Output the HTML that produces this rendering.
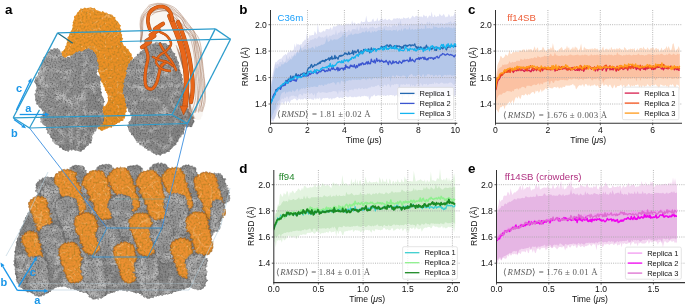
<!DOCTYPE html>
<html><head><meta charset="utf-8"><title>RMSD figure</title>
<style>
html,body{margin:0;padding:0;background:#fff;width:685px;height:304px;overflow:hidden}
svg{display:block;will-change:transform}
text{font-family:"Liberation Sans",sans-serif}
.g{stroke:#a4a4a4;stroke-width:0.8;stroke-dasharray:1 1.2}
.sp{stroke:#333;stroke-width:1.05}
.tk{stroke:#333;stroke-width:0.8}
.tl{font-size:8.6px;fill:#111}
.al{font-size:8.6px;fill:#111}
.pl{font-size:13.4px;font-weight:bold;fill:#000}
.tt{font-size:9.6px}
.rm{font-family:"Liberation Serif",serif;font-size:8.8px;fill:#5a5a5a}
.lg{font-size:7.5px;fill:#111}
.ab{font-size:11px;font-weight:bold;fill:#1a96e8}
</style></head><body>
<svg xmlns="http://www.w3.org/2000/svg" width="685" height="304" viewBox="0 0 685 304">
<rect width="685" height="304" fill="#fff"/>
<g id="panel-a">
<defs>
<filter id="texG" filterUnits="userSpaceOnUse" x="0" y="0" width="685" height="304">
  <feTurbulence type="fractalNoise" baseFrequency="0.6" numOctaves="2" seed="3" result="n"/>
  <feColorMatrix in="n" type="matrix" values="0 0 0 0 0.12  0 0 0 0 0.12  0 0 0 0 0.12  2.4 0 0 0 -1.0" result="a"/>
  <feTurbulence type="turbulence" baseFrequency="0.07" numOctaves="2" seed="5" result="n2"/>
  <feColorMatrix in="n2" type="matrix" values="0 0 0 0 0.8  0 0 0 0 0.8  0 0 0 0 0.8  -3.2 0 0 0 0.6" result="b0"/>
  <feGaussianBlur in="b0" stdDeviation="0.8" result="b"/>
  <feTurbulence type="fractalNoise" baseFrequency="0.09" numOctaves="1" seed="12" result="n3"/>
  <feColorMatrix in="n3" type="matrix" values="0 0 0 0 0.25  0 0 0 0 0.25  0 0 0 0 0.25  2.2 0 0 0 -0.95" result="c"/>
  <feMerge result="tx"><feMergeNode in="c"/><feMergeNode in="b"/><feMergeNode in="a"/></feMerge>
  <feComposite in="tx" in2="SourceGraphic" operator="in" result="m"/>
  <feMerge><feMergeNode in="SourceGraphic"/><feMergeNode in="m"/></feMerge>
</filter>
<filter id="texO" filterUnits="userSpaceOnUse" x="0" y="0" width="685" height="304">
  <feTurbulence type="fractalNoise" baseFrequency="0.5" numOctaves="2" seed="9" result="n"/>
  <feColorMatrix in="n" type="matrix" values="0 0 0 0 0.45  0 0 0 0 0.22  0 0 0 0 0.02  2.4 0 0 0 -1.0" result="a"/>
  <feTurbulence type="turbulence" baseFrequency="0.085" numOctaves="2" seed="6" result="n2"/>
  <feColorMatrix in="n2" type="matrix" values="0 0 0 0 1  0 0 0 0 0.68  0 0 0 0 0.25  -3.5 0 0 0 0.4" result="b0"/>
  <feGaussianBlur in="b0" stdDeviation="0.45" result="b"/>
  <feMerge result="tx"><feMergeNode in="b"/><feMergeNode in="a"/></feMerge>
  <feComposite in="tx" in2="SourceGraphic" operator="in" result="m"/>
  <feMerge><feMergeNode in="SourceGraphic"/><feMergeNode in="m"/></feMerge>
</filter>
<linearGradient id="gG1" x1="0" y1="0" x2="1" y2="1">
  <stop offset="0" stop-color="#a0a0a0"/><stop offset="0.55" stop-color="#8e8e8e"/><stop offset="1" stop-color="#7a7a7a"/>
</linearGradient>
<linearGradient id="gG2" x1="0" y1="0" x2="1" y2="1">
  <stop offset="0" stop-color="#9a9a9a"/><stop offset="0.6" stop-color="#8c8c8c"/><stop offset="1" stop-color="#7a7a7a"/>
</linearGradient>
<linearGradient id="gO" x1="0" y1="0" x2="1" y2="1">
  <stop offset="0" stop-color="#f4982c"/><stop offset="1" stop-color="#e68a22"/>
</linearGradient>
</defs>
<path d="M74.4,18.3 L73.9,17.0 L74.2,16.0 L75.7,15.6 L76.3,14.7 L76.8,13.8 L77.1,12.8 L78.0,12.2 L78.6,11.4 L79.2,10.5 L80.0,9.9 L80.5,8.6 L81.9,8.7 L83.1,9.0 L83.9,8.0 L84.8,7.5 L86.0,8.2 L87.0,8.2 L88.0,7.8 L89.0,8.0 L90.1,7.2 L91.2,7.5 L92.1,8.1 L93.1,8.4 L94.4,7.7 L95.1,8.7 L95.9,9.7 L96.7,10.2 L97.7,10.5 L98.7,10.7 L99.5,11.3 L100.5,11.4 L101.2,12.3 L102.4,11.2 L103.4,11.5 L104.2,12.6 L105.2,12.8 L106.4,12.4 L107.3,12.9 L108.1,13.9 L109.1,13.9 L110.0,14.4 L111.2,14.4 L112.2,14.8 L112.9,15.7 L113.3,16.8 L114.7,16.9 L115.5,17.6 L115.2,19.1 L115.9,19.9 L116.5,20.7 L117.5,21.3 L118.0,22.1 L118.7,22.9 L119.2,23.8 L119.8,24.7 L120.9,25.4 L120.4,26.7 L120.0,27.9 L120.8,28.8 L121.3,29.7 L120.7,30.8 L120.7,31.8 L121.3,32.7 L121.1,33.8 L122.1,34.6 L122.1,35.6 L122.0,36.7 L122.1,37.7 L123.2,38.5 L122.5,39.7 L122.1,40.7 L122.1,41.7 L122.6,42.7 L122.9,43.6 L123.1,44.5 L123.8,45.2 L123.7,46.3 L125.3,46.0 L125.9,46.7 L126.2,48.0 L127.0,48.7 L128.2,49.0 L128.7,49.9 L128.8,51.1 L129.7,51.7 L130.1,52.7 L131.0,53.3 L131.7,54.2 L131.8,55.3 L131.5,56.5 L132.8,57.2 L133.0,58.2 L132.0,59.4 L132.1,60.4 L132.1,61.5 L132.4,62.5 L132.3,63.6 L132.0,64.6 L131.6,65.6 L131.3,66.5 L131.6,67.7 L130.3,68.3 L129.5,69.0 L129.5,70.1 L129.5,71.1 L128.6,71.9 L128.1,72.8 L128.2,73.9 L127.6,74.7 L128.2,75.9 L127.6,76.7 L126.9,77.6 L127.1,78.6 L127.8,79.6 L126.8,80.5 L126.5,81.5 L126.5,82.5 L126.6,83.5 L127.1,84.5 L127.1,85.5 L127.2,86.5 L126.6,87.5 L128.0,88.5 L127.5,89.5 L126.5,90.5 L126.7,91.5 L127.1,92.5 L127.1,93.5 L126.8,94.5 L127.2,95.5 L126.9,96.5 L127.6,97.6 L127.8,98.6 L127.2,99.6 L126.6,100.6 L127.5,101.6 L127.4,102.6 L126.4,103.6 L126.4,104.6 L126.4,105.6 L126.6,106.6 L126.8,107.7 L126.6,108.7 L126.1,109.6 L126.5,110.7 L126.8,111.7 L125.5,112.5 L125.2,113.5 L125.3,114.5 L125.5,115.6 L125.1,116.6 L124.9,117.7 L124.5,118.8 L123.4,119.3 L123.2,120.7 L122.1,121.0 L120.9,121.1 L120.1,121.7 L119.6,122.8 L118.4,122.7 L117.4,123.0 L116.8,123.9 L115.7,124.1 L115.2,125.2 L114.3,125.7 L113.4,126.2 L112.2,126.1 L111.9,127.7 L110.7,127.6 L109.4,127.2 L108.5,127.7 L107.7,128.5 L106.8,128.8 L105.7,128.9 L104.9,129.7 L103.8,129.5 L103.0,130.5 L101.8,130.8 L100.6,130.2 L99.8,129.3 L98.3,129.3 L97.8,128.1 L98.1,126.8 L97.7,125.8 L98.0,124.8 L98.0,123.6 L98.3,122.6 L98.6,121.7 L99.5,121.0 L99.3,119.8 L99.6,118.8 L100.9,118.3 L101.6,117.6 L101.8,116.5 L101.9,115.5 L102.6,114.7 L102.4,113.7 L102.3,112.8 L102.5,111.9 L101.7,111.0 L102.1,109.9 L102.6,108.8 L102.1,107.8 L102.0,106.6 L103.2,105.8 L103.7,104.9 L103.9,103.9 L104.5,103.1 L104.6,102.0 L104.9,101.1 L105.4,100.2 L106.2,99.5 L105.8,98.2 L107.0,97.7 L107.8,97.0 L108.0,96.0 L107.4,95.1 L107.3,94.1 L106.9,93.3 L106.0,92.6 L106.4,91.3 L105.0,90.8 L104.8,89.8 L104.8,88.7 L104.8,87.6 L103.6,87.1 L103.6,86.0 L103.6,84.9 L102.7,84.2 L102.6,83.1 L101.8,82.4 L101.2,81.5 L100.6,80.7 L100.9,79.5 L99.9,78.8 L99.5,77.8 L99.9,76.6 L99.7,75.6 L99.5,74.6 L99.0,73.7 L98.9,72.7 L98.1,71.8 L98.0,70.8 L98.1,69.8 L97.4,68.8 L97.6,67.8 L97.8,66.8 L97.6,65.8 L97.0,64.9 L97.5,63.8 L97.0,62.9 L96.3,62.2 L96.4,61.1 L95.4,60.6 L94.5,60.1 L93.8,59.5 L93.6,58.3 L92.2,58.6 L91.7,57.6 L91.1,56.8 L90.2,56.3 L89.2,56.1 L88.3,55.7 L87.3,55.8 L86.3,56.5 L85.4,55.5 L84.4,56.1 L83.4,56.1 L82.4,55.9 L81.4,55.2 L80.3,55.8 L79.3,55.5 L78.4,55.0 L77.3,55.6 L76.4,55.3 L75.4,55.2 L74.4,55.6 L73.4,56.0 L72.4,55.4 L71.4,55.8 L70.5,55.9 L69.5,55.5 L68.6,55.8 L67.6,56.0 L67.0,56.8 L66.1,57.4 L65.6,58.7 L64.7,59.1 L63.5,59.0 L62.9,60.1 L61.9,60.3 L60.7,60.4 L59.5,60.4 L58.3,59.9 L58.3,58.5 L57.7,57.5 L57.6,56.3 L58.8,55.6 L59.2,54.5 L59.7,53.5 L60.4,52.9 L61.6,52.8 L61.6,51.5 L62.8,51.2 L63.5,50.5 L64.2,49.7 L64.7,48.9 L65.3,48.1 L65.4,47.0 L65.4,45.9 L66.8,45.5 L66.4,44.3 L66.6,43.5 L66.8,42.7 L67.5,41.7 L66.6,40.8 L67.1,39.7 L67.6,38.7 L67.4,37.5 L68.3,36.8 L68.9,36.0 L69.1,34.9 L69.1,33.8 L70.1,33.2 L70.3,32.3 L70.6,31.4 L71.4,30.6 L71.8,29.7 L72.3,28.8 L72.5,27.8 L72.8,26.9 L72.3,25.7 L72.4,24.8 L73.3,23.9 L72.7,22.9 L72.9,21.9 L73.4,20.9 L73.7,19.9 Z" fill="url(#gO)" filter="url(#texO)"/>
<path d="M101.5,97.0 L101.8,96.3 L102.3,95.8 L103.0,95.5 L103.7,95.4 L104.4,95.4 L105.0,95.5 L105.6,95.8 L106.2,96.2 L106.8,96.8 L107.4,97.5 L107.8,98.3 L108.0,99.0 L108.0,99.8 L107.9,100.7 L107.7,101.6 L107.3,102.5 L106.9,103.3 L106.5,104.0 L106.0,104.6 L105.4,105.3 L104.8,105.9 L104.1,106.3 L103.5,106.3 L103.0,106.0 L102.6,105.0 L102.2,103.5 L101.8,101.7 L101.6,99.9 L101.4,98.2 Z" fill="#fff"/>
<path d="M148.3,5.3 L149.5,5.3 L150.4,4.8 L151.2,4.1 L152.1,3.7 L153.2,3.7 L154.1,3.2 L155.1,3.0 L156.1,2.7 L157.1,2.3 L158.1,2.6 L159.1,2.9 L160.2,2.5 L161.2,2.5 L162.1,3.2 L163.1,3.4 L164.1,3.5 L165.1,3.7 L166.1,3.8 L167.1,4.1 L168.0,4.6 L169.0,4.9 L170.1,4.9 L170.8,5.8 L171.6,6.5 L172.5,6.8 L173.5,7.2 L174.3,7.9 L175.1,8.4 L176.0,8.8 L176.6,9.8 L177.8,9.9 L178.5,10.7 L178.9,11.7 L179.7,12.4 L180.7,12.8 L181.1,13.8 L181.6,14.7 L182.3,15.4 L182.8,16.3 L183.7,16.9 L184.3,17.7 L184.8,18.6 L184.9,19.7 L186.1,20.2 L186.4,21.2 L186.3,22.3 L186.9,23.1 L187.7,23.8 L188.4,24.5 L188.9,25.4 L189.8,25.9 L190.5,26.6 L191.4,27.0 L192.3,27.6 L192.7,28.7 L193.1,29.6 L194.1,30.2 L194.7,31.1 L194.6,32.2 L195.1,33.1 L195.7,34.0 L196.3,34.8 L196.9,35.6 L197.2,36.6 L197.5,37.5 L198.1,38.4 L198.8,39.2 L198.6,40.3 L198.8,41.3 L199.3,42.2 L199.8,43.1 L199.9,44.1 L200.1,45.1 L200.6,46.0 L200.6,47.1 L201.4,48.0 L201.3,49.0 L201.1,50.0 L201.4,51.0 L202.0,52.0 L201.6,53.0 L201.5,54.0 L201.7,55.0 L201.7,56.0 L202.2,57.0 L202.3,58.0 L202.4,59.0 L202.2,60.0 L203.1,60.9 L203.0,61.9 L202.5,63.0 L202.8,64.0 L203.1,64.9 L203.2,65.9 L203.1,67.0 L203.5,67.9 L203.5,68.9 L204.0,69.9 L204.2,70.9 L204.0,71.9 L203.7,72.9 L204.4,73.9 L204.5,74.9 L204.1,75.9 L204.2,76.9 L204.4,77.9 L204.7,78.9 L204.9,79.9 L205.0,80.9 L204.9,81.9 L205.3,82.8 L205.7,83.8 L205.2,84.9 L205.1,85.9 L205.3,86.9 L205.6,87.8 L205.4,88.9 L205.5,89.9 L205.8,90.8 L205.6,91.9 L206.2,92.8 L206.0,93.9 L205.7,94.9 L206.0,95.9 L206.4,96.9 L205.8,97.9 L205.6,98.9 L205.7,99.9 L205.5,100.9 L205.7,101.9 L205.6,102.9 L205.5,103.9 L204.9,104.8 L205.5,106.0 L205.0,106.9 L204.2,107.8 L204.1,108.8 L204.1,109.8 L203.7,110.8 L203.2,111.6 L203.2,112.7 L202.7,113.6 L202.7,114.7 L202.5,115.7 L201.8,116.5 L201.2,117.3 L201.2,118.5 L200.6,119.4 L199.4,119.8 L198.5,120.1 L197.5,120.0 L196.5,119.8 L195.6,119.3 L194.7,118.6 L194.1,117.8 L193.3,117.2 L192.4,116.6 L192.3,115.4 L192.0,114.4 L191.4,113.6 L190.8,112.7 L190.7,111.7 L190.3,110.7 L189.7,109.9 L189.6,108.9 L188.7,108.1 L188.5,107.2 L188.3,106.2 L187.8,105.3 L186.9,104.6 L186.9,103.5 L186.7,102.5 L186.3,101.6 L185.8,100.7 L185.2,99.9 L184.7,99.0 L184.1,98.2 L184.1,97.1 L182.9,96.7 L182.5,95.7 L182.4,94.7 L181.7,93.9 L180.8,93.4 L180.2,92.6 L179.6,91.8 L178.6,91.4 L178.0,90.6 L176.9,90.4 L176.1,89.9 L175.4,89.1 L174.7,88.3 L173.5,88.3 L172.7,87.8 L172.1,86.8 L171.3,86.3 L170.4,85.8 L169.4,85.6 L168.5,85.2 L167.5,84.8 L166.7,84.2 L165.7,83.9 L164.7,83.7 L164.1,82.7 L163.3,82.0 L162.3,81.7 L161.4,81.4 L160.7,80.6 L159.8,80.1 L158.8,79.8 L158.1,79.0 L157.0,79.0 L156.2,78.4 L155.4,77.7 L154.5,77.2 L153.4,77.1 L152.8,76.2 L152.0,75.6 L151.2,75.0 L150.3,74.6 L149.3,74.2 L148.5,73.6 L147.6,73.1 L147.1,72.2 L145.8,72.1 L145.2,71.2 L144.9,70.1 L144.3,69.3 L143.5,68.6 L143.1,67.6 L142.9,66.6 L142.3,65.8 L142.1,64.8 L141.3,63.9 L141.0,63.0 L140.9,61.9 L141.0,60.9 L140.2,60.0 L140.0,59.0 L140.5,57.9 L140.3,57.0 L140.1,56.0 L139.7,55.0 L139.6,54.0 L139.4,53.0 L139.4,52.0 L139.3,51.0 L139.0,49.9 L139.6,49.0 L139.9,48.0 L139.7,47.0 L139.7,45.9 L140.1,45.0 L140.1,44.0 L140.0,43.0 L140.3,42.0 L139.8,41.0 L140.0,40.0 L140.1,39.0 L140.1,38.0 L139.6,37.0 L140.1,36.0 L140.3,35.0 L140.1,34.0 L140.1,33.0 L139.8,32.0 L139.7,31.0 L139.4,30.0 L139.8,29.0 L139.2,28.0 L139.2,27.0 L139.5,26.0 L139.8,25.0 L139.4,24.0 L139.5,23.0 L139.8,22.0 L139.4,21.0 L139.7,20.0 L139.6,18.9 L139.6,17.9 L139.9,16.9 L140.6,16.0 L140.6,14.9 L141.1,14.0 L142.0,13.4 L142.5,12.5 L143.0,11.6 L143.6,10.8 L144.2,10.0 L144.6,9.0 L145.3,8.3 L146.1,7.6 L146.6,6.7 Z" fill="#efe4dc" fill-opacity="0.35"/>
<path d="M148.6,5.3 L149.6,5.1 L151.0,4.7 L152.6,4.3 L154.4,3.9 L156.2,3.6 L157.9,3.4 L159.5,3.4 L161.1,3.5 L162.8,3.7 L164.4,3.9 L166.0,4.3 L167.6,4.7 L169.0,5.1 L170.4,5.6 L171.8,6.2 L173.1,6.8 L174.4,7.6 L175.7,8.6 L177.1,9.8 L178.4,11.3 L179.8,12.8 L181.1,14.4 L182.3,16.0 L183.4,17.3 L184.3,18.5 L185.2,19.5 L185.9,20.4 L186.6,21.4 L187.3,22.3 L188.1,23.4 L189.0,24.5 L189.9,25.8 L190.8,27.0 L191.7,28.3 L192.6,29.6 L193.5,30.8 L194.4,32.0 L195.3,33.2 L196.3,34.4 L197.1,35.5 L197.9,36.8 L198.6,38.1 L199.2,39.5 L199.6,41.0 L200.0,42.5 L200.4,44.0 L200.7,45.7 L201.0,47.4 L201.2,49.3 L201.4,51.3 L201.6,53.4 L201.8,55.5 L202.0,57.7 L202.2,59.8 L202.4,61.8 L202.7,63.9 L202.9,65.9 L203.2,68.0 L203.4,70.1 L203.6,72.3 L203.9,74.4 L204.1,76.6 L204.4,78.9 L204.6,81.1 L204.8,83.4 L205.0,85.7 L205.1,88.1 L205.2,90.6 L205.4,93.2 L205.4,95.7 L205.4,98.1 L205.2,100.4 L204.9,102.6 L204.3,104.9 L203.7,107.1 L203.1,109.0 L202.5,110.7 L202.2,111.9" fill="none" stroke="#8a5030" stroke-width="0.5" stroke-opacity="0.7"/>
<path d="M148.8,7.0 L149.8,6.7 L151.0,6.2 L152.5,5.6 L154.1,5.0 L155.8,4.6 L157.4,4.3 L158.9,4.2 L160.5,4.3 L162.2,4.4 L163.8,4.7 L165.5,5.0 L167.0,5.4 L168.4,6.0 L169.8,6.6 L171.2,7.3 L172.5,8.1 L173.8,9.0 L175.0,9.9 L176.3,10.9 L177.5,12.0 L178.6,13.1 L179.8,14.3 L180.8,15.5 L181.9,16.7 L182.9,17.9 L183.8,19.2 L184.7,20.4 L185.6,21.7 L186.5,22.9 L187.5,24.1 L188.5,25.2 L189.6,26.3 L190.8,27.3 L191.9,28.4 L192.9,29.5 L193.7,30.7 L194.4,32.0 L194.9,33.4 L195.3,34.8 L195.7,36.2 L196.1,37.7 L196.5,39.1 L197.0,40.6 L197.5,42.0 L198.0,43.4 L198.5,44.9 L199.0,46.4 L199.5,48.0 L199.9,49.7 L200.2,51.5 L200.6,53.3 L200.9,55.1 L201.2,57.0 L201.5,59.0 L201.8,61.0 L202.0,63.1 L202.2,65.3 L202.4,67.5 L202.6,69.7 L202.8,71.9 L203.1,74.1 L203.4,76.3 L203.7,78.6 L204.0,80.8 L204.2,83.1 L204.4,85.4 L204.5,87.7 L204.5,90.1 L204.5,92.5 L204.5,94.9 L204.4,97.2 L204.2,99.5 L203.8,101.7 L203.4,104.1 L202.8,106.4 L202.3,108.5 L201.8,110.3 L201.5,111.6" fill="none" stroke="#8a5030" stroke-width="0.5" stroke-opacity="0.7"/>
<path d="M150.4,8.5 L151.4,8.1 L152.7,7.6 L154.3,7.0 L156.0,6.4 L157.7,6.0 L159.2,5.7 L160.6,5.7 L162.0,5.7 L163.4,5.9 L164.8,6.2 L166.1,6.6 L167.4,7.0 L168.7,7.5 L169.9,8.1 L171.1,8.7 L172.4,9.5 L173.6,10.3 L174.8,11.2 L176.1,12.2 L177.5,13.2 L178.9,14.4 L180.2,15.6 L181.5,16.9 L182.6,18.1 L183.5,19.3 L184.2,20.5 L184.8,21.8 L185.4,23.0 L186.0,24.2 L186.8,25.3 L187.7,26.3 L188.7,27.1 L189.7,27.8 L190.7,28.6 L191.7,29.4 L192.5,30.5 L193.3,31.7 L194.0,33.1 L194.7,34.6 L195.3,36.1 L195.9,37.7 L196.4,39.1 L197.0,40.5 L197.4,41.8 L197.9,43.1 L198.3,44.5 L198.7,46.0 L199.1,47.6 L199.4,49.3 L199.8,51.2 L200.2,53.2 L200.5,55.3 L200.8,57.3 L201.0,59.4 L201.1,61.3 L201.1,63.2 L201.1,65.2 L201.0,67.2 L201.1,69.2 L201.2,71.4 L201.5,73.6 L201.9,76.0 L202.3,78.5 L202.8,81.0 L203.1,83.4 L203.3,85.8 L203.3,88.2 L203.1,90.5 L202.9,92.8 L202.6,95.0 L202.3,97.3 L202.1,99.4 L201.8,101.7 L201.6,104.0 L201.3,106.3 L201.0,108.4 L200.7,110.2 L200.6,111.5" fill="none" stroke="#8a5030" stroke-width="0.5" stroke-opacity="0.7"/>
<path d="M149.4,9.6 L150.2,9.2 L151.4,8.6 L152.8,7.9 L154.3,7.2 L155.9,6.7 L157.4,6.3 L158.9,6.2 L160.6,6.2 L162.2,6.3 L163.9,6.5 L165.5,6.9 L167.0,7.3 L168.4,8.0 L169.7,8.9 L171.0,9.9 L172.3,10.9 L173.5,12.0 L174.7,13.0 L175.8,13.9 L177.0,14.8 L178.1,15.6 L179.2,16.5 L180.2,17.5 L181.1,18.5 L181.9,19.7 L182.5,20.9 L183.1,22.2 L183.7,23.5 L184.3,24.8 L185.1,25.9 L186.0,26.8 L187.0,27.7 L188.1,28.5 L189.2,29.3 L190.3,30.1 L191.2,31.1 L192.0,32.2 L192.8,33.4 L193.5,34.7 L194.1,36.0 L194.7,37.4 L195.3,38.8 L195.8,40.1 L196.2,41.5 L196.6,43.0 L197.0,44.5 L197.3,46.0 L197.7,47.7 L198.0,49.6 L198.4,51.5 L198.7,53.5 L199.0,55.6 L199.3,57.7 L199.6,59.8 L199.8,61.9 L200.0,64.1 L200.2,66.4 L200.4,68.6 L200.6,70.8 L200.8,73.0 L201.0,75.0 L201.2,77.0 L201.4,79.0 L201.6,81.0 L201.8,83.0 L201.9,85.2 L202.1,87.6 L202.3,90.1 L202.4,92.7 L202.5,95.3 L202.4,97.8 L202.2,100.2 L201.8,102.5 L201.2,104.9 L200.4,107.2 L199.7,109.4 L199.0,111.1 L198.6,112.5" fill="none" stroke="#8a5030" stroke-width="0.5" stroke-opacity="0.7"/>
<path d="M150.3,10.1 L151.1,9.7 L152.2,9.1 L153.4,8.5 L154.8,7.8 L156.3,7.3 L157.7,7.1 L159.2,7.1 L160.7,7.3 L162.4,7.6 L164.0,8.1 L165.6,8.6 L167.0,9.1 L168.3,9.7 L169.5,10.4 L170.7,11.1 L171.8,11.9 L172.9,12.8 L174.1,13.6 L175.4,14.5 L176.7,15.4 L178.1,16.4 L179.5,17.3 L180.7,18.4 L181.7,19.4 L182.6,20.5 L183.3,21.8 L183.8,23.0 L184.3,24.3 L184.9,25.5 L185.5,26.5 L186.2,27.3 L186.9,28.0 L187.7,28.6 L188.4,29.2 L189.2,29.9 L190.0,30.8 L190.7,32.0 L191.6,33.3 L192.4,34.7 L193.2,36.2 L193.9,37.7 L194.5,39.2 L195.0,40.6 L195.5,42.0 L195.8,43.4 L196.1,44.8 L196.4,46.4 L196.8,48.0 L197.1,49.9 L197.5,51.8 L197.9,53.9 L198.3,56.0 L198.6,58.1 L198.9,60.1 L199.2,62.1 L199.4,64.1 L199.6,66.0 L199.7,68.0 L199.9,70.1 L200.0,72.2 L200.2,74.5 L200.4,77.0 L200.5,79.5 L200.7,82.0 L200.8,84.5 L200.8,86.9 L200.9,89.2 L200.9,91.5 L200.9,93.7 L200.8,95.9 L200.7,98.0 L200.5,100.1 L200.2,102.2 L199.7,104.4 L199.3,106.6 L198.8,108.6 L198.4,110.3 L198.1,111.5" fill="none" stroke="#8a5030" stroke-width="0.5" stroke-opacity="0.7"/>
<path d="M150.5,11.9 L151.3,11.6 L152.5,11.2 L153.9,10.7 L155.4,10.2 L156.9,9.8 L158.3,9.5 L159.7,9.2 L161.2,8.9 L162.7,8.6 L164.1,8.5 L165.6,8.5 L167.0,8.8 L168.4,9.5 L169.8,10.4 L171.1,11.5 L172.4,12.7 L173.7,13.9 L174.8,15.0 L175.8,16.1 L176.6,17.3 L177.4,18.4 L178.2,19.5 L178.9,20.6 L179.7,21.6 L180.6,22.5 L181.4,23.3 L182.2,24.1 L183.1,24.8 L183.9,25.6 L184.7,26.4 L185.5,27.2 L186.3,28.0 L187.1,28.7 L187.8,29.6 L188.6,30.4 L189.4,31.4 L190.2,32.4 L191.1,33.6 L192.1,34.7 L192.9,36.0 L193.7,37.3 L194.3,38.6 L194.8,40.0 L195.1,41.4 L195.4,43.0 L195.5,44.5 L195.7,46.2 L195.9,47.9 L196.2,49.7 L196.4,51.5 L196.7,53.5 L196.9,55.5 L197.1,57.5 L197.4,59.5 L197.6,61.6 L197.8,63.8 L198.0,66.0 L198.2,68.2 L198.4,70.4 L198.6,72.5 L198.8,74.7 L199.1,76.8 L199.4,78.9 L199.6,81.1 L199.8,83.3 L199.8,85.5 L199.7,87.9 L199.6,90.4 L199.3,92.9 L199.0,95.4 L198.7,97.8 L198.4,100.1 L198.0,102.3 L197.6,104.6 L197.1,106.8 L196.7,108.8 L196.3,110.5 L196.0,111.7" fill="none" stroke="#8a5030" stroke-width="0.5" stroke-opacity="0.7"/>
<path d="M150.1,13.6 L151.0,13.0 L152.3,12.2 L153.7,11.3 L155.3,10.4 L156.9,9.7 L158.5,9.3 L160.0,9.2 L161.6,9.4 L163.2,9.7 L164.7,10.2 L166.2,10.7 L167.5,11.2 L168.5,11.7 L169.2,12.3 L169.9,13.0 L170.6,13.7 L171.3,14.5 L172.2,15.3 L173.3,16.3 L174.5,17.4 L175.9,18.6 L177.2,19.8 L178.4,21.0 L179.5,22.1 L180.4,23.1 L181.2,24.1 L181.9,25.1 L182.6,26.0 L183.3,26.9 L184.0,27.8 L184.7,28.7 L185.5,29.6 L186.3,30.4 L187.1,31.2 L187.9,32.0 L188.7,32.9 L189.5,33.8 L190.5,34.6 L191.4,35.5 L192.3,36.4 L193.0,37.5 L193.6,38.7 L194.0,40.2 L194.2,41.9 L194.3,43.8 L194.4,45.7 L194.5,47.5 L194.6,49.3 L194.8,51.1 L195.1,52.7 L195.3,54.4 L195.6,56.1 L195.8,57.9 L196.1,59.7 L196.3,61.7 L196.5,63.7 L196.7,65.8 L197.0,67.9 L197.2,70.0 L197.4,72.2 L197.7,74.5 L198.0,76.8 L198.4,79.1 L198.6,81.5 L198.8,83.8 L198.9,86.2 L198.8,88.5 L198.6,90.9 L198.3,93.3 L198.0,95.7 L197.6,98.0 L197.3,100.3 L197.0,102.6 L196.6,105.1 L196.2,107.5 L195.8,109.7 L195.4,111.6 L195.2,112.9" fill="none" stroke="#8a5030" stroke-width="0.5" stroke-opacity="0.7"/>
<path d="M151.3,13.0 L151.9,12.9 L152.8,12.7 L153.8,12.4 L155.0,12.1 L156.2,11.9 L157.5,11.6 L158.9,11.3 L160.5,11.0 L162.1,10.6 L163.8,10.3 L165.3,10.2 L166.7,10.5 L167.9,11.1 L168.9,12.0 L169.8,13.2 L170.7,14.4 L171.6,15.6 L172.6,16.7 L173.8,17.6 L175.0,18.5 L176.3,19.4 L177.6,20.3 L178.7,21.2 L179.7,22.2 L180.6,23.3 L181.3,24.5 L181.9,25.7 L182.5,26.9 L183.1,28.1 L183.7,29.0 L184.3,29.7 L184.9,30.2 L185.5,30.6 L186.2,31.0 L186.8,31.5 L187.5,32.2 L188.3,33.2 L189.2,34.4 L190.1,35.7 L191.0,37.1 L191.8,38.5 L192.5,39.9 L193.0,41.2 L193.4,42.5 L193.7,43.8 L194.0,45.1 L194.2,46.6 L194.5,48.2 L194.8,49.9 L195.1,51.8 L195.4,53.8 L195.7,55.9 L196.0,57.9 L196.1,59.9 L196.2,61.8 L196.3,63.7 L196.2,65.6 L196.2,67.5 L196.2,69.5 L196.3,71.6 L196.4,73.8 L196.5,76.2 L196.7,78.6 L197.0,81.1 L197.1,83.6 L197.3,86.0 L197.5,88.3 L197.7,90.7 L197.9,93.0 L198.0,95.4 L198.1,97.7 L197.9,99.9 L197.5,102.2 L196.9,104.7 L196.2,107.2 L195.5,109.4 L194.8,111.3 L194.4,112.7" fill="none" stroke="#8a5030" stroke-width="0.5" stroke-opacity="0.7"/>
<path d="M151.5,15.4 L152.1,15.0 L152.7,14.4 L153.6,13.8 L154.5,13.1 L155.7,12.5 L156.9,12.0 L158.4,11.7 L160.3,11.3 L162.2,11.0 L164.2,10.9 L166.0,11.0 L167.4,11.3 L168.5,12.1 L169.3,13.2 L169.9,14.5 L170.5,15.9 L171.1,17.2 L171.9,18.3 L172.9,19.2 L174.0,20.0 L175.2,20.7 L176.4,21.4 L177.5,22.2 L178.5,23.0 L179.3,23.9 L180.0,25.0 L180.6,26.1 L181.2,27.1 L181.8,28.1 L182.5,29.0 L183.3,29.8 L184.1,30.4 L185.0,31.0 L185.8,31.5 L186.6,32.1 L187.3,32.9 L187.9,33.7 L188.5,34.5 L189.0,35.4 L189.5,36.4 L190.0,37.4 L190.4,38.7 L190.9,40.1 L191.4,41.6 L191.8,43.3 L192.3,45.1 L192.7,46.9 L193.1,48.7 L193.4,50.5 L193.7,52.4 L194.0,54.4 L194.3,56.4 L194.6,58.4 L194.8,60.3 L194.9,62.1 L195.0,63.9 L195.0,65.6 L195.0,67.4 L195.1,69.3 L195.1,71.4 L195.2,73.6 L195.4,76.1 L195.5,78.7 L195.7,81.3 L195.8,83.9 L195.8,86.3 L195.9,88.6 L195.9,90.9 L195.9,93.1 L195.8,95.3 L195.7,97.4 L195.4,99.5 L194.9,101.8 L194.2,104.2 L193.5,106.6 L192.7,108.8 L192.1,110.7 L191.6,112.1" fill="none" stroke="#8a5030" stroke-width="0.5" stroke-opacity="0.7"/>
<path d="M148.9,5.9 L148.0,6.9 L146.9,8.3 L145.5,9.9 L144.1,11.7 L142.8,13.5 L141.9,15.1 L141.2,16.7 L140.8,18.2 L140.5,19.8 L140.3,21.3 L140.2,22.8 L140.1,24.4 L140.2,25.9 L140.4,27.5 L140.7,29.0 L141.0,30.5 L141.3,32.1 L141.4,33.5 L141.3,35.1 L141.2,36.7 L140.9,38.3 L140.7,39.7 L140.5,41.0 L140.3,41.9" fill="none" stroke="#8a5030" stroke-width="0.5" stroke-opacity="0.65"/>
<path d="M150.3,6.8 L149.4,7.8 L148.1,9.1 L146.6,10.7 L145.0,12.4 L143.7,14.1 L142.7,15.6 L142.0,17.0 L141.6,18.3 L141.4,19.6 L141.3,20.9 L141.2,22.2 L141.1,23.7 L141.0,25.2 L140.9,26.9 L140.9,28.5 L140.9,30.2 L140.9,31.9 L140.8,33.5 L140.7,35.1 L140.7,36.8 L140.6,38.5 L140.5,40.0 L140.4,41.3 L140.4,42.3" fill="none" stroke="#8a5030" stroke-width="0.5" stroke-opacity="0.65"/>
<path d="M151.1,8.0 L150.2,8.8 L149.0,10.0 L147.6,11.3 L146.2,12.8 L144.9,14.3 L143.9,15.7 L143.1,17.1 L142.5,18.4 L142.0,19.8 L141.6,21.2 L141.4,22.6 L141.2,24.0 L141.1,25.5 L141.3,26.9 L141.5,28.4 L141.8,29.9 L141.9,31.4 L142.0,32.9 L141.8,34.6 L141.5,36.4 L141.2,38.2 L140.8,40.0 L140.5,41.4 L140.3,42.5" fill="none" stroke="#8a5030" stroke-width="0.5" stroke-opacity="0.65"/>
<path d="M152.9,8.0 L151.9,8.8 L150.4,9.8 L148.8,11.1 L147.1,12.4 L145.5,13.9 L144.4,15.2 L143.6,16.6 L143.1,18.0 L142.7,19.4 L142.5,20.9 L142.3,22.4 L142.2,23.9 L142.1,25.4 L142.1,26.9 L142.3,28.4 L142.4,29.9 L142.5,31.5 L142.4,33.0 L142.3,34.7 L142.0,36.5 L141.6,38.3 L141.3,39.9 L141.0,41.3 L140.8,42.3" fill="none" stroke="#8a5030" stroke-width="0.5" stroke-opacity="0.65"/>
<path d="M153.9,8.2 L152.8,9.2 L151.3,10.5 L149.5,12.0 L147.6,13.6 L146.0,15.2 L144.8,16.6 L144.0,17.9 L143.6,19.0 L143.3,20.1 L143.1,21.2 L143.0,22.4 L142.9,23.8 L142.8,25.2 L142.7,26.8 L142.7,28.5 L142.6,30.2 L142.6,31.8 L142.5,33.4 L142.3,35.1 L142.0,36.8 L141.8,38.6 L141.5,40.2 L141.3,41.5 L141.1,42.5" fill="none" stroke="#8a5030" stroke-width="0.5" stroke-opacity="0.65"/>
<path d="M127.9,66.5 L128.2,65.5 L128.0,64.2 L129.0,63.5 L130.0,63.0 L130.1,61.8 L130.2,60.5 L131.7,60.5 L132.3,59.7 L133.2,59.1 L133.8,58.2 L134.5,57.5 L135.4,57.1 L136.0,56.2 L137.0,55.8 L136.9,54.2 L137.9,53.8 L139.4,54.0 L139.7,52.9 L139.9,51.7 L141.0,51.4 L141.9,50.9 L142.7,50.2 L143.4,49.5 L143.5,48.2 L144.3,47.5 L145.4,47.1 L146.3,46.7 L146.5,45.1 L147.6,44.8 L149.0,45.2 L149.8,44.5 L150.7,44.1 L151.6,43.6 L152.7,43.8 L153.7,43.4 L154.7,43.2 L155.5,42.3 L156.5,41.7 L157.7,42.6 L158.7,42.7 L159.7,41.9 L160.8,41.9 L161.7,43.2 L162.7,43.2 L163.7,43.3 L164.8,43.3 L166.0,43.3 L166.8,44.1 L167.5,44.9 L168.7,45.0 L170.1,45.2 L169.9,46.9 L170.6,47.7 L171.1,48.6 L171.8,49.3 L172.1,50.3 L172.5,51.2 L173.3,51.9 L173.6,52.9 L175.2,53.1 L175.2,54.3 L174.9,55.7 L175.8,56.3 L176.8,56.8 L176.8,58.1 L176.9,59.1 L177.4,60.0 L177.4,61.1 L178.6,61.8 L178.8,62.8 L178.7,63.9 L178.5,64.9 L180.1,65.6 L179.9,66.7 L179.1,67.9 L179.5,68.8 L179.9,69.8 L180.4,70.7 L180.3,71.7 L180.8,72.6 L180.8,73.6 L181.9,74.4 L182.4,75.3 L181.7,76.5 L181.8,77.5 L182.7,78.3 L183.0,79.3 L182.2,80.5 L182.5,81.5 L183.0,82.4 L183.5,83.3 L184.2,84.2 L184.2,85.2 L184.0,86.3 L184.9,87.1 L185.7,87.8 L184.8,89.2 L185.0,90.2 L185.2,91.1 L185.8,92.1 L185.8,93.1 L185.9,94.1 L186.1,95.2 L185.9,96.2 L186.9,97.2 L186.2,98.2 L185.3,99.2 L185.9,100.2 L186.4,101.2 L185.6,102.2 L185.5,103.2 L185.7,104.1 L185.8,105.1 L186.9,105.8 L187.1,106.7 L187.2,107.7 L187.5,108.7 L189.0,109.0 L188.8,110.2 L188.8,111.3 L189.3,112.2 L190.2,112.8 L190.9,113.5 L191.3,114.5 L192.1,115.2 L192.0,116.4 L193.7,116.8 L193.9,117.9 L193.1,119.2 L193.8,120.1 L194.5,121.1 L194.2,122.3 L193.5,123.2 L193.1,124.2 L192.6,125.1 L192.2,126.4 L191.1,127.2 L189.8,126.7 L188.8,126.2 L187.8,127.4 L187.0,127.5 L185.9,126.4 L185.3,127.2 L184.7,127.8 L184.8,128.9 L184.5,129.8 L184.2,130.8 L183.9,131.8 L183.8,132.9 L183.9,134.3 L182.4,134.5 L181.6,135.2 L181.4,136.3 L181.1,137.3 L179.8,137.6 L179.2,138.4 L178.8,139.3 L178.2,140.1 L178.4,141.4 L177.6,142.1 L176.6,142.7 L176.2,143.7 L176.4,145.1 L175.0,145.3 L174.1,145.9 L173.3,146.5 L172.7,147.3 L172.2,148.2 L171.3,148.8 L170.6,149.5 L169.6,149.9 L169.7,151.7 L168.6,152.1 L167.2,151.7 L166.4,152.6 L165.7,153.3 L164.7,153.5 L163.6,153.5 L162.6,153.8 L161.7,154.2 L160.8,155.4 L159.7,155.5 L158.7,154.6 L157.7,154.5 L156.4,155.3 L155.5,154.8 L154.7,153.6 L153.6,153.6 L152.8,152.9 L151.8,152.5 L151.1,151.8 L150.4,151.0 L149.6,150.5 L148.3,150.6 L147.1,150.5 L147.0,148.9 L146.0,148.6 L145.0,148.3 L144.1,147.9 L143.8,146.5 L142.7,146.4 L142.1,145.5 L141.0,145.2 L139.7,145.2 L139.3,144.1 L138.9,143.0 L137.6,142.9 L136.4,142.5 L136.7,140.9 L135.7,140.4 L135.4,139.3 L134.8,138.5 L134.0,137.8 L133.8,136.8 L133.3,135.9 L132.5,135.2 L131.0,135.0 L131.0,133.9 L130.8,132.8 L130.0,132.2 L129.2,131.5 L128.8,130.5 L128.6,129.4 L128.3,128.4 L128.1,127.4 L127.1,126.2 L127.4,125.1 L128.7,124.5 L128.9,123.4 L128.5,122.2 L129.1,121.4 L130.3,120.8 L130.6,119.8 L131.3,119.1 L131.2,117.9 L131.5,117.1 L131.9,116.2 L132.0,115.3 L130.8,114.9 L129.9,114.5 L130.4,112.9 L129.5,112.4 L128.7,111.7 L128.0,110.9 L128.1,109.6 L127.8,108.6 L127.2,107.8 L126.7,106.8 L125.7,106.0 L126.3,104.9 L126.5,103.8 L125.6,103.0 L124.9,102.1 L125.8,100.9 L125.2,100.0 L125.4,98.9 L124.9,98.0 L124.2,97.2 L124.2,96.1 L124.2,95.1 L123.7,94.1 L122.4,93.3 L123.1,92.1 L123.3,91.1 L123.1,90.1 L123.0,89.1 L123.4,88.0 L123.7,87.0 L123.9,86.1 L124.0,85.0 L123.0,83.8 L123.5,82.9 L124.6,82.1 L124.3,81.0 L123.9,79.8 L124.7,79.0 L125.2,78.1 L125.4,77.1 L126.0,76.3 L125.9,75.2 L126.2,74.3 L126.7,73.4 L126.7,72.3 L125.8,71.2 L125.9,70.2 L127.2,69.4 L126.7,68.2 Z" fill="url(#gG2)" filter="url(#texG)"/>
<path d="M176.0,45.0 L176.8,47.5 L177.9,51.0 L179.2,55.1 L180.6,59.6 L181.9,64.0 L183.0,68.0 L184.0,71.8 L184.9,75.6 L185.8,79.3 L186.6,83.0 L187.3,86.6 L188.0,90.0 L188.6,93.3 L189.1,96.6 L189.6,99.7 L190.0,102.7 L190.5,105.5 L191.0,108.0 L191.7,110.4 L192.4,112.6 L193.2,114.6 L193.9,116.4 L194.6,117.9 L195.0,119.0" fill="none" stroke="#8a5a40" stroke-width="0.5" stroke-opacity="0.55"/>
<path d="M176.7,46.4 L177.5,48.9 L178.5,52.4 L179.8,56.6 L181.1,61.0 L182.3,65.4 L183.4,69.4 L184.3,73.1 L185.2,76.8 L186.0,80.4 L186.8,84.0 L187.5,87.4 L188.1,90.7 L188.7,93.9 L189.1,97.0 L189.5,100.0 L189.9,102.8 L190.3,105.5 L190.7,108.0 L191.3,110.3 L191.9,112.5 L192.6,114.6 L193.2,116.4 L193.8,117.9 L194.2,119.0" fill="none" stroke="#8a5a40" stroke-width="0.5" stroke-opacity="0.55"/>
<path d="M177.4,47.8 L178.1,50.3 L179.1,53.9 L180.3,58.0 L181.6,62.5 L182.8,66.8 L183.8,70.8 L184.7,74.4 L185.6,78.0 L186.3,81.5 L187.0,84.9 L187.7,88.2 L188.3,91.4 L188.8,94.5 L189.1,97.4 L189.5,100.3 L189.8,103.0 L190.1,105.6 L190.4,108.0 L190.9,110.3 L191.5,112.5 L192.0,114.5 L192.5,116.4 L193.0,117.9 L193.3,119.0" fill="none" stroke="#8a5a40" stroke-width="0.5" stroke-opacity="0.55"/>
<path d="M178.1,49.2 L178.8,51.7 L179.8,55.3 L180.9,59.5 L182.1,63.9 L183.3,68.3 L184.3,72.2 L185.1,75.7 L185.9,79.2 L186.6,82.6 L187.3,85.9 L187.9,89.1 L188.4,92.1 L188.8,95.0 L189.2,97.9 L189.4,100.6 L189.6,103.2 L189.9,105.7 L190.2,108.0 L190.5,110.2 L191.0,112.4 L191.4,114.5 L191.9,116.3 L192.2,117.9 L192.5,119.0" fill="none" stroke="#8a5a40" stroke-width="0.5" stroke-opacity="0.55"/>
<path d="M178.8,50.6 L179.5,53.1 L180.4,56.7 L181.5,60.9 L182.7,65.4 L183.7,69.7 L184.7,73.6 L185.5,77.1 L186.2,80.4 L186.9,83.7 L187.5,86.8 L188.1,89.9 L188.6,92.8 L188.9,95.6 L189.2,98.3 L189.4,100.9 L189.5,103.4 L189.7,105.8 L189.9,108.0 L190.2,110.2 L190.5,112.4 L190.8,114.5 L191.2,116.3 L191.4,117.9 L191.6,119.0" fill="none" stroke="#8a5a40" stroke-width="0.5" stroke-opacity="0.55"/>
<path d="M179.5,52.0 L180.1,54.6 L181.0,58.1 L182.1,62.3 L183.2,66.8 L184.2,71.2 L185.1,75.0 L185.8,78.4 L186.5,81.6 L187.2,84.8 L187.8,87.8 L188.3,90.7 L188.7,93.5 L189.0,96.2 L189.2,98.8 L189.3,101.2 L189.4,103.6 L189.5,105.8 L189.6,108.0 L189.8,110.2 L190.0,112.3 L190.3,114.4 L190.5,116.3 L190.7,117.8 L190.8,119.0" fill="none" stroke="#8a5a40" stroke-width="0.5" stroke-opacity="0.55"/>
<path d="M180.2,53.4 L180.8,56.0 L181.7,59.6 L182.7,63.8 L183.7,68.3 L184.7,72.6 L185.5,76.4 L186.2,79.7 L186.9,82.9 L187.5,85.9 L188.0,88.8 L188.5,91.5 L188.8,94.2 L189.1,96.8 L189.2,99.2 L189.2,101.5 L189.3,103.8 L189.3,105.9 L189.3,108.0 L189.4,110.1 L189.5,112.3 L189.7,114.4 L189.8,116.3 L189.9,117.8 L190.0,119.0" fill="none" stroke="#8a5a40" stroke-width="0.5" stroke-opacity="0.55"/>
<path d="M180.9,54.8 L181.5,57.4 L182.3,61.0 L183.2,65.2 L184.2,69.7 L185.2,74.0 L185.9,77.8 L186.6,81.0 L187.2,84.1 L187.8,87.0 L188.3,89.7 L188.7,92.3 L189.0,94.9 L189.2,97.3 L189.2,99.6 L189.2,101.8 L189.1,103.9 L189.1,106.0 L189.0,108.0 L189.1,110.1 L189.1,112.2 L189.1,114.3 L189.1,116.2 L189.1,117.8 L189.1,119.0" fill="none" stroke="#8a5a40" stroke-width="0.5" stroke-opacity="0.55"/>
<path d="M181.6,56.2 L182.1,58.8 L182.9,62.4 L183.8,66.7 L184.7,71.2 L185.6,75.5 L186.4,79.2 L187.0,82.4 L187.5,85.3 L188.1,88.1 L188.5,90.7 L188.9,93.2 L189.1,95.6 L189.2,97.9 L189.2,100.1 L189.1,102.1 L189.0,104.1 L188.9,106.1 L188.8,108.0 L188.7,110.0 L188.6,112.2 L188.5,114.3 L188.4,116.2 L188.3,117.8 L188.3,119.0" fill="none" stroke="#8a5a40" stroke-width="0.5" stroke-opacity="0.55"/>
<path d="M170.0,16.0 L170.4,17.1 L171.0,18.6 L171.8,20.4 L172.5,22.3 L173.3,24.2 L174.0,26.0 L174.7,27.6 L175.3,29.3 L176.0,30.9 L176.7,32.5 L177.3,34.2 L178.0,36.0 L178.7,37.9 L179.4,39.9 L180.1,41.9 L180.8,43.9 L181.4,46.0 L182.0,48.0 L182.5,50.0 L183.0,52.0 L183.4,54.0 L183.8,56.0 L184.2,58.0 L184.5,60.0 L184.8,62.0 L185.1,64.0 L185.4,66.0 L185.6,68.0 L185.8,70.0 L186.0,72.0 L186.2,74.0 L186.3,76.0 L186.4,78.0 L186.4,80.0 L186.5,82.0 L186.5,84.0 L186.5,86.0 L186.4,88.1 L186.3,90.1 L186.2,92.1 L186.1,94.1 L186.0,96.0 L185.9,97.9 L185.7,99.9 L185.5,101.8 L185.3,103.5 L185.1,104.9 L185.0,106.0" fill="none" stroke="#a84a10" stroke-width="5.5" stroke-linecap="round" stroke-linejoin="round"/>
<path d="M170.0,16.0 L170.4,17.1 L171.0,18.6 L171.8,20.4 L172.5,22.3 L173.3,24.2 L174.0,26.0 L174.7,27.6 L175.3,29.3 L176.0,30.9 L176.7,32.5 L177.3,34.2 L178.0,36.0 L178.7,37.9 L179.4,39.9 L180.1,41.9 L180.8,43.9 L181.4,46.0 L182.0,48.0 L182.5,50.0 L183.0,52.0 L183.4,54.0 L183.8,56.0 L184.2,58.0 L184.5,60.0 L184.8,62.0 L185.1,64.0 L185.4,66.0 L185.6,68.0 L185.8,70.0 L186.0,72.0 L186.2,74.0 L186.3,76.0 L186.4,78.0 L186.4,80.0 L186.5,82.0 L186.5,84.0 L186.5,86.0 L186.4,88.1 L186.3,90.1 L186.2,92.1 L186.1,94.1 L186.0,96.0 L185.9,97.9 L185.7,99.9 L185.5,101.8 L185.3,103.5 L185.1,104.9 L185.0,106.0" fill="none" stroke="#e8661a" stroke-width="4.6" stroke-linecap="round" stroke-linejoin="round"/>
<path d="M178.0,22.0 L178.4,23.1 L179.0,24.5 L179.8,26.2 L180.5,28.1 L181.3,30.1 L182.0,32.0 L182.7,33.9 L183.4,35.9 L184.1,37.9 L184.7,39.9 L185.4,42.0 L186.0,44.0 L186.6,46.0 L187.1,48.0 L187.6,50.0 L188.1,52.0 L188.6,54.0 L189.0,56.0 L189.4,58.0 L189.8,60.0 L190.1,62.0 L190.4,64.0 L190.7,66.0 L191.0,68.0 L191.3,70.0 L191.6,72.0 L191.9,74.0 L192.1,76.0 L192.3,78.0 L192.5,80.0 L192.6,82.0 L192.7,84.1 L192.7,86.1 L192.7,88.1 L192.6,90.1 L192.5,92.0 L192.3,93.9 L192.1,95.9 L191.8,97.8 L191.4,99.5 L191.2,100.9 L191.0,102.0" fill="none" stroke="#a84a10" stroke-width="4.3" stroke-linecap="round" stroke-linejoin="round"/>
<path d="M178.0,22.0 L178.4,23.1 L179.0,24.5 L179.8,26.2 L180.5,28.1 L181.3,30.1 L182.0,32.0 L182.7,33.9 L183.4,35.9 L184.1,37.9 L184.7,39.9 L185.4,42.0 L186.0,44.0 L186.6,46.0 L187.1,48.0 L187.6,50.0 L188.1,52.0 L188.6,54.0 L189.0,56.0 L189.4,58.0 L189.8,60.0 L190.1,62.0 L190.4,64.0 L190.7,66.0 L191.0,68.0 L191.3,70.0 L191.6,72.0 L191.9,74.0 L192.1,76.0 L192.3,78.0 L192.5,80.0 L192.6,82.0 L192.7,84.1 L192.7,86.1 L192.7,88.1 L192.6,90.1 L192.5,92.0 L192.3,93.9 L192.1,95.9 L191.8,97.8 L191.4,99.5 L191.2,100.9 L191.0,102.0" fill="none" stroke="#e8661a" stroke-width="3.4" stroke-linecap="round" stroke-linejoin="round"/>
<path d="M150.0,30.0 L149.7,29.1 L149.4,27.9 L148.9,26.5 L148.5,25.0 L148.2,23.4 L148.0,22.0 L147.9,20.6 L148.0,19.2 L148.1,17.8 L148.3,16.5 L148.6,15.2 L149.0,14.0 L149.6,12.9 L150.3,11.9 L151.1,10.9 L152.0,10.0 L153.0,9.2 L154.0,8.5 L155.1,7.9 L156.2,7.4 L157.4,7.0 L158.7,6.7 L159.9,6.6 L161.0,6.5 L162.1,6.6 L163.1,6.7 L164.2,7.0 L165.2,7.4 L166.1,7.9 L167.0,8.5 L167.8,9.2 L168.6,10.1 L169.3,11.0 L170.0,12.0 L170.5,13.0 L171.0,14.0 L171.4,15.0 L171.6,16.2 L171.8,17.3 L171.9,18.4 L171.9,19.3 L172.0,20.0" fill="none" stroke="#a84a10" stroke-width="3.7" stroke-linecap="round" stroke-linejoin="round"/>
<path d="M150.0,30.0 L149.7,29.1 L149.4,27.9 L148.9,26.5 L148.5,25.0 L148.2,23.4 L148.0,22.0 L147.9,20.6 L148.0,19.2 L148.1,17.8 L148.3,16.5 L148.6,15.2 L149.0,14.0 L149.6,12.9 L150.3,11.9 L151.1,10.9 L152.0,10.0 L153.0,9.2 L154.0,8.5 L155.1,7.9 L156.2,7.4 L157.4,7.0 L158.7,6.7 L159.9,6.6 L161.0,6.5 L162.1,6.6 L163.1,6.7 L164.2,7.0 L165.2,7.4 L166.1,7.9 L167.0,8.5 L167.8,9.2 L168.6,10.1 L169.3,11.0 L170.0,12.0 L170.5,13.0 L171.0,14.0 L171.4,15.0 L171.6,16.2 L171.8,17.3 L171.9,18.4 L171.9,19.3 L172.0,20.0" fill="none" stroke="#e8661a" stroke-width="2.8" stroke-linecap="round" stroke-linejoin="round"/>
<path d="M145.0,46.0 L145.4,47.2 L146.0,48.9 L146.6,50.8 L147.3,52.9 L147.8,55.0 L148.0,57.0 L147.9,58.8 L147.7,60.7 L147.2,62.5 L146.8,64.3 L146.3,66.2 L146.0,68.0 L145.7,69.9 L145.5,71.8 L145.3,73.7 L145.1,75.6 L145.0,77.3 L145.0,79.0 L145.1,80.6 L145.2,82.1 L145.3,83.6 L145.6,84.9 L146.0,86.0 L146.5,87.0 L147.2,87.8 L148.1,88.4 L149.1,88.9 L150.1,89.1 L151.1,89.2 L152.0,89.0 L152.8,88.5 L153.6,87.7 L154.4,86.7 L155.2,85.5 L155.9,84.3 L156.5,83.0 L157.0,81.7 L157.5,80.2 L157.9,78.6 L158.3,77.0 L158.6,75.4 L159.0,74.0 L159.3,72.6 L159.6,71.3 L159.8,70.0 L160.1,68.7 L160.5,67.6 L161.0,66.5 L161.7,65.5 L162.6,64.6 L163.6,63.8 L164.6,63.1 L165.4,62.5 L166.0,62.0" fill="none" stroke="#a84a10" stroke-width="3.2" stroke-linecap="round" stroke-linejoin="round"/>
<path d="M145.0,46.0 L145.4,47.2 L146.0,48.9 L146.6,50.8 L147.3,52.9 L147.8,55.0 L148.0,57.0 L147.9,58.8 L147.7,60.7 L147.2,62.5 L146.8,64.3 L146.3,66.2 L146.0,68.0 L145.7,69.9 L145.5,71.8 L145.3,73.7 L145.1,75.6 L145.0,77.3 L145.0,79.0 L145.1,80.6 L145.2,82.1 L145.3,83.6 L145.6,84.9 L146.0,86.0 L146.5,87.0 L147.2,87.8 L148.1,88.4 L149.1,88.9 L150.1,89.1 L151.1,89.2 L152.0,89.0 L152.8,88.5 L153.6,87.7 L154.4,86.7 L155.2,85.5 L155.9,84.3 L156.5,83.0 L157.0,81.7 L157.5,80.2 L157.9,78.6 L158.3,77.0 L158.6,75.4 L159.0,74.0 L159.3,72.6 L159.6,71.3 L159.8,70.0 L160.1,68.7 L160.5,67.6 L161.0,66.5 L161.7,65.5 L162.6,64.6 L163.6,63.8 L164.6,63.1 L165.4,62.5 L166.0,62.0" fill="none" stroke="#e8661a" stroke-width="2.3" stroke-linecap="round" stroke-linejoin="round"/>
<path d="M160.0,44.0 L160.7,45.1 L161.6,46.7 L162.6,48.5 L163.8,50.4 L164.9,52.3 L166.0,54.0 L167.0,55.4 L168.1,56.8 L169.1,58.1 L170.1,59.4 L171.1,60.7 L172.0,62.0 L172.8,63.4 L173.6,65.0 L174.4,66.5 L175.0,67.9 L175.6,69.1 L176.0,70.0" fill="none" stroke="#a84a10" stroke-width="2.7" stroke-linecap="round" stroke-linejoin="round"/>
<path d="M160.0,44.0 L160.7,45.1 L161.6,46.7 L162.6,48.5 L163.8,50.4 L164.9,52.3 L166.0,54.0 L167.0,55.4 L168.1,56.8 L169.1,58.1 L170.1,59.4 L171.1,60.7 L172.0,62.0 L172.8,63.4 L173.6,65.0 L174.4,66.5 L175.0,67.9 L175.6,69.1 L176.0,70.0" fill="none" stroke="#e8661a" stroke-width="1.8" stroke-linecap="round" stroke-linejoin="round"/>
<path d="M160.0,32.0 L160.8,32.4 L161.9,32.9 L163.2,33.5 L164.6,34.2 L165.9,35.1 L167.0,36.0 L167.9,37.1 L168.9,38.4 L169.8,39.8 L170.4,41.3 L170.9,42.7 L171.0,44.0 L170.7,45.3 L170.0,46.5 L169.1,47.8 L168.1,48.9 L167.0,50.0 L166.0,51.0 L165.0,51.8 L164.0,52.4 L162.9,53.0 L161.9,53.6 L160.9,54.2 L160.0,55.0 L159.1,56.0 L158.1,57.1 L157.2,58.3 L156.5,59.6 L156.1,60.8 L156.0,62.0 L156.4,63.2 L157.2,64.5 L158.2,65.8 L159.5,67.0 L160.8,68.1 L162.0,69.0 L163.3,69.6 L164.8,70.1 L166.4,70.4 L167.9,70.7 L169.1,70.8 L170.0,71.0" fill="none" stroke="#a84a10" stroke-width="2.5" stroke-linecap="round" stroke-linejoin="round"/>
<path d="M160.0,32.0 L160.8,32.4 L161.9,32.9 L163.2,33.5 L164.6,34.2 L165.9,35.1 L167.0,36.0 L167.9,37.1 L168.9,38.4 L169.8,39.8 L170.4,41.3 L170.9,42.7 L171.0,44.0 L170.7,45.3 L170.0,46.5 L169.1,47.8 L168.1,48.9 L167.0,50.0 L166.0,51.0 L165.0,51.8 L164.0,52.4 L162.9,53.0 L161.9,53.6 L160.9,54.2 L160.0,55.0 L159.1,56.0 L158.1,57.1 L157.2,58.3 L156.5,59.6 L156.1,60.8 L156.0,62.0 L156.4,63.2 L157.2,64.5 L158.2,65.8 L159.5,67.0 L160.8,68.1 L162.0,69.0 L163.3,69.6 L164.8,70.1 L166.4,70.4 L167.9,70.7 L169.1,70.8 L170.0,71.0" fill="none" stroke="#e8661a" stroke-width="1.6" stroke-linecap="round" stroke-linejoin="round"/>
<path d="M153.0,57.0 L153.8,57.3 L154.8,57.8 L156.1,58.4 L157.4,59.0 L158.8,59.5 L160.0,60.0 L161.2,60.4 L162.4,60.7 L163.6,60.9 L164.7,61.2 L165.9,61.6 L167.0,62.0 L168.1,62.6 L169.3,63.3 L170.4,64.1 L171.5,64.9 L172.4,65.5 L173.0,66.0" fill="none" stroke="#a84a10" stroke-width="2.4" stroke-linecap="round" stroke-linejoin="round"/>
<path d="M153.0,57.0 L153.8,57.3 L154.8,57.8 L156.1,58.4 L157.4,59.0 L158.8,59.5 L160.0,60.0 L161.2,60.4 L162.4,60.7 L163.6,60.9 L164.7,61.2 L165.9,61.6 L167.0,62.0 L168.1,62.6 L169.3,63.3 L170.4,64.1 L171.5,64.9 L172.4,65.5 L173.0,66.0" fill="none" stroke="#e8661a" stroke-width="1.5" stroke-linecap="round" stroke-linejoin="round"/>
<path d="M163.0,23.8 L162.0,24.4 L160.4,25.4 L158.7,26.5 L157.0,27.6 L155.6,28.5 L154.9,29.2 L154.9,29.5 L155.7,29.6 L156.8,29.5 L157.9,29.4 L158.6,29.5 L158.7,29.8 L157.9,30.5 L156.4,31.4 L154.6,32.5 L152.8,33.6 L151.4,34.5 L150.6,35.2 L150.7,35.5 L151.4,35.6 L152.5,35.5 L153.6,35.4 L154.3,35.5 L154.4,35.8 L153.6,36.5 L152.2,37.4 L150.4,38.5 L148.6,39.6 L147.1,40.5 L146.3,41.2 L146.4,41.5 L147.1,41.6 L148.2,41.5 L149.3,41.4 L150.1,41.5 L150.1,41.8 L149.4,42.5 L148.0,43.4 L146.3,44.5 L144.6,45.6 L143.0,46.6 L142.0,47.2" fill="none" stroke="#a84a10" stroke-width="4.2" stroke-linecap="round" stroke-linejoin="round"/>
<path d="M163.0,23.8 L162.0,24.4 L160.4,25.4 L158.7,26.5 L157.0,27.6 L155.6,28.5 L154.9,29.2 L154.9,29.5 L155.7,29.6 L156.8,29.5 L157.9,29.4 L158.6,29.5 L158.7,29.8 L157.9,30.5 L156.4,31.4 L154.6,32.5 L152.8,33.6 L151.4,34.5 L150.6,35.2 L150.7,35.5 L151.4,35.6 L152.5,35.5 L153.6,35.4 L154.3,35.5 L154.4,35.8 L153.6,36.5 L152.2,37.4 L150.4,38.5 L148.6,39.6 L147.1,40.5 L146.3,41.2 L146.4,41.5 L147.1,41.6 L148.2,41.5 L149.3,41.4 L150.1,41.5 L150.1,41.8 L149.4,42.5 L148.0,43.4 L146.3,44.5 L144.6,45.6 L143.0,46.6 L142.0,47.2" fill="none" stroke="#e8661a" stroke-width="3.3" stroke-linecap="round" stroke-linejoin="round"/>
<path d="M180,106 L188,106 L183.5,115 Z" fill="#e8661a" stroke="#a84a10" stroke-width="0.6"/>
<path d="M41.3,63.4 L41.9,62.6 L41.8,61.4 L42.1,60.4 L42.7,59.5 L43.7,59.0 L43.4,57.6 L44.0,56.7 L45.5,56.5 L46.1,55.7 L46.7,54.9 L47.0,53.8 L47.8,53.2 L48.2,52.1 L49.0,51.5 L49.7,50.7 L50.2,49.5 L51.5,49.6 L52.7,49.6 L53.4,48.7 L54.3,48.0 L55.6,48.6 L56.6,48.4 L57.8,48.3 L58.5,49.2 L59.7,49.8 L60.2,50.8 L60.4,51.7 L60.6,52.7 L62.0,52.9 L61.8,54.2 L62.0,55.4 L62.6,56.2 L63.4,56.7 L64.1,57.4 L64.9,57.8 L65.7,57.5 L66.6,58.5 L67.0,57.0 L67.9,56.8 L69.1,56.9 L70.1,56.7 L70.5,55.5 L71.6,55.3 L72.7,55.2 L73.1,54.1 L74.2,53.8 L74.9,52.9 L75.7,52.2 L76.7,51.9 L77.9,52.2 L78.7,51.0 L79.7,50.9 L80.9,51.7 L81.9,51.4 L82.8,51.2 L83.6,50.4 L84.6,50.0 L85.4,49.3 L86.5,49.2 L87.5,48.9 L88.5,48.1 L89.7,48.9 L90.6,49.7 L91.8,49.7 L92.9,50.2 L93.1,51.5 L93.9,52.1 L94.9,52.7 L95.1,53.8 L96.2,54.5 L96.4,55.6 L96.4,56.7 L96.6,57.6 L97.7,58.3 L97.0,59.6 L96.9,60.7 L97.2,61.6 L97.8,62.5 L98.1,63.5 L98.5,64.5 L99.1,65.5 L98.0,66.5 L99.1,67.8 L98.6,68.9 L97.6,69.6 L97.0,70.4 L97.5,71.6 L96.9,72.4 L96.2,73.3 L97.0,74.0 L97.2,74.9 L98.0,75.5 L99.0,76.0 L99.9,76.7 L99.9,78.0 L101.0,78.8 L101.3,80.0 L100.3,81.1 L100.1,82.1 L100.2,83.1 L100.4,84.1 L100.1,85.1 L100.5,86.1 L100.5,87.1 L100.5,88.0 L101.3,88.9 L101.0,89.9 L100.6,91.0 L101.4,91.8 L102.1,92.6 L101.4,93.9 L101.6,94.9 L102.2,95.7 L102.4,96.7 L103.1,97.5 L103.5,98.4 L103.8,99.4 L103.7,100.5 L105.0,101.4 L104.2,102.6 L103.5,103.6 L103.5,104.7 L103.7,105.8 L103.0,106.7 L102.6,107.5 L102.8,108.6 L101.9,109.4 L103.0,110.4 L102.9,111.2 L102.4,112.3 L102.8,113.2 L104.0,113.8 L103.6,115.0 L103.5,116.1 L103.6,117.1 L103.5,118.1 L104.2,119.3 L104.0,120.3 L103.7,121.4 L102.5,122.0 L103.2,123.6 L102.4,124.4 L100.8,124.5 L100.2,125.3 L99.7,126.3 L99.0,127.0 L97.8,127.2 L97.4,128.2 L96.7,128.9 L96.4,129.8 L96.1,130.9 L95.1,131.4 L94.0,131.8 L94.3,133.1 L94.1,134.1 L92.6,134.4 L92.4,135.4 L92.0,136.3 L92.3,137.4 L92.2,138.4 L92.1,139.4 L91.9,140.4 L91.4,141.4 L91.7,142.9 L90.4,143.4 L89.1,143.6 L88.8,144.7 L88.3,145.7 L87.2,145.9 L86.2,146.4 L85.8,147.4 L84.7,147.7 L84.7,149.2 L83.8,149.7 L82.6,149.9 L81.8,150.6 L81.2,152.0 L79.8,151.6 L78.7,151.2 L77.7,150.8 L76.7,150.6 L75.6,150.7 L74.7,150.3 L73.7,150.0 L73.0,149.1 L72.1,150.5 L71.4,150.4 L70.1,149.7 L69.4,150.4 L68.7,151.4 L67.5,151.6 L66.4,150.8 L65.3,150.8 L64.4,150.2 L63.3,150.0 L62.3,149.6 L61.9,148.5 L61.5,147.4 L60.0,147.9 L59.1,147.5 L58.9,145.8 L58.0,145.5 L57.2,144.9 L56.1,144.7 L55.2,144.0 L54.5,143.2 L53.9,142.4 L53.2,141.6 L51.9,141.1 L52.3,139.7 L52.2,138.7 L51.4,138.0 L50.5,137.4 L50.4,136.3 L50.0,135.3 L49.1,134.7 L48.8,133.7 L47.3,133.4 L47.2,132.2 L47.6,130.9 L46.7,130.1 L45.7,129.4 L46.4,128.2 L46.2,127.3 L45.9,126.3 L45.0,125.8 L43.9,125.6 L43.2,124.8 L42.5,123.9 L42.2,122.8 L40.5,122.6 L40.5,121.4 L41.0,120.1 L40.5,119.1 L40.0,118.0 L40.5,116.8 L41.6,116.2 L42.0,115.2 L42.8,114.6 L42.8,113.3 L43.2,112.6 L44.1,112.2 L44.1,111.4 L42.7,111.6 L42.1,111.1 L41.9,109.6 L41.0,109.0 L40.4,108.1 L39.4,107.7 L38.8,106.8 L38.3,105.9 L37.9,105.0 L36.7,104.5 L35.8,103.7 L36.6,102.2 L36.0,101.4 L35.3,100.5 L35.0,99.5 L35.7,98.3 L35.3,97.4 L35.2,96.3 L34.8,95.3 L34.4,94.1 L35.2,93.2 L36.1,92.4 L35.5,91.1 L35.3,90.1 L36.7,89.5 L36.5,88.5 L36.8,87.6 L36.5,86.7 L36.0,85.9 L36.0,84.8 L35.6,83.9 L35.2,82.9 L33.8,82.0 L34.5,80.8 L35.2,79.7 L35.3,78.6 L35.5,77.6 L36.5,76.9 L37.1,76.1 L37.9,75.4 L38.4,74.5 L37.9,73.2 L38.4,72.4 L39.5,71.8 L39.5,70.7 L38.9,69.5 L39.7,68.7 L40.3,67.9 L40.5,66.9 L40.9,66.0 L40.8,65.0 Z" fill="url(#gG1)" filter="url(#texG)"/>
<line x1="57.6" y1="32.9" x2="72.8" y2="43.2" stroke="#1e6a80" stroke-width="1.20" stroke-opacity="1.00"/>
<line x1="120.0" y1="41.5" x2="230.5" y2="39.2" stroke="#2c9ccc" stroke-width="1.20" stroke-opacity="1.00"/>
<line x1="57.6" y1="32.9" x2="215.3" y2="28.9" stroke="#2c9ccc" stroke-width="1.30" stroke-opacity="1.00"/>
<line x1="215.3" y1="28.9" x2="230.5" y2="39.2" stroke="#2c9ccc" stroke-width="1.30" stroke-opacity="1.00"/>
<line x1="57.6" y1="32.9" x2="13.2" y2="117.8" stroke="#2c9ccc" stroke-width="1.30" stroke-opacity="1.00"/>
<line x1="215.3" y1="28.9" x2="172.0" y2="114.7" stroke="#2c9ccc" stroke-width="1.30" stroke-opacity="1.00"/>
<line x1="230.5" y1="39.2" x2="187.5" y2="123.5" stroke="#2c9ccc" stroke-width="1.30" stroke-opacity="1.00"/>
<line x1="13.2" y1="117.8" x2="172.0" y2="114.7" stroke="#2c9ccc" stroke-width="1.30" stroke-opacity="1.00"/>
<line x1="172.0" y1="114.7" x2="187.5" y2="123.5" stroke="#2c9ccc" stroke-width="1.30" stroke-opacity="1.00"/>
<line x1="29.5" y1="128.0" x2="187.5" y2="123.5" stroke="#2c9ccc" stroke-width="1.20" stroke-opacity="1.00"/>
<line x1="13.2" y1="117.8" x2="29.5" y2="128.0" stroke="#2c9ccc" stroke-width="1.30" stroke-opacity="1.00"/>
<line x1="29.5" y1="128.0" x2="39.5" y2="109.9" stroke="#2c9ccc" stroke-width="1.20" stroke-opacity="1.00"/>
<line x1="16.4" y1="110.0" x2="29.7" y2="82.0" stroke="#1a96e8" stroke-width="1.30"/>
<path d="M31.6,78.0 L31.4,82.9 L27.9,81.2 Z" fill="#1a96e8"/>
<line x1="19.7" y1="114.5" x2="45.0" y2="114.5" stroke="#1a96e8" stroke-width="1.30"/>
<path d="M49.5,114.5 L45.0,116.4 L45.0,112.6 Z" fill="#1a96e8"/>
<line x1="14.0" y1="119.4" x2="22.4" y2="125.6" stroke="#1a96e8" stroke-width="1.30"/>
<path d="M26.0,128.3 L21.3,127.2 L23.5,124.1 Z" fill="#1a96e8"/>
<text x="16.0" y="92.3" class="ab">c</text>
<text x="25.3" y="112.4" class="ab">a</text>
<text x="11.0" y="136.5" class="ab">b</text>
<path d="M51.8,177.1 L53.0,177.7 L53.9,177.2 L54.9,177.4 L55.9,176.8 L56.8,176.4 L57.9,176.6 L58.9,176.7 L59.8,175.8 L60.7,175.2 L61.9,176.2 L62.8,175.8 L63.8,175.8 L64.8,175.6 L65.9,175.7 L66.9,175.9 L67.9,175.7 L68.9,175.7 L69.9,174.7 L70.9,175.3 L71.9,176.0 L72.9,175.6 L73.9,175.2 L74.9,175.7 L75.9,176.1 L76.9,176.2 L77.9,176.5 L78.9,175.9 L79.9,176.0 L80.9,176.4 L81.9,176.8 L83.0,175.8 L83.9,176.3 L84.8,177.1 L85.9,177.1 L86.9,177.1 L87.9,177.1 L88.8,177.5 L89.8,177.4 L90.8,177.7 L91.9,176.9 L92.8,176.8 L93.8,177.7 L94.8,177.7 L95.8,177.1 L96.8,177.1 L97.8,177.8 L98.8,177.8 L99.8,177.6 L100.8,177.2 L101.7,176.8 L102.7,176.9 L103.8,177.2 L104.7,176.4 L105.6,176.0 L106.8,176.9 L107.7,176.7 L108.7,176.6 L109.7,176.2 L110.7,176.3 L111.7,176.2 L112.7,175.9 L113.7,175.8 L114.6,175.0 L115.7,175.5 L116.7,176.1 L117.7,175.5 L118.7,175.0 L119.7,175.8 L120.7,175.9 L121.8,175.8 L122.8,175.9 L123.8,175.3 L124.8,175.5 L125.8,175.9 L126.8,176.0 L127.9,175.1 L128.8,175.9 L129.8,176.4 L130.8,176.5 L131.8,176.4 L132.8,176.6 L133.7,177.0 L134.8,176.8 L135.7,177.3 L136.8,176.4 L137.8,176.7 L138.7,177.5 L139.7,177.4 L140.7,176.9 L141.7,177.2 L142.7,177.8 L143.7,178.0 L144.7,177.9 L145.7,177.3 L146.7,177.2 L147.7,177.4 L148.7,177.8 L149.6,176.7 L150.6,176.6 L151.7,177.6 L152.6,177.2 L153.6,177.0 L154.6,176.8 L155.6,177.0 L156.6,176.8 L157.6,176.6 L158.6,176.2 L159.5,175.6 L160.6,176.1 L161.6,176.5 L162.5,175.6 L163.5,175.3 L164.6,176.2 L165.6,176.0 L166.6,176.0 L167.6,175.6 L168.6,175.2 L169.6,175.5 L170.6,175.7 L171.6,175.4 L172.7,174.7 L173.6,175.6 L174.6,175.9 L175.6,176.0 L176.6,175.8 L177.6,175.9 L178.6,176.1 L179.7,175.9 L180.6,176.4 L181.7,175.4 L182.7,175.9 L183.6,176.7 L184.6,176.5 L185.7,176.0 L186.6,176.6 L187.6,177.0 L188.6,177.2 L189.6,177.5 L190.6,176.8 L191.6,177.0 L192.6,177.2 L193.6,177.8 L194.7,176.7 L195.6,177.1 L196.6,178.0 L197.6,177.9 L198.6,177.8 L199.6,177.8 L200.6,178.1 L201.6,178.1 L202.6,178.2 L203.6,177.7 L204.6,177.5 L205.6,178.3 L206.6,178.6 L207.6,178.0 L208.6,178.0 L209.5,179.0 L210.6,178.9 L211.5,179.2 L212.6,179.1 L213.7,178.8 L214.6,179.4 L215.5,179.9 L216.6,179.8 L217.9,179.7 L218.4,181.1 L219.2,181.6 L219.9,182.4 L220.7,183.1 L221.2,184.0 L221.6,185.0 L222.4,185.7 L222.6,186.7 L224.1,187.0 L224.4,188.0 L224.1,189.3 L224.9,190.1 L225.7,191.0 L225.5,192.2 L225.2,193.2 L225.0,194.2 L225.0,195.2 L225.6,196.3 L225.5,197.3 L225.1,198.3 L224.8,199.2 L225.7,200.4 L225.3,201.4 L224.3,202.2 L224.4,203.3 L224.2,204.2 L224.1,205.3 L223.6,206.2 L223.4,207.2 L223.2,208.1 L223.5,209.2 L223.6,210.3 L222.5,211.1 L222.2,212.0 L222.4,213.1 L222.2,214.1 L221.1,214.8 L221.0,215.9 L220.5,216.8 L220.4,217.8 L220.5,218.9 L219.7,219.7 L219.0,220.5 L219.1,221.6 L219.2,222.8 L218.0,223.3 L217.6,224.3 L217.1,225.1 L216.7,226.1 L216.2,226.9 L215.4,227.6 L215.1,228.6 L214.7,229.5 L215.2,230.8 L214.3,231.6 L213.4,232.2 L213.4,233.3 L213.4,234.4 L212.5,235.1 L212.1,236.0 L211.6,236.9 L211.1,237.8 L211.2,238.9 L210.7,239.8 L210.1,240.6 L209.9,241.6 L210.4,242.8 L209.9,243.7 L209.0,244.4 L209.0,245.5 L208.5,246.4 L208.2,247.3 L207.4,248.1 L207.1,249.1 L206.8,250.0 L207.3,251.2 L207.1,252.3 L205.8,252.9 L206.0,254.0 L206.0,255.1 L205.5,256.0 L204.7,256.7 L204.6,257.8 L203.8,258.5 L203.7,259.6 L203.6,260.6 L202.8,261.4 L202.4,262.3 L202.7,263.5 L202.7,264.6 L201.3,265.1 L201.5,266.3 L201.0,267.2 L200.6,268.1 L199.7,268.8 L199.4,269.7 L198.8,270.5 L198.6,271.6 L199.0,272.8 L198.0,273.5 L197.5,274.3 L197.4,275.4 L197.3,276.5 L196.2,277.1 L196.1,278.1 L195.4,278.9 L194.7,279.7 L194.6,280.8 L193.9,281.5 L193.1,282.2 L192.8,283.3 L192.9,284.6 L191.9,285.2 L190.9,285.7 L190.4,286.7 L189.5,287.3 L188.5,287.6 L187.5,287.9 L186.5,288.2 L185.5,288.4 L184.7,289.4 L183.8,289.8 L182.6,289.3 L181.8,289.9 L181.0,290.8 L180.0,291.0 L178.9,290.8 L178.0,291.3 L176.9,291.3 L176.1,291.8 L175.1,292.0 L174.0,292.0 L173.1,292.2 L172.3,293.3 L171.5,294.0 L170.2,293.1 L169.4,293.9 L168.4,294.3 L167.4,294.5 L166.3,294.1 L165.3,294.5 L164.3,294.5 L163.4,295.0 L162.5,295.8 L161.4,295.4 L160.4,295.1 L159.4,295.8 L158.4,296.3 L157.3,295.4 L156.3,295.6 L155.3,295.3 L154.3,295.2 L153.3,295.4 L152.3,295.0 L151.3,294.8 L150.3,294.9 L149.2,295.7 L148.3,295.0 L147.3,294.5 L146.3,294.6 L145.3,294.5 L144.4,294.1 L143.4,293.7 L142.4,293.4 L141.5,293.2 L140.4,293.9 L139.3,293.8 L138.5,292.8 L137.4,293.1 L136.3,293.5 L135.4,293.1 L134.5,292.4 L133.5,292.4 L132.6,291.8 L131.5,291.8 L130.6,291.6 L129.6,291.1 L128.7,290.8 L127.6,291.4 L126.5,291.6 L125.7,290.4 L124.7,290.7 L123.7,290.7 L122.7,290.7 L121.7,290.1 L120.7,290.3 L119.7,290.1 L118.8,290.5 L118.0,291.3 L116.9,291.0 L115.9,291.1 L115.1,291.9 L114.3,292.6 L113.1,292.2 L112.3,292.9 L111.3,293.0 L110.3,293.3 L109.5,293.9 L108.4,294.0 L107.5,294.2 L106.6,294.8 L106.0,296.1 L104.8,295.9 L103.7,295.8 L102.8,296.3 L101.8,296.6 L100.7,296.4 L99.7,296.3 L98.7,296.2 L97.7,295.9 L96.6,296.5 L95.6,296.5 L94.7,295.5 L93.6,295.7 L92.5,296.0 L91.5,295.7 L90.8,294.8 L89.7,294.9 L88.8,294.2 L87.9,293.9 L87.0,293.4 L86.1,293.0 L85.1,292.6 L84.0,292.9 L82.9,293.0 L82.3,291.7 L81.1,292.1 L80.2,291.9 L79.2,291.5 L78.4,290.6 L77.3,290.9 L76.5,290.1 L75.5,290.0 L74.4,290.1 L73.6,289.3 L72.6,289.1 L71.5,289.2 L70.5,289.2 L69.8,288.0 L68.6,288.4 L67.8,287.9 L66.9,287.3 L65.9,287.1 L65.0,286.6 L64.0,286.3 L63.0,286.4 L62.0,287.2 L61.0,286.8 L60.1,286.3 L59.2,286.9 L58.3,287.2 L57.3,287.1 L56.4,287.4 L55.4,287.7 L54.5,288.0 L54.0,289.1 L53.2,289.7 L52.0,289.7 L51.3,290.5 L50.9,291.7 L50.0,292.1 L48.7,292.0 L47.9,292.8 L46.8,292.9 L45.9,293.3 L44.8,293.2 L43.8,293.2 L42.8,293.3 L41.8,294.0 L40.8,294.5 L39.8,293.4 L38.8,293.7 L37.7,293.9 L36.7,293.9 L35.8,292.9 L34.7,293.2 L33.8,292.6 L32.8,292.8 L31.7,293.1 L30.8,292.5 L29.9,291.9 L28.7,292.2 L27.6,292.6 L26.9,291.4 L25.8,291.3 L24.9,290.8 L24.0,290.3 L23.2,289.6 L22.5,288.8 L21.8,288.1 L20.9,287.5 L19.6,287.2 L19.4,286.1 L19.2,285.0 L18.3,284.3 L17.7,283.5 L17.8,282.3 L17.4,281.4 L17.3,280.3 L17.2,279.3 L16.3,278.5 L16.0,277.5 L16.3,276.4 L16.0,275.5 L15.0,274.6 L14.9,273.6 L15.5,272.5 L14.9,271.6 L15.0,270.5 L14.7,269.6 L14.9,268.5 L14.9,267.5 L14.7,266.5 L14.0,265.6 L13.5,264.6 L14.3,263.5 L14.1,262.5 L13.7,261.5 L13.7,260.5 L14.6,259.5 L14.2,258.5 L14.7,257.5 L14.5,256.5 L14.2,255.5 L14.7,254.5 L15.0,253.5 L14.6,252.5 L14.0,251.4 L15.1,250.5 L15.1,249.5 L15.3,248.5 L15.4,247.5 L15.7,246.5 L16.2,245.6 L16.3,244.6 L16.4,243.6 L15.7,242.4 L16.3,241.5 L17.1,240.7 L16.9,239.6 L16.8,238.5 L17.6,237.7 L18.0,236.7 L18.5,235.8 L18.9,234.9 L18.6,233.8 L19.1,232.9 L19.8,232.1 L20.1,231.1 L19.6,229.8 L20.3,229.0 L21.1,228.2 L21.3,227.2 L21.8,226.4 L22.2,225.4 L23.0,224.7 L23.4,223.8 L23.8,222.9 L23.4,221.6 L23.7,220.6 L24.9,220.1 L24.8,218.9 L25.0,217.9 L25.7,217.1 L26.4,216.3 L26.6,215.3 L27.5,214.6 L27.6,213.6 L27.8,212.6 L28.9,212.0 L29.0,210.9 L29.0,209.8 L29.3,208.8 L30.6,208.4 L30.4,207.1 L31.2,206.4 L31.8,205.6 L32.4,204.8 L32.8,203.9 L33.4,203.0 L33.5,202.0 L33.4,200.8 L34.5,200.3 L34.6,199.2 L34.9,198.2 L35.4,197.4 L36.4,196.7 L36.3,195.6 L37.0,194.8 L37.6,194.0 L37.4,192.8 L38.1,192.0 L38.5,191.1 L38.5,190.0 L38.4,188.9 L39.4,188.2 L39.4,187.2 L39.8,186.2 L40.6,185.5 L41.1,184.6 L41.8,183.8 L42.2,182.9 L42.8,182.0 L42.9,180.7 L43.7,180.1 L44.7,179.6 L45.5,178.7 L46.5,178.3 L47.7,178.4 L48.6,178.1 L49.6,177.8 Z" fill="#858585" filter="url(#texG)"/>
<g id="lattice">
<g filter="url(#texG)"><path d="M67.3,179.2 L66.9,179.9 L67.1,180.4 L68.1,180.9 L69.2,181.7 L69.4,182.4 L68.9,183.5 L70.0,183.7 L70.2,184.5 L70.6,185.4 L71.4,185.9 L72.7,186.4 L72.3,187.7 L73.2,188.1 L74.5,188.4 L74.1,190.0 L75.0,191.0 L75.2,191.6 L75.5,192.1 L75.6,193.2 L77.1,193.2 L77.2,194.6 L77.8,195.4 L78.6,195.8 L79.2,196.7 L80.3,196.7 L81.3,196.4 L82.2,195.9 L83.1,197.3 L83.9,195.9 L84.9,196.0 L85.9,196.1 L87.0,196.3 L87.5,195.2 L88.6,195.1 L89.3,194.4 L89.4,193.2 L90.5,192.9 L90.8,192.0 L90.8,191.0 L91.0,190.1 L92.2,189.5 L91.2,188.6 L91.5,187.7 L91.8,186.6 L91.2,185.6 L91.4,184.6 L90.8,183.8 L89.9,183.3 L88.7,182.5 L89.4,181.1 L88.6,180.2 L88.4,179.5 L88.7,178.3 L88.8,177.2 L88.4,176.2 L88.4,175.3 L88.6,174.3 L87.5,174.5 L86.5,174.0 L85.8,172.6 L85.9,171.3 L86.2,171.2 L86.2,170.6 L85.0,170.3 L84.3,169.4 L84.4,168.0 L83.7,167.3 L83.0,166.6 L82.3,166.1 L81.3,166.0 L80.3,166.2 L79.5,165.8 L78.5,165.6 L77.6,166.2 L76.7,165.4 L75.6,165.2 L74.7,165.5 L73.9,166.1 L72.8,166.0 L72.1,166.9 L71.5,167.7 L70.3,167.6 L70.1,169.0 L69.4,169.5 L68.5,169.9 L67.7,170.5 L67.8,171.7 L66.5,172.1 L66.1,173.0 L66.3,174.0 L65.6,174.8 L66.4,175.7 L67.1,176.4 L67.6,177.3 Z" fill="#8a8a8a" stroke="#5e5e5e" stroke-width="1.1" stroke-opacity="0.6"/></g>
<g filter="url(#texG)"><path d="M95.1,177.3 L95.7,178.4 L95.4,178.8 L95.9,179.5 L96.0,180.7 L95.7,181.5 L96.3,182.0 L97.3,182.4 L98.6,182.2 L99.2,183.3 L100.1,184.2 L100.6,185.3 L100.8,185.9 L100.7,186.8 L101.7,187.4 L101.8,188.5 L101.9,189.5 L103.1,189.6 L103.9,190.7 L103.4,191.9 L103.8,192.6 L104.9,192.4 L105.3,193.4 L105.9,194.1 L106.9,194.3 L107.5,195.2 L108.3,195.6 L109.2,196.0 L110.2,196.0 L111.2,196.3 L112.0,195.2 L112.8,194.8 L114.0,195.4 L114.6,194.4 L115.3,193.8 L116.3,193.6 L117.2,193.2 L117.6,192.3 L118.8,192.0 L119.0,191.0 L119.3,190.1 L120.1,189.4 L119.8,188.5 L118.9,187.9 L118.5,187.2 L118.8,185.8 L117.7,184.9 L118.2,183.8 L118.2,182.8 L118.6,181.7 L118.2,180.8 L118.2,179.9 L117.0,179.6 L115.8,178.1 L117.7,177.6 L117.1,178.2 L115.9,178.2 L114.9,176.8 L115.4,175.3 L115.1,174.0 L116.1,173.5 L116.3,172.7 L115.4,172.4 L115.0,171.3 L114.0,170.8 L112.9,169.9 L112.4,168.8 L113.8,168.1 L112.2,168.1 L111.8,167.2 L111.6,166.1 L111.0,165.2 L109.9,165.2 L109.2,164.6 L108.2,164.3 L107.2,165.1 L106.3,164.4 L105.3,164.6 L104.5,165.0 L103.6,165.2 L102.4,164.6 L101.7,165.6 L100.8,165.7 L99.6,165.5 L99.1,166.5 L98.2,166.9 L97.3,167.4 L96.9,168.4 L96.8,169.6 L95.8,169.9 L95.4,170.8 L95.2,171.7 L94.4,172.3 L94.0,173.2 L93.8,174.1 L94.1,175.0 L94.3,176.0 Z" fill="#8a8a8a" stroke="#5e5e5e" stroke-width="1.1" stroke-opacity="0.6"/></g>
<g filter="url(#texG)"><path d="M123.1,178.6 L124.1,178.5 L124.6,179.9 L125.5,180.7 L125.8,181.7 L125.9,182.6 L127.0,182.9 L127.0,184.2 L125.9,183.9 L126.7,184.0 L128.2,183.8 L128.9,185.1 L128.9,186.2 L130.1,186.7 L129.8,188.1 L129.8,188.8 L130.4,189.4 L131.3,189.9 L131.7,191.0 L131.8,192.1 L131.6,191.1 L132.0,192.1 L133.4,192.1 L134.4,192.9 L134.7,193.9 L135.0,194.8 L135.8,195.3 L136.0,196.4 L137.0,196.6 L137.9,196.7 L138.8,197.3 L139.8,197.0 L140.7,196.2 L141.5,195.8 L142.7,196.5 L143.2,195.2 L144.2,195.3 L145.2,195.0 L146.2,194.8 L146.6,193.8 L147.6,193.4 L147.7,192.3 L147.6,191.2 L149.0,190.7 L148.5,189.6 L148.3,188.7 L148.3,187.8 L149.3,186.8 L148.2,185.9 L148.8,185.0 L148.2,184.2 L147.3,183.5 L147.5,182.3 L146.9,181.6 L146.2,180.7 L145.3,180.4 L145.4,179.0 L145.3,178.0 L145.3,177.4 L145.1,176.7 L144.7,175.8 L143.8,175.1 L143.9,173.9 L143.3,173.1 L141.9,172.7 L141.9,171.3 L142.4,170.0 L142.5,169.4 L142.0,169.5 L142.1,168.3 L141.1,168.0 L140.6,167.0 L139.9,166.3 L138.8,166.4 L138.1,165.7 L137.3,165.0 L136.2,165.3 L135.2,166.4 L134.3,165.8 L133.3,165.5 L132.5,166.0 L131.5,166.1 L130.5,166.1 L129.5,166.3 L128.6,166.6 L127.6,167.0 L127.5,168.5 L126.8,169.1 L125.4,169.0 L125.2,170.2 L125.3,171.3 L124.5,171.9 L123.7,172.5 L123.6,173.5 L122.8,174.3 L123.1,175.3 L123.0,176.2 L122.7,177.2 L122.7,178.2 Z" fill="#8a8a8a" stroke="#5e5e5e" stroke-width="1.1" stroke-opacity="0.6"/></g>
<g filter="url(#texG)"><path d="M148.4,175.9 L148.3,177.1 L149.0,177.8 L149.3,178.8 L150.5,178.9 L151.4,179.4 L151.9,180.5 L152.3,181.5 L153.8,182.1 L154.4,183.0 L153.3,184.2 L154.2,184.8 L154.6,185.8 L155.2,186.2 L155.9,187.0 L156.0,188.1 L156.3,189.0 L157.0,189.3 L158.2,188.7 L159.0,190.4 L158.5,191.6 L159.1,192.1 L159.9,192.3 L159.8,193.7 L160.7,194.1 L161.5,194.7 L162.5,194.8 L163.6,194.2 L164.4,194.7 L165.4,195.2 L166.2,194.4 L166.9,193.3 L168.1,194.0 L169.0,193.7 L169.8,193.3 L170.5,192.6 L171.3,192.1 L172.3,191.7 L172.7,190.8 L173.3,190.0 L172.4,188.6 L173.2,187.9 L174.3,187.2 L173.9,186.2 L173.4,185.3 L174.0,184.4 L173.9,183.6 L173.5,182.8 L172.8,182.0 L171.5,181.3 L171.5,180.0 L172.1,179.1 L171.9,178.2 L170.3,178.2 L170.1,177.4 L169.9,176.1 L169.4,174.9 L170.1,174.1 L169.8,173.7 L169.8,172.7 L169.3,171.8 L169.1,170.8 L167.8,170.3 L167.0,169.3 L168.6,168.1 L168.2,167.4 L167.3,167.2 L166.7,166.6 L166.6,165.3 L165.7,164.8 L164.9,164.1 L163.8,164.3 L162.8,164.2 L162.1,163.4 L161.2,162.9 L160.1,164.0 L159.3,164.4 L158.2,162.9 L157.4,163.8 L156.4,163.9 L155.5,164.3 L154.4,164.3 L153.5,164.5 L152.7,165.2 L152.2,166.2 L152.1,167.4 L150.7,167.4 L149.9,167.9 L149.9,169.1 L149.9,170.1 L148.3,170.4 L148.4,171.5 L147.6,172.3 L147.8,173.3 L148.3,174.2 L148.0,175.2 Z" fill="#8a8a8a" stroke="#5e5e5e" stroke-width="1.1" stroke-opacity="0.6"/></g>
<g filter="url(#texG)"><path d="M176.2,178.7 L176.6,179.6 L177.6,180.0 L178.1,181.2 L178.7,181.6 L178.2,181.8 L179.1,182.4 L180.1,183.3 L180.5,183.9 L180.4,184.9 L181.2,185.8 L180.8,187.0 L181.3,187.8 L182.8,187.9 L182.9,189.0 L183.2,189.9 L184.5,190.1 L185.9,191.1 L185.0,192.0 L185.4,192.5 L186.0,192.9 L186.8,193.6 L187.7,194.4 L187.8,195.6 L188.5,196.3 L189.4,196.7 L190.6,195.8 L191.5,196.1 L192.3,197.0 L193.2,196.4 L194.0,196.0 L195.1,196.3 L196.0,196.1 L196.9,195.8 L198.0,195.7 L198.3,194.6 L199.1,194.0 L200.3,193.9 L200.5,192.8 L200.1,191.5 L200.8,190.9 L201.7,190.2 L201.5,189.2 L202.0,188.4 L201.9,187.4 L202.2,186.4 L202.0,185.5 L201.3,184.8 L200.3,183.8 L199.8,183.3 L200.7,181.9 L199.3,182.2 L198.1,180.9 L198.7,179.7 L199.4,179.0 L198.4,178.9 L198.0,177.7 L197.8,176.8 L197.2,176.4 L197.3,175.2 L197.1,174.0 L197.1,173.4 L196.7,174.8 L196.9,172.8 L195.6,172.2 L195.6,171.1 L195.6,170.0 L195.9,169.1 L195.6,168.2 L195.0,167.5 L193.9,167.4 L192.6,167.6 L192.3,166.2 L191.3,166.3 L190.3,166.2 L189.5,166.0 L188.6,164.9 L187.7,165.7 L186.7,165.2 L185.7,165.1 L184.9,165.9 L183.8,165.8 L182.9,166.1 L182.2,167.0 L181.8,168.1 L180.5,167.8 L180.1,168.8 L179.3,169.3 L178.3,169.7 L177.7,170.4 L176.9,171.1 L176.5,172.0 L176.1,172.9 L176.9,174.1 L176.5,174.9 L175.9,175.8 L176.5,176.7 L176.8,177.6 Z" fill="#8a8a8a" stroke="#5e5e5e" stroke-width="1.1" stroke-opacity="0.6"/></g>
<g filter="url(#texG)"><path d="M205.3,188.2 L204.9,187.7 L204.7,188.2 L205.4,188.9 L206.9,189.3 L206.9,190.6 L206.4,191.4 L207.7,191.5 L207.9,192.7 L208.8,192.8 L209.7,193.1 L210.5,193.9 L210.7,195.2 L212.4,195.2 L213.1,196.6 L211.9,197.9 L211.7,198.8 L212.5,199.3 L213.8,199.7 L213.5,200.6 L214.3,200.7 L214.9,201.5 L215.7,202.2 L216.7,202.5 L216.7,203.8 L217.3,204.6 L218.4,204.5 L219.3,204.5 L220.2,205.3 L221.1,204.8 L222.0,204.4 L223.0,204.6 L223.7,203.6 L224.6,203.3 L225.6,203.3 L226.2,202.6 L226.6,201.6 L228.0,201.7 L228.8,201.1 L229.3,200.2 L229.5,199.3 L229.8,198.4 L229.5,197.5 L229.1,196.8 L229.6,195.7 L228.1,195.1 L228.4,193.6 L229.2,192.8 L228.7,191.9 L228.4,191.0 L228.7,190.4 L227.8,190.0 L226.2,189.3 L227.7,188.3 L227.0,188.1 L225.9,187.3 L226.8,186.0 L227.6,185.6 L226.0,185.9 L225.8,184.6 L225.5,183.4 L224.6,182.7 L224.7,181.6 L224.6,180.4 L225.2,179.7 L224.5,179.8 L224.9,178.9 L223.6,179.1 L222.6,178.3 L222.4,177.0 L222.3,175.8 L221.2,175.5 L220.8,174.6 L220.2,173.8 L219.1,174.1 L218.3,173.4 L217.3,173.7 L216.4,173.9 L215.5,173.9 L214.4,173.0 L213.7,174.3 L212.7,174.2 L211.5,173.7 L210.7,174.3 L209.7,174.4 L209.0,175.2 L208.3,175.9 L208.0,177.0 L207.0,177.3 L206.5,178.1 L206.3,179.1 L205.3,179.6 L204.5,180.2 L204.3,181.2 L204.2,182.1 L203.6,183.0 L204.3,183.9 L204.7,184.8 L204.3,185.9 Z" fill="#8a8a8a" stroke="#5e5e5e" stroke-width="1.1" stroke-opacity="0.6"/></g>
<g filter="url(#texG)"><path d="M35.7,191.0 L36.5,191.5 L37.2,192.2 L38.2,192.9 L38.7,193.3 L38.9,194.3 L40.4,194.0 L41.2,195.2 L41.0,196.8 L40.3,197.5 L41.3,197.8 L41.5,198.9 L42.4,199.4 L43.7,199.7 L43.5,201.2 L44.5,201.8 L45.3,202.6 L45.5,203.3 L45.3,204.5 L46.9,204.8 L46.7,205.9 L47.0,206.9 L47.8,207.4 L48.4,208.2 L49.4,208.4 L50.4,208.4 L51.4,207.9 L52.2,209.1 L53.1,208.1 L54.0,208.1 L55.0,208.3 L56.1,208.7 L56.7,207.5 L57.7,207.5 L58.7,207.1 L58.9,205.9 L59.8,205.6 L60.4,204.8 L60.5,203.8 L60.6,202.9 L61.7,202.4 L61.2,201.5 L61.2,200.8 L61.5,199.7 L61.0,198.6 L61.7,197.7 L62.4,197.1 L62.1,196.9 L60.6,197.5 L59.7,196.1 L59.8,194.9 L58.8,194.1 L58.7,192.9 L59.1,191.8 L59.0,191.1 L58.4,190.6 L58.1,189.4 L57.7,188.8 L57.1,188.5 L57.0,187.2 L56.6,186.0 L56.3,185.2 L56.6,184.8 L56.2,184.1 L54.9,183.0 L56.2,182.2 L55.7,181.6 L55.2,180.8 L54.7,179.9 L54.0,179.2 L52.7,179.2 L51.9,179.1 L51.6,177.6 L50.4,178.3 L49.5,177.9 L48.6,177.6 L47.7,176.9 L46.8,177.6 L45.7,177.1 L44.8,177.6 L44.1,178.5 L42.9,178.1 L42.2,178.8 L41.6,179.7 L41.0,180.4 L39.4,179.9 L39.5,181.5 L38.4,181.7 L37.6,182.3 L37.3,183.2 L36.4,183.8 L36.2,184.8 L36.3,185.9 L37.0,186.9 L36.0,187.7 L36.5,188.7 L36.6,189.6 Z" fill="#8a8a8a" stroke="#5e5e5e" stroke-width="1.1" stroke-opacity="0.6"/></g>
<g filter="url(#texO)"><path d="M55.0,182.7 L54.8,183.8 L54.5,184.9 L55.0,185.7 L55.5,186.6 L56.8,186.6 L57.7,187.5 L58.1,188.7 L57.6,189.7 L59.1,189.9 L59.7,191.3 L58.2,192.6 L58.1,193.5 L58.7,193.8 L59.6,194.0 L60.3,194.9 L61.4,195.4 L61.9,196.3 L62.8,197.3 L63.4,198.6 L62.6,199.5 L62.0,200.4 L63.1,201.0 L63.7,201.3 L63.6,202.7 L64.3,203.5 L64.9,204.3 L65.4,205.2 L66.1,206.0 L66.3,206.9 L66.6,207.8 L67.3,208.5 L68.7,209.0 L68.1,210.4 L68.2,211.5 L68.9,212.2 L69.8,212.7 L70.2,213.7 L70.9,214.3 L71.9,214.4 L72.5,215.2 L73.7,214.2 L74.5,214.8 L75.4,215.7 L76.3,215.3 L77.2,214.4 L78.2,215.1 L79.3,215.1 L80.2,214.7 L81.1,214.3 L81.5,213.1 L82.3,212.7 L83.1,212.2 L84.1,211.8 L83.5,210.2 L84.3,209.7 L85.8,209.4 L85.9,208.4 L85.6,207.4 L85.6,206.5 L85.8,205.5 L85.2,204.6 L85.4,203.6 L84.2,203.0 L83.8,202.4 L84.0,201.2 L83.5,200.1 L82.9,198.5 L83.7,198.0 L84.5,197.6 L83.7,197.0 L82.8,196.5 L81.7,195.8 L81.5,194.5 L81.7,193.6 L81.9,192.7 L80.9,192.2 L80.1,191.7 L80.6,190.1 L80.6,189.0 L81.0,188.0 L81.3,187.4 L81.5,186.9 L80.7,186.5 L79.7,186.1 L78.9,184.9 L78.4,183.5 L79.2,183.3 L79.0,182.6 L77.9,182.7 L76.6,182.7 L76.3,181.0 L76.6,180.0 L76.6,179.1 L76.3,178.4 L75.1,177.6 L75.3,176.0 L76.2,175.1 L77.2,174.9 L76.1,174.6 L76.5,174.1 L76.4,172.8 L75.5,172.4 L74.4,172.3 L73.6,171.6 L72.8,171.0 L71.7,171.2 L71.1,170.1 L69.8,170.8 L69.0,170.6 L68.2,169.7 L67.2,169.2 L66.3,170.3 L65.3,170.0 L64.3,169.4 L63.3,169.8 L62.4,169.9 L61.7,170.8 L60.9,171.4 L60.1,171.9 L58.8,171.7 L58.8,173.3 L58.1,173.8 L56.5,173.6 L55.8,174.3 L55.4,175.2 L55.2,176.2 L54.6,177.0 L54.6,178.0 L54.4,178.9 L54.2,179.8 L54.9,180.6 L54.3,181.6 Z" fill="#ec9030" stroke="#9a5014" stroke-width="1.1" stroke-opacity="0.6"/></g>
<g filter="url(#texO)"><path d="M81.9,183.8 L81.7,184.8 L82.3,185.5 L83.5,185.8 L84.9,186.2 L84.6,187.6 L85.2,188.1 L85.9,188.5 L86.6,189.3 L87.5,190.1 L87.6,191.3 L87.1,192.3 L86.8,193.2 L87.9,193.4 L88.2,194.1 L88.6,195.1 L89.7,195.7 L90.5,196.9 L89.8,198.4 L89.1,199.3 L88.9,199.7 L89.0,200.4 L90.1,200.2 L91.1,200.5 L91.8,201.5 L92.8,202.1 L93.8,203.0 L94.0,203.9 L93.7,205.1 L94.7,205.9 L94.3,207.2 L94.0,208.2 L93.6,209.2 L94.4,209.8 L94.7,210.8 L95.8,211.4 L96.8,212.2 L95.8,213.6 L96.9,214.3 L97.3,214.9 L97.7,215.7 L97.6,217.0 L98.9,217.1 L99.2,218.2 L99.9,218.8 L101.1,218.6 L101.8,219.5 L102.7,219.7 L103.7,219.3 L104.6,218.6 L105.6,219.6 L106.4,218.9 L107.3,218.9 L108.4,219.1 L109.3,218.8 L110.3,218.6 L111.1,218.1 L111.9,217.5 L111.9,216.0 L112.8,215.7 L113.6,215.2 L113.6,214.1 L114.2,213.4 L115.1,212.8 L114.8,211.9 L114.8,211.0 L115.2,210.0 L114.4,209.0 L114.3,208.0 L114.8,207.0 L114.2,206.1 L113.4,205.2 L113.5,204.1 L114.0,203.1 L113.3,202.5 L113.4,201.6 L112.8,200.9 L112.2,200.0 L111.5,199.2 L111.4,198.1 L110.5,197.0 L110.2,195.8 L111.9,195.1 L110.6,194.6 L110.3,193.8 L110.0,192.7 L110.4,191.5 L109.4,190.5 L110.3,189.5 L110.7,188.5 L110.2,188.1 L110.3,187.4 L109.4,187.0 L108.0,186.4 L107.4,184.9 L108.7,183.9 L107.9,183.0 L108.2,182.1 L108.3,181.0 L108.0,180.0 L108.5,179.1 L108.1,178.2 L107.2,177.9 L105.7,177.9 L105.5,176.6 L104.8,175.6 L104.2,174.7 L104.1,173.7 L103.9,172.8 L103.3,172.1 L102.6,171.6 L101.9,170.8 L100.6,171.4 L99.7,171.2 L99.0,170.1 L98.0,170.7 L97.0,171.1 L96.1,170.8 L95.1,170.5 L94.2,171.0 L93.2,170.5 L92.3,170.9 L91.3,171.2 L90.3,171.3 L89.5,171.9 L89.1,173.1 L88.5,173.8 L87.0,173.5 L87.0,174.8 L86.2,175.3 L85.5,175.9 L84.5,176.4 L84.4,177.5 L83.5,178.2 L83.5,179.3 L83.8,180.6 L82.6,181.0 L82.3,182.0 L82.5,183.1 Z" fill="#ec9030" stroke="#9a5014" stroke-width="1.1" stroke-opacity="0.6"/></g>
<g filter="url(#texO)"><path d="M107.9,181.7 L108.6,182.1 L110.0,182.3 L110.0,184.0 L109.4,185.1 L110.7,185.4 L111.5,185.8 L111.3,187.4 L111.8,188.3 L112.2,189.3 L113.0,190.0 L113.6,190.8 L114.1,191.6 L114.5,192.5 L115.1,193.1 L116.5,193.3 L116.4,195.0 L115.9,196.2 L116.0,197.1 L116.7,197.7 L116.8,198.7 L117.3,199.6 L118.1,200.3 L118.4,201.3 L119.8,201.6 L119.9,202.6 L120.0,203.9 L121.1,204.5 L122.0,205.6 L121.0,206.6 L121.4,207.4 L122.0,208.2 L122.9,208.8 L124.0,209.3 L124.4,210.2 L124.8,211.0 L125.4,211.6 L126.8,210.7 L127.4,211.7 L128.1,212.8 L129.1,212.6 L130.1,212.1 L131.0,212.3 L132.1,212.7 L132.9,211.9 L134.0,212.0 L134.3,210.5 L135.1,210.1 L136.3,210.2 L137.1,209.5 L136.9,208.1 L137.9,207.8 L138.9,207.3 L139.5,206.5 L139.8,205.6 L139.5,204.6 L139.6,203.7 L139.5,202.8 L139.9,201.7 L138.3,201.2 L137.9,200.3 L139.0,198.8 L138.7,197.8 L138.4,197.2 L137.9,196.7 L137.7,195.5 L136.9,194.8 L136.2,193.9 L135.4,193.0 L134.8,192.0 L135.5,190.9 L135.8,189.8 L134.8,188.6 L135.0,187.6 L136.4,186.8 L135.6,186.3 L135.0,185.5 L133.8,185.3 L132.9,184.3 L133.0,183.1 L133.2,182.0 L132.9,181.0 L132.1,180.7 L132.8,179.7 L132.2,178.8 L131.4,177.9 L130.9,177.1 L131.0,176.2 L130.5,175.3 L129.4,174.5 L130.0,173.4 L129.0,172.8 L129.1,172.2 L129.0,171.1 L128.1,170.5 L126.8,170.6 L126.7,169.4 L126.1,168.5 L125.2,168.0 L124.3,167.7 L123.2,168.0 L122.3,167.8 L121.3,168.0 L120.4,167.1 L119.5,168.7 L118.6,168.5 L117.4,167.7 L116.5,167.9 L115.8,168.9 L114.8,169.1 L113.7,169.1 L113.2,170.1 L112.3,170.5 L111.9,171.5 L111.4,172.4 L110.5,172.7 L109.3,173.1 L109.9,174.5 L109.4,175.3 L107.9,175.7 L107.6,176.7 L107.4,177.7 L107.9,178.7 L107.9,179.7 L108.1,180.6 Z" fill="#ec9030" stroke="#9a5014" stroke-width="1.1" stroke-opacity="0.6"/></g>
<g filter="url(#texO)"><path d="M136.5,184.1 L136.1,185.1 L136.5,185.9 L137.4,186.2 L138.5,186.1 L138.6,187.8 L140.3,188.3 L140.2,189.9 L139.4,190.8 L138.6,191.7 L139.4,192.3 L139.7,193.1 L140.3,193.8 L141.7,194.0 L142.0,195.4 L142.0,196.5 L142.4,197.1 L143.0,197.4 L143.0,198.7 L144.2,199.0 L144.7,200.0 L144.7,201.3 L145.1,202.3 L144.6,203.3 L144.9,204.2 L145.7,204.5 L147.3,204.7 L147.5,206.4 L147.1,207.6 L147.3,208.4 L146.9,208.8 L147.1,209.6 L148.1,210.3 L148.5,211.4 L148.1,212.5 L149.0,213.4 L149.2,214.3 L149.0,215.3 L150.1,215.6 L150.9,216.0 L151.3,216.9 L152.0,217.6 L153.1,217.6 L153.5,218.9 L154.3,219.3 L155.2,219.7 L156.2,219.9 L157.2,219.8 L158.1,219.3 L159.0,218.7 L160.1,219.9 L160.7,218.4 L161.7,218.4 L162.7,218.5 L163.8,218.4 L164.2,217.2 L165.3,217.1 L166.0,216.4 L166.1,215.3 L167.3,215.0 L167.1,213.8 L167.3,212.9 L167.6,212.1 L168.6,211.3 L167.3,210.4 L167.8,209.4 L168.4,208.3 L168.1,207.4 L168.2,206.4 L167.3,205.9 L166.4,205.3 L164.9,204.4 L165.9,202.8 L166.4,201.9 L166.3,201.6 L166.5,201.1 L166.4,200.0 L165.6,199.2 L165.4,198.2 L165.5,197.1 L164.4,196.5 L164.0,195.6 L164.0,194.4 L163.3,193.5 L162.8,192.5 L163.2,191.5 L162.7,190.7 L162.1,190.0 L162.5,188.7 L162.2,187.7 L162.3,186.6 L162.0,185.6 L161.9,184.7 L161.0,183.8 L160.9,182.6 L161.4,181.6 L160.8,180.4 L161.6,179.5 L162.2,178.8 L161.8,178.2 L160.8,178.0 L160.4,176.9 L159.3,176.6 L158.2,176.1 L158.2,174.8 L157.1,174.2 L156.5,173.5 L156.1,172.9 L156.0,171.7 L154.6,172.3 L154.1,171.2 L153.3,170.4 L152.4,170.3 L151.4,170.0 L150.4,170.1 L149.5,170.4 L148.6,171.2 L147.5,170.3 L146.7,171.2 L145.8,171.5 L144.8,171.5 L143.7,171.1 L143.2,172.3 L142.1,172.4 L141.1,172.6 L140.7,173.7 L139.8,174.1 L139.1,174.8 L138.8,175.8 L138.6,176.8 L137.6,177.2 L137.5,178.2 L137.3,179.1 L136.3,179.7 L136.2,180.7 L135.9,181.7 L136.3,182.7 Z" fill="#ec9030" stroke="#9a5014" stroke-width="1.1" stroke-opacity="0.6"/></g>
<g filter="url(#texO)"><path d="M162.2,181.1 L162.8,182.0 L164.0,182.6 L163.4,183.9 L164.2,184.7 L164.7,185.5 L165.0,186.3 L164.7,187.5 L166.1,187.4 L166.7,188.7 L166.2,189.9 L166.8,190.6 L167.0,191.4 L167.7,192.1 L168.8,192.7 L169.9,193.6 L169.4,194.7 L170.0,195.4 L170.5,196.1 L170.7,197.1 L171.5,197.7 L171.8,198.9 L172.2,199.8 L172.2,200.8 L173.5,201.2 L174.1,202.1 L173.6,203.5 L174.7,204.2 L175.0,205.2 L174.9,206.4 L174.7,207.4 L175.2,208.0 L175.2,209.1 L176.1,209.6 L177.0,210.1 L177.2,211.3 L178.3,211.3 L179.4,211.1 L180.3,211.3 L180.9,212.5 L182.0,211.6 L182.9,212.2 L183.8,212.5 L184.8,212.5 L185.8,212.2 L186.7,212.0 L187.4,211.1 L187.8,210.0 L189.2,210.4 L189.5,209.3 L190.1,208.6 L190.8,208.1 L192.0,207.7 L191.8,206.5 L192.6,205.9 L193.1,205.0 L192.4,204.0 L192.8,203.1 L192.7,202.1 L192.1,201.2 L191.3,200.5 L191.8,199.2 L191.4,198.2 L191.4,197.8 L191.2,196.9 L190.4,196.3 L190.0,195.3 L190.3,194.2 L190.9,193.6 L189.8,193.4 L189.4,192.8 L189.0,191.5 L188.3,190.2 L188.5,189.5 L188.7,188.8 L188.1,188.3 L187.0,187.7 L187.2,186.3 L187.0,185.2 L187.0,184.2 L187.8,183.4 L187.0,182.8 L185.9,182.6 L185.3,181.6 L185.3,180.2 L184.3,179.5 L184.8,178.2 L184.7,177.2 L184.9,176.1 L184.9,175.2 L184.7,174.3 L183.6,173.9 L182.6,173.3 L183.2,171.7 L181.7,171.6 L181.3,170.7 L181.0,169.8 L180.6,168.8 L179.5,169.0 L178.9,168.0 L177.9,167.8 L176.8,168.2 L176.0,167.3 L175.0,167.8 L174.1,168.2 L173.2,168.4 L172.1,167.4 L171.4,169.0 L170.4,168.6 L169.3,168.4 L168.4,168.9 L167.5,169.3 L166.7,169.9 L166.1,170.7 L165.9,171.9 L164.5,171.9 L164.6,173.1 L164.1,173.9 L163.1,174.4 L162.1,174.9 L162.6,176.1 L162.1,176.9 L161.5,177.8 L162.3,178.7 L162.3,179.7 Z" fill="#ec9030" stroke="#9a5014" stroke-width="1.1" stroke-opacity="0.6"/></g>
<g filter="url(#texO)"><path d="M195.2,186.2 L194.8,187.3 L194.7,188.3 L195.7,189.0 L195.5,190.2 L196.7,190.6 L197.3,191.4 L197.8,192.5 L197.0,193.8 L198.7,194.5 L198.4,195.4 L197.8,196.7 L198.4,197.5 L199.1,198.3 L199.9,199.0 L200.3,199.9 L201.3,200.5 L201.5,201.6 L202.3,202.3 L203.0,202.9 L202.9,204.1 L202.9,205.3 L203.7,206.5 L203.3,207.5 L202.3,208.2 L202.8,209.1 L203.3,209.9 L203.8,210.6 L205.0,211.2 L205.3,212.4 L205.1,213.4 L205.9,213.9 L206.9,214.4 L206.6,215.9 L207.0,216.9 L207.5,217.7 L208.4,218.2 L209.1,218.9 L210.0,219.2 L210.8,219.4 L211.5,220.3 L212.7,219.4 L213.4,220.2 L214.3,220.9 L215.3,220.8 L216.1,220.0 L217.2,220.6 L218.2,220.6 L218.9,219.6 L220.1,219.8 L220.4,218.6 L221.1,218.0 L221.9,217.5 L223.3,217.5 L222.7,215.9 L223.7,215.5 L225.0,215.1 L225.3,214.1 L225.5,213.1 L225.3,212.1 L225.4,211.2 L224.9,210.3 L225.3,209.4 L224.3,208.9 L223.6,208.2 L223.8,206.9 L223.8,205.7 L222.8,204.7 L223.1,203.7 L223.8,202.8 L222.9,202.2 L222.3,201.3 L222.0,200.0 L222.1,198.8 L222.4,198.4 L222.6,197.7 L221.6,197.3 L220.7,196.8 L221.0,195.2 L220.6,194.3 L220.3,193.3 L220.4,192.2 L220.5,191.4 L219.8,190.9 L219.2,190.1 L219.2,189.0 L217.7,188.6 L217.8,187.2 L218.3,185.9 L218.3,185.0 L217.6,184.6 L217.6,183.4 L216.9,182.6 L216.3,181.2 L217.8,180.8 L217.3,180.0 L217.1,179.8 L216.6,179.0 L216.5,177.8 L214.9,177.7 L215.1,176.4 L215.0,175.2 L214.2,174.6 L213.4,174.0 L212.5,173.7 L211.6,173.4 L210.5,173.6 L209.9,172.3 L208.8,173.3 L207.9,173.0 L207.0,172.3 L206.0,171.8 L205.1,172.8 L204.1,172.5 L203.1,172.3 L202.3,173.2 L201.3,173.1 L200.6,174.0 L199.9,174.6 L199.1,175.1 L197.7,174.8 L197.8,176.4 L196.9,176.8 L195.5,176.8 L194.9,177.6 L194.3,178.4 L194.2,179.5 L193.8,180.3 L194.1,181.2 L193.9,182.1 L194.3,182.9 L195.0,183.7 L194.4,184.8 Z" fill="#ec9030" stroke="#9a5014" stroke-width="1.1" stroke-opacity="0.6"/></g>
<g filter="url(#texG)"><path d="M40.2,193.5 L40.5,194.2 L41.4,195.0 L41.0,196.4 L41.2,197.5 L40.5,198.4 L40.9,199.0 L42.1,198.7 L42.4,200.1 L43.4,200.5 L44.7,201.3 L44.9,203.1 L43.1,203.5 L44.0,204.1 L43.9,205.0 L44.5,205.8 L45.7,206.3 L45.3,207.7 L44.4,208.3 L45.2,208.7 L46.7,208.8 L46.3,210.7 L46.1,211.7 L46.2,211.8 L46.7,212.5 L47.0,213.8 L46.7,214.8 L46.7,215.6 L47.3,216.3 L48.6,216.8 L48.7,217.9 L48.8,218.9 L49.8,219.1 L50.8,219.1 L51.2,220.2 L52.1,220.4 L53.0,220.7 L53.9,221.2 L54.9,220.8 L55.8,221.0 L56.9,221.1 L57.7,220.5 L58.1,219.1 L58.9,218.8 L60.1,218.9 L60.3,217.8 L61.0,217.2 L61.7,216.5 L62.5,215.9 L62.7,214.9 L63.4,214.1 L62.6,213.4 L61.9,213.2 L62.0,211.7 L62.2,210.5 L62.2,210.2 L62.0,210.4 L61.9,209.2 L60.5,208.4 L61.4,207.1 L61.6,206.3 L61.4,205.5 L61.7,204.4 L61.7,203.4 L60.5,202.8 L59.6,202.1 L60.6,200.6 L59.8,199.4 L60.0,198.4 L60.3,197.5 L61.1,196.6 L60.2,195.9 L60.3,194.8 L59.7,193.9 L58.8,193.3 L59.1,192.0 L58.8,190.9 L58.4,190.1 L57.9,189.5 L58.9,188.1 L57.4,187.9 L57.3,186.9 L56.8,186.1 L55.9,185.6 L55.2,184.8 L54.3,184.6 L53.2,184.9 L52.2,185.5 L51.3,184.3 L50.4,185.0 L49.5,185.1 L48.5,185.0 L47.4,184.6 L46.7,185.4 L45.6,185.4 L44.7,185.9 L44.5,187.1 L43.4,187.3 L42.6,187.9 L42.5,189.0 L42.4,190.0 L41.1,190.4 L41.1,191.4 L40.6,192.2 L39.7,193.0 Z" fill="#9a9a9a" stroke="#5e5e5e" stroke-width="1.1" stroke-opacity="0.6"/></g>
<g filter="url(#texG)"><path d="M54.9,208.7 L55.2,209.7 L55.2,210.7 L54.8,211.7 L54.3,212.5 L55.5,212.6 L56.6,213.0 L56.2,214.7 L57.4,215.4 L57.7,216.2 L58.0,217.4 L57.3,218.6 L57.7,219.3 L57.5,220.2 L58.5,220.6 L59.8,221.1 L59.5,222.5 L59.7,223.7 L59.8,224.7 L60.2,224.6 L59.7,225.8 L61.3,225.8 L61.6,227.6 L60.5,228.4 L60.3,228.8 L60.7,229.5 L61.6,230.1 L62.4,230.9 L63.2,232.1 L62.5,232.5 L63.0,233.2 L63.9,234.0 L64.2,235.1 L63.9,236.2 L64.6,236.9 L65.0,237.7 L65.5,238.5 L66.8,238.3 L67.6,238.8 L68.4,239.4 L69.4,239.1 L70.3,238.7 L71.2,239.2 L72.2,239.2 L73.0,238.8 L74.1,239.3 L75.0,239.0 L76.0,238.8 L76.9,238.3 L77.7,237.8 L78.0,236.6 L78.4,235.8 L79.8,235.8 L79.5,234.4 L80.3,233.8 L81.0,233.2 L81.7,232.4 L81.5,231.3 L82.4,230.5 L82.2,229.6 L81.4,228.8 L82.1,227.7 L81.4,226.8 L80.8,226.0 L80.2,225.1 L81.3,223.8 L80.5,222.6 L81.1,222.1 L80.7,221.3 L79.9,220.5 L80.4,219.3 L80.2,218.4 L79.4,217.7 L78.2,216.8 L79.3,215.5 L78.6,214.6 L78.4,213.8 L78.5,212.6 L79.5,211.6 L78.7,210.9 L78.6,210.1 L78.3,209.0 L77.5,207.7 L78.3,207.0 L78.2,206.5 L77.1,205.7 L76.8,204.5 L77.4,203.6 L76.5,202.9 L76.3,202.0 L76.7,200.8 L76.0,200.0 L75.6,199.1 L74.7,198.6 L73.9,198.2 L72.7,198.4 L72.0,197.8 L71.2,197.3 L70.1,197.6 L69.4,196.8 L68.5,196.2 L67.5,196.4 L66.5,196.7 L65.5,196.1 L64.6,196.7 L63.7,197.2 L62.7,197.0 L62.1,198.1 L61.2,198.4 L60.2,198.5 L59.3,198.9 L58.9,200.0 L57.6,199.8 L56.7,200.3 L56.2,201.2 L55.5,201.9 L55.3,202.9 L55.2,203.8 L55.3,204.6 L54.4,205.5 L55.7,206.3 L55.2,207.3 Z" fill="#9a9a9a" stroke="#5e5e5e" stroke-width="1.1" stroke-opacity="0.6"/></g>
<g filter="url(#texG)"><path d="M108.0,206.1 L107.5,207.3 L108.4,207.8 L109.1,208.7 L109.5,209.7 L109.8,210.6 L110.6,211.2 L110.6,212.1 L111.3,212.9 L112.2,214.2 L111.1,215.2 L111.2,215.9 L111.9,216.4 L113.0,216.8 L113.4,217.9 L113.5,219.1 L113.5,219.9 L112.8,220.6 L113.9,221.4 L114.0,222.2 L114.1,223.1 L114.4,224.0 L115.6,225.0 L114.6,226.2 L114.6,227.1 L115.3,227.8 L115.2,229.0 L116.0,229.7 L116.8,230.7 L117.3,231.4 L116.4,232.7 L118.0,232.9 L118.1,233.9 L118.3,235.0 L118.7,235.9 L119.8,236.1 L120.5,236.8 L121.4,237.1 L122.5,236.6 L123.2,237.6 L124.2,237.1 L125.2,236.9 L126.1,237.0 L127.2,237.8 L127.8,236.5 L128.8,236.6 L130.0,236.9 L130.7,236.1 L131.7,235.9 L132.4,235.2 L132.9,234.3 L132.9,233.2 L133.9,232.8 L134.2,232.0 L134.2,231.1 L135.0,230.4 L135.4,229.5 L135.3,228.5 L135.2,227.5 L135.7,226.5 L134.9,225.8 L134.2,225.3 L134.2,224.0 L133.4,222.8 L133.5,221.7 L134.0,220.8 L134.3,219.8 L133.8,219.0 L134.6,218.0 L134.2,217.1 L133.9,216.0 L134.4,215.1 L134.3,214.3 L133.5,213.8 L132.7,213.3 L133.0,211.8 L131.2,211.2 L131.6,209.6 L132.6,208.7 L133.4,208.0 L133.0,207.2 L133.1,206.5 L132.4,205.8 L131.0,205.0 L132.0,203.8 L131.9,202.7 L131.9,202.0 L131.7,201.5 L132.3,200.3 L130.7,200.2 L130.5,199.2 L130.5,197.9 L129.6,197.4 L129.1,196.5 L128.1,196.3 L127.1,195.9 L126.0,196.2 L125.3,195.3 L124.4,195.3 L123.4,195.4 L122.6,194.6 L121.7,194.1 L120.7,194.5 L119.7,194.6 L118.7,194.2 L117.9,195.0 L117.0,195.3 L116.0,195.3 L115.3,196.3 L114.5,196.8 L113.5,196.9 L112.8,197.5 L112.4,198.4 L111.0,198.3 L110.3,199.0 L109.6,199.7 L109.3,200.7 L108.8,201.5 L108.9,202.6 L108.9,203.6 L107.5,204.2 L108.4,205.4 Z" fill="#9a9a9a" stroke="#5e5e5e" stroke-width="1.1" stroke-opacity="0.6"/></g>
<g filter="url(#texG)"><path d="M163.9,206.2 L163.4,206.9 L163.5,207.6 L164.1,208.1 L164.6,209.2 L165.8,209.9 L165.3,210.8 L165.3,211.9 L166.5,212.7 L166.5,214.3 L165.2,214.6 L165.3,215.4 L166.2,216.0 L166.7,216.9 L168.1,217.3 L168.3,218.7 L167.9,219.8 L167.7,220.7 L169.0,220.9 L168.7,221.9 L168.9,223.1 L169.6,223.9 L170.5,224.6 L170.8,225.7 L170.7,226.7 L171.6,227.2 L171.5,228.4 L173.1,228.7 L173.6,229.8 L173.2,231.1 L172.9,232.2 L174.2,232.6 L174.2,233.4 L174.4,234.6 L175.5,234.7 L176.3,235.2 L177.3,235.1 L178.3,235.0 L179.2,235.0 L180.1,235.7 L181.0,234.8 L181.9,234.5 L183.0,235.4 L184.1,235.3 L184.9,234.8 L185.6,234.0 L186.6,233.8 L187.1,232.9 L187.7,232.2 L188.4,231.6 L188.3,230.4 L189.3,229.9 L190.3,229.4 L190.1,228.3 L190.0,227.3 L191.1,226.5 L191.2,225.6 L190.6,224.9 L190.4,223.9 L189.5,222.9 L189.3,221.9 L189.4,220.9 L189.6,220.0 L188.0,219.3 L188.8,217.9 L189.8,216.9 L189.3,216.1 L188.3,215.7 L187.6,214.6 L188.1,213.4 L188.0,212.4 L189.1,211.8 L188.1,210.4 L188.6,209.8 L189.1,209.2 L188.9,208.3 L187.4,207.9 L187.4,206.6 L188.0,205.5 L186.8,205.1 L186.6,203.9 L186.8,202.7 L186.7,201.7 L186.7,201.1 L187.0,200.3 L186.0,199.8 L185.4,199.0 L185.8,197.6 L185.2,196.8 L184.7,195.9 L183.7,195.6 L182.9,195.1 L181.7,195.2 L180.9,194.8 L180.2,194.1 L179.1,194.6 L178.3,193.9 L177.4,193.2 L176.4,193.6 L175.5,194.0 L174.4,193.1 L173.5,193.4 L172.6,193.9 L171.6,193.9 L170.9,194.9 L170.1,195.3 L169.2,195.6 L168.2,195.9 L168.1,197.3 L166.7,197.0 L165.6,197.3 L165.0,198.1 L164.8,199.2 L164.2,199.9 L163.9,200.8 L164.2,201.7 L163.2,202.5 L164.6,203.4 L164.4,204.4 Z" fill="#9a9a9a" stroke="#5e5e5e" stroke-width="1.1" stroke-opacity="0.6"/></g>
<g filter="url(#texG)"><path d="M212.1,203.5 L211.9,204.6 L212.5,205.8 L212.5,207.2 L211.1,207.7 L210.4,208.5 L210.7,209.4 L211.3,210.3 L211.0,211.5 L211.0,212.6 L211.0,213.6 L210.5,214.4 L211.6,215.4 L210.8,216.4 L210.1,217.3 L210.7,218.2 L211.1,219.6 L209.8,220.3 L209.2,221.1 L209.7,222.1 L209.5,223.1 L210.1,224.4 L209.6,225.4 L209.3,226.2 L208.4,226.9 L209.9,227.5 L209.4,228.4 L209.1,229.6 L209.7,230.5 L210.7,230.7 L211.4,231.3 L212.2,231.8 L213.3,231.4 L214.1,232.2 L215.0,231.2 L215.7,231.0 L216.7,231.4 L217.8,231.4 L217.6,230.0 L218.3,229.5 L219.5,229.0 L219.9,228.1 L220.1,227.2 L219.3,226.3 L219.5,224.9 L220.3,224.0 L221.1,223.9 L219.8,223.5 L219.3,222.0 L220.9,221.0 L221.3,220.1 L221.2,219.0 L221.4,218.0 L222.3,217.3 L222.3,216.3 L222.1,215.3 L222.1,214.1 L222.1,212.7 L223.1,212.4 L223.9,211.7 L223.1,210.7 L222.8,209.6 L224.2,208.7 L224.6,207.8 L224.4,206.8 L224.2,205.8 L223.8,204.8 L223.8,204.0 L223.6,203.2 L223.1,202.5 L221.8,202.7 L221.7,201.3 L221.2,200.4 L220.2,200.2 L219.2,200.3 L218.3,199.8 L217.4,199.7 L216.5,200.3 L215.4,199.8 L215.1,201.4 L214.1,201.4 L212.9,201.2 L212.5,202.0 L212.8,203.3 Z" fill="#9a9a9a" stroke="#5e5e5e" stroke-width="1.1" stroke-opacity="0.6"/></g>
<g filter="url(#texO)"><path d="M28.7,206.9 L29.3,207.8 L29.9,208.6 L29.7,209.7 L30.1,210.5 L31.3,211.1 L30.8,212.5 L31.8,212.9 L31.9,213.3 L32.5,214.3 L32.9,215.6 L33.5,216.5 L32.8,217.0 L33.2,218.0 L33.8,218.9 L33.7,220.0 L34.0,221.0 L34.0,221.6 L34.7,221.7 L34.9,223.1 L37.2,223.5 L36.3,225.0 L35.3,225.4 L36.0,226.0 L37.3,226.6 L36.9,228.0 L36.3,228.8 L37.4,229.2 L37.6,230.3 L38.8,230.7 L39.4,231.4 L39.6,232.3 L40.0,233.4 L41.4,232.6 L42.1,233.2 L42.8,234.3 L43.8,234.5 L44.8,234.5 L45.6,233.6 L46.5,233.4 L47.4,233.0 L48.5,233.2 L48.7,231.7 L49.3,231.1 L50.9,231.5 L51.3,230.6 L51.7,229.7 L51.8,228.9 L52.4,228.1 L51.9,227.2 L51.6,226.2 L51.2,225.1 L50.6,224.0 L51.6,223.0 L52.4,222.1 L51.2,221.3 L50.8,220.5 L51.6,219.2 L51.2,218.3 L50.2,217.7 L49.7,216.7 L49.2,215.3 L49.9,214.2 L50.9,213.8 L50.5,213.7 L49.2,213.9 L49.3,212.0 L49.5,210.9 L49.5,209.9 L48.8,209.2 L48.5,208.4 L47.8,207.7 L46.7,206.9 L47.2,205.7 L46.7,204.3 L47.4,204.2 L48.1,203.2 L47.4,202.3 L46.4,201.9 L46.7,200.7 L46.4,199.7 L45.9,198.8 L45.3,198.0 L44.1,198.2 L43.4,197.6 L42.6,197.0 L41.8,196.4 L40.6,197.7 L39.8,197.0 L38.9,196.1 L37.9,196.2 L37.0,196.6 L36.1,196.9 L35.1,196.9 L34.4,197.8 L33.3,197.8 L33.1,199.1 L32.4,199.7 L31.0,199.5 L30.3,200.2 L30.5,201.4 L29.8,202.1 L28.7,202.6 L28.6,203.6 L28.7,204.6 L29.4,205.5 Z" fill="#ec9030" stroke="#9a5014" stroke-width="1.1" stroke-opacity="0.6"/></g>
<g filter="url(#texO)"><path d="M74.8,225.3 L75.2,226.2 L76.0,227.2 L75.5,228.4 L75.1,229.4 L75.6,230.2 L76.0,231.0 L75.8,232.2 L76.8,232.8 L77.5,233.5 L77.6,234.6 L78.8,235.0 L79.6,235.8 L79.9,237.2 L79.4,238.3 L80.0,238.7 L79.9,239.7 L80.5,240.7 L80.3,241.9 L79.8,242.7 L80.4,243.4 L81.5,243.6 L82.5,243.9 L82.4,245.6 L84.0,246.8 L82.8,247.9 L82.1,248.1 L82.1,248.8 L83.1,249.3 L83.2,250.5 L84.0,251.1 L85.2,251.4 L85.2,252.7 L86.2,252.8 L87.2,252.9 L88.1,253.0 L88.6,254.5 L89.7,253.6 L90.6,254.2 L91.6,254.5 L92.5,254.2 L93.6,254.5 L94.5,254.1 L95.2,253.3 L95.7,252.1 L96.9,252.4 L97.4,251.5 L98.0,250.8 L98.9,250.5 L99.9,250.0 L100.0,248.9 L100.5,248.2 L101.2,247.4 L100.4,246.4 L100.5,245.4 L100.8,244.3 L100.7,243.3 L100.4,242.8 L100.6,241.9 L99.9,241.3 L99.1,240.4 L99.5,239.0 L99.6,237.9 L100.1,237.0 L99.8,236.1 L99.5,235.2 L98.3,234.7 L97.9,233.7 L97.9,232.5 L96.9,231.4 L97.5,230.3 L98.0,229.4 L97.6,228.5 L97.3,227.1 L98.7,226.7 L98.4,226.1 L97.5,225.9 L97.5,224.4 L96.6,223.4 L96.5,222.2 L96.9,221.5 L97.2,220.8 L96.1,221.0 L95.7,219.7 L95.1,218.7 L94.6,217.8 L94.6,216.7 L94.1,215.9 L93.3,215.4 L92.3,215.3 L92.3,213.7 L90.9,214.4 L90.1,213.9 L89.4,213.3 L88.5,212.5 L87.5,213.1 L86.5,212.6 L85.6,212.5 L84.7,213.4 L83.6,212.8 L82.8,213.5 L82.0,214.1 L81.2,214.6 L79.8,213.9 L79.5,215.4 L78.5,215.5 L77.4,215.6 L76.8,216.4 L75.8,216.8 L75.3,217.7 L75.0,218.7 L75.4,219.9 L74.3,220.4 L74.7,221.3 L74.8,222.2 L74.4,223.1 L74.0,224.2 Z" fill="#ec9030" stroke="#9a5014" stroke-width="1.1" stroke-opacity="0.6"/></g>
<g filter="url(#texO)"><path d="M129.8,225.1 L129.8,226.1 L129.6,227.3 L130.2,228.2 L129.4,228.6 L129.5,229.7 L130.4,230.2 L131.5,230.7 L131.6,231.9 L132.0,232.8 L132.8,233.7 L132.3,234.9 L133.4,235.7 L133.5,236.3 L133.6,237.3 L134.0,238.4 L135.0,239.3 L134.2,240.3 L134.5,241.3 L135.4,241.8 L135.7,242.9 L136.3,243.9 L136.5,244.8 L137.0,245.4 L136.5,246.7 L138.6,247.1 L138.2,248.6 L137.1,249.5 L136.8,250.5 L137.7,251.1 L138.1,251.9 L138.4,252.9 L139.5,253.2 L139.9,254.2 L141.0,254.2 L141.9,254.5 L142.5,255.3 L143.1,256.4 L144.3,255.3 L145.1,255.8 L146.1,256.8 L147.0,256.5 L148.0,256.5 L148.9,255.8 L149.7,255.4 L150.5,254.7 L151.5,254.7 L151.9,253.6 L152.5,253.0 L153.9,253.1 L154.8,252.6 L155.0,251.6 L155.3,250.7 L156.0,249.9 L155.7,248.9 L155.6,247.9 L156.0,247.0 L155.2,246.2 L155.3,245.3 L155.5,244.3 L154.9,243.4 L154.1,242.5 L154.9,241.2 L155.3,240.2 L155.6,239.3 L155.9,238.6 L154.8,238.4 L153.7,237.8 L153.0,236.3 L154.4,235.3 L153.0,234.5 L153.4,233.7 L153.7,232.6 L153.4,231.6 L152.9,230.4 L153.9,229.8 L154.4,229.2 L153.4,229.4 L153.0,228.4 L151.8,227.9 L151.0,226.9 L150.8,225.5 L151.8,224.4 L152.1,223.2 L152.6,223.2 L152.6,222.5 L151.4,222.3 L150.7,221.3 L150.9,220.2 L151.0,219.4 L150.1,219.0 L150.1,218.0 L149.6,217.2 L148.8,216.6 L148.8,215.5 L148.2,214.8 L147.5,214.0 L146.5,213.8 L145.7,213.2 L144.6,213.6 L143.7,213.6 L142.8,212.7 L141.8,213.5 L140.9,213.4 L139.9,213.1 L139.0,213.0 L138.2,213.8 L137.0,213.2 L136.1,213.6 L135.3,214.2 L134.2,214.2 L133.6,215.1 L133.1,216.0 L132.7,216.9 L131.1,216.6 L131.4,218.1 L130.5,218.6 L129.7,219.2 L128.8,219.8 L129.1,220.9 L128.7,221.8 L129.0,222.8 L130.0,223.7 Z" fill="#ec9030" stroke="#9a5014" stroke-width="1.1" stroke-opacity="0.6"/></g>
<g filter="url(#texO)"><path d="M186.5,223.8 L187.0,224.7 L186.4,225.9 L186.3,226.9 L185.9,227.8 L186.4,228.6 L187.7,229.4 L187.1,230.6 L186.6,231.5 L187.6,231.8 L189.0,231.4 L189.6,232.5 L190.0,233.6 L191.1,234.5 L190.8,236.0 L190.3,236.7 L190.0,237.4 L190.8,237.9 L191.7,238.5 L193.3,239.5 L192.6,241.0 L191.0,240.9 L191.5,241.7 L192.4,242.0 L192.8,242.5 L193.1,243.8 L194.1,244.5 L193.6,245.7 L194.1,246.6 L194.7,247.2 L194.6,248.4 L194.1,249.4 L195.5,249.9 L196.2,250.4 L195.5,252.0 L196.6,252.4 L197.1,253.2 L197.9,253.6 L198.6,254.4 L199.3,255.0 L200.3,255.1 L201.3,255.0 L202.3,254.1 L203.2,255.1 L204.2,255.4 L205.0,254.6 L205.8,254.1 L207.0,254.8 L207.8,254.2 L208.9,254.1 L209.6,253.3 L209.8,252.2 L210.8,251.8 L211.7,251.3 L211.9,250.3 L211.3,249.1 L212.4,248.7 L212.8,247.8 L212.8,246.8 L212.6,245.9 L212.6,244.9 L212.9,243.9 L212.6,242.8 L212.9,241.9 L211.2,241.8 L210.8,240.6 L211.7,239.2 L211.2,238.2 L210.6,237.5 L210.9,236.6 L210.9,235.5 L210.6,234.6 L210.4,233.5 L209.8,232.3 L210.0,231.5 L210.5,230.7 L210.4,229.7 L208.9,229.8 L208.2,228.6 L209.2,227.1 L209.0,226.2 L208.9,225.6 L208.1,225.0 L207.9,223.8 L208.1,222.8 L208.4,221.8 L207.6,220.8 L207.2,220.2 L208.2,219.0 L207.2,218.3 L206.4,217.5 L206.2,216.5 L206.7,215.3 L205.8,214.8 L205.6,213.7 L204.6,213.4 L203.5,213.4 L202.9,212.5 L202.1,212.0 L200.9,212.6 L199.9,213.0 L199.2,211.5 L198.2,212.2 L197.2,212.0 L196.3,212.1 L195.2,211.9 L194.3,212.1 L193.3,212.2 L192.5,213.0 L192.1,214.3 L190.9,214.1 L190.0,214.5 L189.6,215.4 L189.1,216.2 L187.8,216.3 L187.5,217.3 L186.7,217.9 L186.1,218.7 L186.5,219.8 L186.0,220.6 L185.5,221.5 L186.1,222.5 Z" fill="#ec9030" stroke="#9a5014" stroke-width="1.1" stroke-opacity="0.6"/></g>
<g filter="url(#texG)"><path d="M21.4,239.3 L19.8,239.7 L20.3,240.5 L20.2,241.3 L20.7,242.3 L20.5,243.4 L20.2,244.4 L20.5,245.3 L21.2,246.4 L22.0,247.3 L20.8,248.2 L21.5,248.8 L22.4,249.3 L23.0,251.0 L21.4,251.7 L21.1,252.5 L20.6,253.3 L21.2,254.0 L22.5,254.2 L22.7,255.6 L22.2,256.7 L23.0,257.4 L24.1,258.0 L23.2,259.6 L23.0,260.6 L22.5,261.2 L23.0,262.0 L23.5,262.9 L23.5,264.0 L24.0,264.9 L24.7,265.5 L26.2,265.0 L26.5,266.1 L27.1,266.8 L28.1,266.7 L29.0,266.6 L29.9,267.2 L30.9,267.3 L31.9,267.5 L32.9,267.1 L33.3,265.7 L34.1,265.4 L35.4,265.5 L35.6,264.4 L35.2,263.3 L36.0,262.7 L36.7,261.9 L37.0,261.0 L37.3,260.0 L36.8,259.0 L37.0,258.2 L36.6,257.5 L36.2,256.5 L35.0,255.0 L35.5,254.3 L36.8,253.8 L35.9,252.8 L35.7,251.7 L35.9,250.7 L36.6,249.7 L36.5,248.7 L36.3,247.7 L35.8,246.5 L35.8,245.4 L37.0,244.8 L36.9,243.9 L35.5,243.5 L35.1,242.1 L36.5,240.9 L36.5,239.7 L37.4,239.2 L37.0,238.5 L36.6,237.7 L36.5,236.6 L36.3,235.6 L35.0,235.1 L34.2,234.8 L34.7,233.1 L33.5,233.1 L32.6,232.8 L31.8,232.3 L31.2,231.2 L30.2,231.3 L29.2,231.0 L28.2,231.5 L27.3,232.1 L26.3,231.3 L25.4,231.8 L24.7,232.7 L24.0,233.3 L22.6,232.7 L22.3,233.9 L21.2,234.0 L20.7,234.8 L20.4,235.6 L19.9,236.4 L20.0,237.4 Z" fill="#9a9a9a" stroke="#5e5e5e" stroke-width="1.1" stroke-opacity="0.6"/></g>
<g filter="url(#texG)"><path d="M40.0,237.5 L40.2,238.9 L38.5,238.8 L38.7,239.5 L39.6,239.9 L40.3,240.4 L40.4,241.8 L41.2,242.6 L41.3,243.6 L41.8,244.5 L42.7,245.7 L42.0,246.6 L41.4,247.6 L42.7,248.2 L43.7,249.1 L42.6,250.2 L43.4,250.7 L43.9,251.6 L44.7,252.1 L45.7,252.6 L46.3,253.8 L45.7,254.9 L44.9,255.5 L45.9,255.7 L45.6,256.1 L45.8,257.4 L46.2,258.3 L46.7,258.9 L46.9,259.9 L47.3,260.8 L47.5,261.9 L48.1,262.7 L49.5,262.8 L50.1,263.4 L50.3,264.7 L51.3,264.8 L52.5,264.3 L53.2,264.9 L54.0,265.8 L54.9,265.6 L55.9,266.1 L56.8,265.8 L57.8,265.8 L58.8,266.0 L59.8,265.8 L60.3,264.4 L60.9,263.6 L62.5,264.6 L62.9,263.3 L63.5,262.7 L64.2,262.1 L65.5,261.9 L65.7,260.9 L66.5,260.2 L66.3,259.2 L65.6,258.3 L66.4,257.3 L66.5,256.3 L65.9,254.9 L66.0,254.1 L67.1,253.6 L66.1,253.2 L66.0,251.9 L66.1,250.7 L66.2,249.8 L66.5,249.0 L66.3,248.0 L65.7,247.0 L64.7,245.8 L65.8,245.3 L65.5,244.7 L64.5,244.2 L63.8,242.9 L64.5,241.6 L65.2,240.7 L66.2,240.3 L66.2,239.4 L64.7,239.6 L63.9,238.6 L64.4,237.2 L63.7,236.3 L62.6,235.8 L62.8,234.6 L62.6,233.5 L62.7,232.2 L63.6,231.5 L63.0,230.7 L62.8,229.9 L62.6,228.9 L62.1,228.0 L60.5,228.1 L59.9,227.5 L60.0,226.0 L58.8,226.1 L58.0,225.6 L57.2,225.1 L56.5,224.1 L55.5,224.0 L54.6,223.7 L53.5,224.4 L52.6,224.8 L51.6,223.7 L50.6,224.1 L49.8,224.9 L48.9,225.3 L47.7,224.3 L47.0,225.3 L45.9,225.2 L45.1,225.8 L44.2,226.2 L43.2,226.4 L42.4,227.0 L42.2,228.3 L42.2,229.5 L40.7,229.4 L40.3,230.3 L40.0,231.2 L39.8,232.0 L38.9,232.7 L39.2,233.7 L38.9,234.7 L39.3,235.6 Z" fill="#9a9a9a" stroke="#5e5e5e" stroke-width="1.1" stroke-opacity="0.6"/></g>
<g filter="url(#texG)"><path d="M95.7,237.0 L96.8,237.3 L97.4,238.4 L97.1,239.7 L97.1,240.3 L97.4,240.3 L97.6,241.4 L99.1,242.0 L99.2,243.3 L98.6,244.3 L99.3,245.0 L99.7,245.9 L100.6,246.7 L100.4,247.9 L100.3,248.9 L100.1,248.7 L100.4,249.2 L101.9,249.9 L101.4,251.6 L100.5,252.3 L101.0,253.1 L101.4,253.7 L101.7,254.7 L103.1,255.1 L103.4,256.3 L103.1,257.3 L104.1,257.7 L104.8,258.3 L105.2,259.4 L105.5,260.6 L106.3,261.4 L105.7,262.6 L106.2,263.4 L106.9,264.0 L107.4,264.9 L108.4,265.1 L109.5,264.8 L110.4,264.8 L111.1,266.1 L112.2,265.0 L113.1,265.5 L114.1,265.8 L115.1,266.1 L115.9,265.3 L117.0,265.6 L117.8,265.0 L118.4,263.9 L119.7,264.3 L120.1,263.2 L120.6,262.4 L121.2,261.7 L122.6,261.7 L122.1,260.3 L123.1,259.8 L123.6,259.0 L123.4,258.0 L123.6,257.0 L123.3,256.0 L122.7,255.0 L122.1,254.2 L123.0,253.2 L121.7,252.2 L122.1,250.7 L123.1,250.2 L123.6,249.4 L122.7,248.7 L122.6,247.6 L122.6,246.6 L121.9,245.4 L122.5,244.7 L122.1,243.8 L121.4,243.0 L120.7,241.8 L121.9,240.6 L121.8,239.6 L122.0,239.1 L122.2,238.1 L121.3,237.8 L120.7,237.0 L119.9,236.3 L119.3,235.2 L118.9,233.5 L120.2,232.8 L120.9,232.5 L120.7,232.8 L120.4,232.4 L119.5,231.6 L118.9,230.6 L118.6,229.5 L118.7,228.5 L117.5,227.9 L117.1,227.3 L117.2,226.0 L116.0,226.1 L115.0,226.0 L114.3,225.3 L113.5,224.7 L112.5,224.8 L111.7,223.9 L110.7,224.0 L109.7,224.1 L108.7,223.5 L107.7,223.8 L106.9,224.9 L106.1,225.3 L104.8,224.3 L104.2,225.5 L103.2,225.6 L102.3,225.9 L101.1,225.8 L100.5,226.7 L99.4,226.9 L99.2,228.1 L99.0,229.2 L97.5,229.2 L97.4,230.3 L97.3,231.3 L97.0,232.1 L95.6,232.7 L96.4,233.7 L95.7,234.6 L95.9,235.6 Z" fill="#9a9a9a" stroke="#5e5e5e" stroke-width="1.1" stroke-opacity="0.6"/></g>
<g filter="url(#texG)"><path d="M150.8,234.8 L150.1,235.7 L149.5,236.4 L149.4,237.2 L150.8,237.4 L151.8,238.4 L150.6,239.9 L151.9,240.3 L152.4,241.0 L153.0,241.7 L152.8,243.2 L153.5,244.1 L153.0,245.2 L153.4,246.2 L154.1,246.9 L153.7,248.0 L153.8,249.0 L154.7,249.8 L155.5,250.4 L154.7,251.8 L155.9,252.2 L155.9,253.6 L155.7,254.6 L156.0,255.4 L156.1,256.3 L156.7,257.1 L157.6,257.7 L159.3,258.1 L159.0,259.5 L158.9,260.5 L159.6,261.1 L160.2,261.5 L160.6,262.5 L161.4,263.0 L162.2,263.6 L163.1,264.0 L164.2,263.3 L165.1,263.5 L166.1,264.3 L167.0,263.8 L167.8,262.7 L168.8,263.0 L169.8,263.2 L170.7,262.8 L171.7,262.6 L172.4,261.9 L173.4,261.7 L174.1,261.1 L175.0,260.6 L174.5,259.0 L174.9,258.2 L176.6,258.0 L176.1,256.9 L175.9,256.1 L176.1,255.1 L176.7,254.1 L176.6,253.1 L177.1,252.1 L176.2,251.3 L175.7,250.6 L175.9,249.5 L175.2,248.6 L174.5,247.0 L175.1,246.2 L176.4,246.0 L175.3,245.7 L174.9,244.7 L174.0,243.9 L174.1,242.5 L175.0,241.8 L175.6,241.1 L175.0,240.5 L174.0,240.4 L174.4,238.9 L173.6,238.2 L172.9,236.8 L173.5,235.5 L174.7,235.1 L175.0,234.3 L175.1,233.4 L174.3,232.9 L173.0,232.2 L173.2,230.9 L173.8,229.8 L172.7,229.2 L171.7,228.7 L172.3,227.3 L171.6,226.6 L171.2,225.7 L170.7,224.9 L169.9,224.5 L169.3,223.6 L168.5,223.1 L167.6,222.7 L166.2,223.7 L165.5,223.0 L164.7,221.9 L163.7,222.3 L162.8,222.6 L161.8,222.2 L160.8,221.9 L159.8,221.8 L158.8,221.9 L158.1,223.0 L157.3,223.5 L156.1,223.1 L155.2,223.5 L154.9,224.9 L154.1,225.4 L152.6,225.0 L152.2,226.0 L151.3,226.4 L150.9,227.4 L150.2,228.0 L149.5,228.7 L149.1,229.6 L149.8,230.4 L150.7,230.9 L149.8,232.2 L150.5,233.0 Z" fill="#9a9a9a" stroke="#5e5e5e" stroke-width="1.1" stroke-opacity="0.6"/></g>
<g filter="url(#texO)"><path d="M22.1,240.9 L21.6,241.6 L21.1,242.1 L22.0,242.2 L22.9,242.9 L23.3,243.9 L22.9,244.7 L24.0,244.8 L24.3,245.5 L24.7,246.5 L26.0,247.6 L25.3,248.8 L25.1,249.3 L25.4,250.1 L26.1,250.8 L26.4,251.9 L27.7,252.5 L28.4,253.8 L27.0,254.8 L27.4,255.7 L28.1,256.1 L28.7,256.5 L28.5,258.1 L29.3,258.8 L29.3,259.7 L30.3,260.0 L31.2,261.0 L30.9,262.2 L30.7,263.2 L31.9,263.1 L32.9,262.7 L33.3,264.3 L34.3,263.9 L35.2,264.0 L36.1,264.0 L37.1,264.4 L38.0,264.0 L39.0,263.9 L39.7,263.2 L39.8,261.8 L40.9,261.7 L41.7,261.2 L41.6,260.1 L41.6,259.1 L42.7,258.5 L42.4,257.6 L42.9,256.7 L42.8,255.8 L42.1,254.9 L42.3,253.9 L42.1,252.9 L41.4,252.0 L40.2,250.8 L40.9,249.8 L41.7,249.0 L41.2,248.3 L40.8,247.7 L40.1,246.7 L40.9,245.6 L41.1,244.6 L40.8,243.7 L39.4,243.4 L38.5,242.5 L39.6,241.1 L39.1,240.4 L38.2,240.2 L37.7,238.9 L38.2,237.6 L37.7,236.9 L38.0,235.8 L37.3,235.0 L36.8,234.1 L37.0,233.0 L36.1,232.4 L34.9,232.7 L34.0,232.8 L33.6,231.0 L32.4,231.9 L31.6,231.6 L30.6,231.4 L29.6,230.8 L28.7,231.4 L27.7,231.3 L26.9,232.0 L26.5,233.2 L25.2,232.8 L24.7,233.8 L24.2,234.6 L23.7,235.3 L22.2,235.4 L22.7,236.7 L21.9,237.3 L21.5,238.2 L22.1,239.2 Z" fill="#ec9030" stroke="#9a5014" stroke-width="1.1" stroke-opacity="0.6"/></g>
<g filter="url(#texO)"><path d="M59.7,253.7 L58.9,254.5 L58.3,255.2 L59.5,255.2 L59.7,256.2 L60.8,257.3 L60.4,258.8 L60.2,258.8 L59.8,259.2 L61.1,259.6 L61.4,261.0 L60.7,262.1 L61.2,262.9 L61.5,263.9 L61.9,264.8 L62.2,265.7 L63.5,265.8 L64.0,267.0 L64.1,268.4 L64.1,269.6 L63.7,270.2 L63.4,271.0 L64.1,271.5 L64.9,272.1 L65.1,273.4 L66.0,274.2 L66.5,275.2 L66.0,276.4 L66.5,277.3 L67.0,277.8 L67.2,278.6 L67.4,279.6 L68.5,279.9 L68.5,281.1 L69.2,281.8 L70.0,282.3 L70.9,282.7 L71.8,282.9 L72.8,282.5 L73.8,282.1 L74.7,283.4 L75.6,282.1 L76.5,282.0 L77.4,282.1 L78.6,282.4 L79.0,281.1 L80.2,281.2 L81.1,280.8 L81.3,279.7 L82.5,279.4 L82.5,278.3 L82.6,277.4 L82.5,276.6 L83.8,275.8 L82.4,274.8 L82.9,273.8 L83.6,272.8 L83.6,271.9 L82.8,271.2 L82.4,270.2 L82.6,269.1 L82.1,268.1 L82.7,267.3 L82.1,266.5 L81.6,265.7 L81.6,264.8 L81.7,263.6 L80.4,262.9 L80.3,261.5 L81.5,260.6 L81.9,259.6 L82.5,258.9 L82.9,258.1 L82.6,257.6 L81.8,257.7 L81.0,256.8 L80.3,255.6 L79.6,254.4 L80.5,253.3 L80.7,252.4 L80.4,251.5 L79.5,250.8 L79.5,249.6 L79.2,248.6 L78.7,248.0 L79.0,246.8 L77.8,246.4 L77.4,245.7 L77.1,244.9 L76.5,244.1 L75.3,244.3 L74.9,243.1 L74.1,242.5 L73.1,242.5 L72.2,242.0 L71.2,242.2 L70.2,242.6 L69.3,243.1 L68.2,241.9 L67.5,243.5 L66.6,243.2 L65.5,243.0 L64.4,243.1 L63.9,244.1 L62.8,244.2 L61.9,244.6 L61.7,245.8 L60.6,246.0 L60.3,247.1 L60.0,247.9 L59.6,248.6 L58.3,249.1 L59.5,250.0 L59.2,250.9 L58.7,252.0 Z" fill="#ec9030" stroke="#9a5014" stroke-width="1.1" stroke-opacity="0.6"/></g>
<g filter="url(#texO)"><path d="M113.8,252.9 L113.7,253.9 L114.1,254.8 L114.2,256.1 L113.7,256.9 L113.2,257.6 L114.4,258.0 L115.1,258.7 L115.1,259.9 L116.3,260.9 L116.2,262.1 L115.8,262.6 L116.2,263.1 L117.3,263.4 L117.4,264.8 L118.0,265.6 L118.6,266.6 L118.4,267.7 L118.9,268.5 L119.8,269.4 L120.4,270.5 L119.1,271.6 L120.5,272.5 L120.2,273.3 L120.1,274.3 L120.2,275.3 L121.4,275.8 L121.4,277.0 L121.3,278.0 L122.5,278.4 L122.3,279.6 L123.1,280.1 L123.9,280.5 L124.5,281.0 L124.9,282.2 L126.1,281.8 L126.8,282.3 L127.6,283.2 L128.6,282.9 L129.6,283.2 L130.5,283.0 L131.4,282.6 L132.1,281.7 L133.1,281.7 L134.0,281.4 L134.5,280.5 L135.6,280.5 L136.5,280.0 L137.2,279.4 L137.6,278.6 L138.4,277.9 L137.9,276.9 L137.5,276.1 L138.3,275.0 L137.3,274.0 L137.2,272.7 L137.7,272.0 L138.1,271.2 L137.1,270.3 L137.9,269.2 L137.8,268.3 L137.1,267.6 L137.3,266.4 L137.3,265.4 L136.7,264.3 L136.2,263.6 L137.4,262.6 L136.1,262.2 L135.8,261.0 L135.8,259.7 L136.6,258.7 L136.8,257.8 L137.3,256.9 L136.7,256.0 L135.4,255.9 L135.1,254.7 L135.4,253.4 L134.8,252.3 L134.2,251.5 L135.1,250.5 L134.6,249.7 L134.5,248.8 L134.3,247.8 L133.6,247.0 L133.5,245.9 L133.2,245.0 L132.4,244.4 L130.9,244.9 L130.4,244.2 L129.9,243.0 L128.8,243.2 L127.9,243.0 L127.1,242.5 L126.1,242.0 L125.2,242.0 L124.2,241.7 L123.3,242.6 L122.4,243.0 L121.3,242.3 L120.5,243.1 L119.9,244.2 L119.1,244.6 L117.7,244.1 L117.4,245.3 L116.3,245.4 L115.7,246.2 L114.9,246.8 L114.1,247.4 L113.6,248.2 L114.0,249.5 L114.5,250.5 L113.0,251.1 L113.4,252.1 Z" fill="#ec9030" stroke="#9a5014" stroke-width="1.1" stroke-opacity="0.6"/></g>
<g filter="url(#texO)"><path d="M170.2,249.4 L170.2,250.4 L171.5,251.1 L171.5,252.3 L170.8,253.2 L171.7,253.8 L172.4,254.6 L173.0,255.5 L173.9,256.7 L173.4,257.8 L172.6,258.5 L173.9,258.8 L174.7,259.9 L173.5,261.3 L174.0,262.0 L174.7,262.7 L175.6,263.5 L176.0,264.6 L176.0,265.7 L176.0,266.4 L176.2,267.1 L177.8,267.7 L177.1,269.1 L176.6,270.2 L177.6,270.9 L178.4,271.6 L178.1,272.8 L178.3,273.9 L179.3,274.4 L179.5,275.5 L180.8,275.5 L181.4,276.1 L182.0,276.8 L182.7,277.4 L183.9,276.5 L184.6,277.5 L185.5,278.3 L186.5,278.4 L187.4,278.0 L188.3,277.6 L189.3,277.5 L190.0,276.8 L191.2,277.1 L191.3,275.4 L192.1,275.0 L193.5,275.3 L194.2,274.5 L194.2,273.4 L194.7,272.8 L195.6,272.1 L195.0,271.2 L194.6,270.3 L194.0,269.2 L194.0,267.5 L195.2,267.1 L196.1,266.9 L194.8,266.7 L193.9,266.0 L194.6,264.4 L194.3,263.4 L194.6,262.4 L194.2,261.4 L193.9,260.6 L193.6,259.7 L193.3,258.8 L193.0,257.8 L191.5,256.5 L193.1,255.3 L194.3,255.0 L193.7,254.4 L192.5,254.1 L192.4,252.8 L192.5,251.7 L192.0,250.5 L193.1,249.8 L191.7,249.6 L191.1,248.7 L191.5,247.2 L192.0,246.2 L190.9,245.6 L191.3,244.7 L191.4,243.6 L191.2,242.6 L190.7,241.7 L189.6,241.4 L189.0,240.7 L188.3,240.2 L187.8,239.1 L186.4,240.0 L185.6,239.6 L185.1,238.1 L184.1,238.1 L183.1,238.4 L182.1,238.5 L181.1,237.8 L180.2,238.1 L179.2,238.4 L178.4,239.1 L177.8,239.9 L176.6,239.6 L175.4,239.4 L175.2,240.9 L174.6,241.6 L173.1,241.2 L172.5,242.0 L171.7,242.6 L171.5,243.7 L171.3,244.6 L170.7,245.4 L170.3,246.2 L170.7,247.2 L171.6,248.2 Z" fill="#ec9030" stroke="#9a5014" stroke-width="1.1" stroke-opacity="0.6"/></g>
<g filter="url(#texG)"><path d="M15.0,258.0 L16.2,258.7 L15.8,259.9 L15.5,260.9 L15.9,261.9 L15.5,262.9 L16.2,263.7 L16.8,264.8 L17.2,265.7 L16.3,266.7 L17.6,267.6 L17.1,269.0 L16.3,269.9 L15.7,270.6 L15.7,271.5 L15.8,272.5 L16.1,273.5 L17.1,274.5 L16.5,275.4 L16.8,276.3 L17.4,277.3 L17.6,278.7 L16.4,279.5 L16.9,280.1 L16.9,280.9 L17.2,281.9 L18.2,282.2 L18.7,283.1 L19.4,283.8 L20.5,283.6 L21.5,282.9 L22.3,283.5 L23.1,283.4 L23.9,283.1 L24.9,283.1 L25.7,282.7 L26.6,282.3 L26.8,281.4 L26.9,280.4 L26.5,278.8 L27.2,278.3 L28.1,278.2 L26.8,277.9 L26.2,276.2 L27.3,275.4 L27.7,274.9 L26.9,274.0 L27.8,272.9 L27.6,272.0 L27.3,271.2 L27.7,270.0 L27.3,269.0 L26.7,267.7 L27.2,266.5 L28.5,266.1 L27.8,265.5 L28.0,264.4 L28.5,263.3 L29.3,262.5 L28.8,261.6 L29.0,260.5 L28.0,259.5 L27.8,258.4 L29.0,257.6 L27.8,256.9 L27.3,256.3 L27.0,255.5 L26.8,254.5 L25.7,254.5 L25.2,253.4 L24.3,253.1 L23.3,253.2 L22.4,252.4 L21.4,252.8 L20.6,253.5 L19.9,254.3 L18.5,253.2 L18.3,254.7 L17.5,255.0 L16.6,255.4 L15.7,255.9 L15.7,257.0 Z" fill="#a2a2a2" stroke="#5e5e5e" stroke-width="1.1" stroke-opacity="0.6"/></g>
<g filter="url(#texG)"><path d="M24.3,268.0 L25.0,268.8 L24.6,270.3 L23.3,270.8 L23.8,271.4 L24.0,271.4 L24.3,272.6 L25.2,273.2 L25.5,274.3 L25.8,275.2 L26.3,275.5 L27.1,276.0 L27.5,277.6 L27.0,279.2 L26.3,280.0 L25.0,279.2 L25.6,279.6 L26.7,279.6 L28.0,280.4 L26.9,281.5 L26.7,282.0 L27.2,282.2 L28.0,282.9 L29.4,283.7 L29.1,285.2 L28.2,286.2 L29.0,286.6 L30.1,286.9 L29.8,288.6 L29.2,289.5 L29.6,290.3 L30.2,291.0 L31.1,291.5 L31.7,292.3 L32.2,293.0 L33.0,293.6 L34.3,293.3 L34.5,294.7 L35.2,295.5 L36.2,295.6 L37.2,295.3 L38.1,296.0 L39.1,296.2 L40.1,295.7 L41.1,296.0 L41.8,294.6 L42.7,294.8 L43.9,295.1 L44.6,294.5 L45.0,293.2 L46.3,293.5 L47.2,293.1 L48.0,292.5 L48.5,291.7 L48.6,290.5 L49.2,289.8 L49.5,288.8 L50.6,288.3 L49.4,286.9 L50.1,286.4 L50.9,285.5 L49.8,285.3 L48.5,284.6 L49.0,283.3 L49.8,282.5 L49.2,281.5 L49.5,280.5 L48.7,279.6 L48.4,278.6 L49.0,277.4 L49.9,276.5 L48.6,275.7 L48.7,275.1 L49.0,273.8 L48.5,272.9 L48.7,271.8 L48.5,270.7 L48.5,270.0 L48.0,269.4 L48.1,268.3 L46.9,267.4 L46.8,265.6 L48.5,265.4 L48.6,264.6 L47.7,263.8 L47.1,262.9 L47.3,261.8 L46.6,261.0 L46.1,260.3 L45.8,259.4 L44.6,259.5 L44.2,258.5 L43.7,257.5 L42.6,257.6 L41.6,257.6 L41.0,256.3 L40.1,255.8 L39.1,256.1 L38.1,255.9 L37.1,256.4 L36.1,256.5 L35.2,256.5 L34.2,256.4 L33.5,257.7 L32.4,257.0 L31.2,256.7 L30.4,257.2 L29.7,258.1 L28.7,258.3 L27.9,258.8 L27.5,259.9 L26.2,259.9 L26.5,261.5 L25.8,262.1 L24.9,262.5 L24.2,263.3 L25.0,264.5 L24.1,265.2 L23.4,266.1 L23.6,267.1 Z" fill="#a2a2a2" stroke="#5e5e5e" stroke-width="1.1" stroke-opacity="0.6"/></g>
<g filter="url(#texG)"><path d="M80.8,269.7 L81.7,269.7 L81.8,271.1 L82.3,272.4 L81.2,273.0 L80.9,273.5 L81.2,274.0 L81.5,274.9 L82.4,275.4 L83.0,276.3 L84.8,276.3 L84.9,278.3 L83.2,278.9 L82.9,279.7 L83.4,279.3 L83.6,280.0 L84.4,280.8 L85.2,281.7 L84.4,282.5 L85.1,283.1 L85.5,283.3 L86.1,284.6 L85.5,285.8 L86.4,286.8 L86.0,287.3 L85.6,288.4 L86.2,289.2 L86.6,290.2 L86.9,291.0 L87.2,291.9 L88.0,292.7 L87.9,293.9 L89.2,294.5 L89.6,295.1 L89.1,296.4 L89.8,297.1 L91.1,296.9 L91.8,297.4 L92.3,298.7 L93.3,299.0 L94.3,299.0 L95.3,298.6 L96.3,298.3 L97.2,298.6 L98.2,299.0 L98.9,297.8 L99.7,297.1 L101.1,298.2 L101.9,297.6 L102.7,297.1 L103.3,296.3 L104.2,295.9 L105.0,295.3 L105.4,294.4 L105.8,293.6 L105.1,292.5 L106.2,291.9 L106.7,291.0 L106.0,289.9 L105.8,288.6 L107.2,288.0 L107.1,287.2 L106.5,286.5 L106.2,285.4 L106.3,284.1 L106.9,283.7 L107.2,282.8 L107.2,281.7 L106.2,281.1 L106.9,280.3 L106.7,279.4 L106.0,278.8 L105.0,277.9 L105.3,276.5 L106.2,275.9 L105.6,275.4 L105.4,274.3 L104.5,272.7 L105.3,272.3 L106.2,271.9 L105.6,271.1 L104.6,269.9 L105.4,268.7 L106.4,268.1 L106.2,267.3 L105.5,266.7 L104.1,266.5 L103.4,265.4 L103.4,264.2 L104.0,263.0 L102.4,262.6 L102.1,262.0 L102.6,260.5 L101.7,260.1 L100.8,259.7 L99.8,259.5 L99.1,258.8 L98.1,258.7 L97.1,258.5 L96.1,258.6 L95.1,259.2 L94.3,258.3 L93.3,257.6 L92.4,258.6 L91.5,259.0 L90.3,258.1 L89.3,258.3 L88.5,258.9 L87.6,259.4 L87.0,260.3 L86.1,260.6 L85.1,260.9 L84.6,261.7 L84.5,263.0 L83.0,262.8 L82.2,263.4 L81.7,264.2 L81.5,265.2 L81.1,266.1 L80.8,267.0 L80.9,268.0 L80.4,268.9 Z" fill="#a2a2a2" stroke="#5e5e5e" stroke-width="1.1" stroke-opacity="0.6"/></g>
<g filter="url(#texG)"><path d="M135.0,269.1 L135.4,270.2 L135.5,272.0 L133.9,272.1 L133.1,272.6 L134.0,273.0 L135.3,273.1 L135.7,274.3 L135.2,275.4 L135.3,275.7 L135.4,276.4 L137.1,277.2 L136.3,278.6 L135.4,279.4 L136.1,280.1 L136.9,280.4 L136.8,281.7 L137.5,282.4 L138.7,282.5 L139.4,283.5 L139.9,284.9 L139.2,285.7 L138.8,286.1 L138.8,287.0 L139.7,287.9 L138.9,288.4 L139.1,289.5 L139.8,290.3 L140.8,290.8 L141.2,291.8 L141.4,292.9 L142.1,293.7 L141.4,294.9 L143.1,294.8 L143.5,295.4 L143.8,296.6 L144.6,297.1 L145.8,296.6 L146.6,297.3 L147.4,298.1 L148.4,298.0 L149.4,298.2 L150.3,297.5 L151.2,297.2 L152.1,297.0 L153.3,297.5 L153.7,296.0 L154.6,295.7 L156.0,296.3 L156.8,295.7 L157.4,294.9 L157.8,294.0 L158.6,293.4 L158.7,292.4 L159.2,291.7 L159.0,290.7 L158.7,289.7 L159.5,288.8 L160.3,287.9 L159.3,286.8 L159.3,285.8 L160.3,284.9 L159.7,284.0 L159.2,282.9 L159.5,281.8 L159.3,280.6 L159.7,280.0 L159.9,279.5 L159.1,279.1 L158.0,279.0 L157.8,277.4 L157.9,276.3 L158.6,275.6 L159.0,274.6 L159.4,273.9 L159.3,272.9 L159.3,272.1 L159.7,271.3 L158.1,270.6 L158.7,269.1 L159.8,268.4 L159.2,268.0 L158.0,268.1 L157.8,266.4 L158.9,265.9 L159.1,265.1 L159.2,264.3 L158.1,263.9 L157.6,263.1 L157.1,262.3 L156.9,261.2 L155.3,261.4 L155.2,260.2 L154.9,259.0 L154.1,258.4 L153.0,258.4 L152.1,257.9 L151.2,257.6 L150.1,258.0 L149.3,257.1 L148.3,257.9 L147.3,257.8 L146.4,257.3 L145.4,256.7 L144.5,257.7 L143.5,257.6 L142.4,257.3 L141.7,258.1 L140.7,258.3 L139.9,258.9 L139.2,259.6 L138.6,260.3 L137.4,260.4 L137.2,261.5 L136.6,262.2 L135.2,262.3 L134.5,263.0 L134.3,264.0 L134.4,264.9 L134.1,265.8 L134.8,266.8 L135.0,267.7 Z" fill="#a2a2a2" stroke="#5e5e5e" stroke-width="1.1" stroke-opacity="0.6"/></g>
<g filter="url(#texG)"><path d="M184.9,262.9 L185.3,263.6 L186.5,263.7 L186.2,265.4 L186.1,266.5 L186.1,267.5 L186.8,268.2 L187.5,268.9 L188.0,269.9 L188.5,271.1 L187.5,272.1 L188.7,273.2 L188.4,273.6 L188.0,274.9 L187.4,275.8 L187.8,276.4 L188.1,277.1 L188.0,278.3 L188.3,279.0 L188.4,279.6 L189.8,279.6 L190.7,281.3 L189.7,282.1 L189.1,282.7 L191.0,282.5 L191.4,284.0 L190.4,285.2 L190.5,286.2 L190.8,287.2 L191.8,287.5 L192.5,288.0 L193.5,288.1 L194.3,288.7 L195.2,288.7 L196.2,288.4 L197.0,289.3 L197.9,289.9 L198.8,289.3 L199.7,288.9 L200.8,289.4 L201.6,288.8 L202.4,288.1 L203.3,287.9 L203.6,286.8 L204.3,286.2 L205.1,285.8 L205.2,285.1 L204.5,284.5 L205.3,283.3 L205.5,282.2 L206.1,281.4 L206.9,280.8 L207.3,280.4 L206.6,280.1 L205.9,279.4 L205.9,278.0 L204.8,276.7 L205.7,275.9 L206.4,275.0 L206.3,273.9 L206.0,272.7 L207.0,272.0 L207.0,271.3 L205.8,270.9 L205.9,269.6 L204.7,268.3 L205.6,267.1 L206.5,266.7 L206.9,266.2 L205.7,265.3 L206.5,264.4 L206.7,263.4 L206.5,262.4 L207.1,261.6 L207.6,261.1 L207.6,260.6 L206.8,260.1 L206.9,258.8 L205.1,259.1 L204.8,258.2 L204.8,256.8 L203.9,256.3 L202.7,256.3 L202.2,255.4 L201.6,254.4 L200.6,254.2 L199.8,253.8 L198.6,254.4 L197.7,254.4 L196.8,254.1 L195.8,253.3 L195.0,254.7 L194.1,254.7 L192.9,253.7 L191.9,254.0 L191.0,254.5 L190.4,255.3 L189.5,255.8 L189.0,256.6 L188.2,257.1 L187.8,258.0 L187.7,259.1 L186.4,259.3 L185.4,259.9 L185.6,261.0 L185.5,262.0 Z" fill="#a2a2a2" stroke="#5e5e5e" stroke-width="1.1" stroke-opacity="0.6"/></g>
</g>
<line x1="48.0" y1="172.0" x2="21.0" y2="229.0" stroke="#b5cfdc" stroke-width="0.60" stroke-opacity="1.00"/>
<line x1="21.0" y1="229.0" x2="6.0" y2="256.0" stroke="#b5cfdc" stroke-width="0.60" stroke-opacity="1.00"/>
<line x1="17.0" y1="290.0" x2="189.0" y2="290.0" stroke="#b5cfdc" stroke-width="0.60" stroke-opacity="1.00"/>
<line x1="189.0" y1="290.0" x2="221.0" y2="225.0" stroke="#b5cfdc" stroke-width="0.60" stroke-opacity="1.00"/>
<line x1="221.0" y1="225.0" x2="230.0" y2="188.0" stroke="#b5cfdc" stroke-width="0.60" stroke-opacity="1.00"/>
<line x1="16.0" y1="283.6" x2="200.0" y2="283.6" stroke="#b5cfdc" stroke-width="0.50" stroke-opacity="0.70"/>
<line x1="29.5" y1="128.0" x2="107.0" y2="228.0" stroke="#3b8fe0" stroke-width="0.90" stroke-opacity="1.00"/>
<line x1="187.5" y1="123.5" x2="162.0" y2="228.0" stroke="#3b8fe0" stroke-width="0.90" stroke-opacity="1.00"/>
<line x1="107.0" y1="228.0" x2="162.0" y2="228.0" stroke="#2f8fd0" stroke-width="0.90" stroke-opacity="1.00"/>
<line x1="162.0" y1="228.0" x2="148.0" y2="257.0" stroke="#2f8fd0" stroke-width="0.90" stroke-opacity="1.00"/>
<line x1="148.0" y1="257.0" x2="92.0" y2="257.0" stroke="#2f8fd0" stroke-width="0.90" stroke-opacity="1.00"/>
<line x1="92.0" y1="257.0" x2="107.0" y2="228.0" stroke="#2f8fd0" stroke-width="0.90" stroke-opacity="1.00"/>
<line x1="115.0" y1="199.0" x2="170.0" y2="199.0" stroke="#4aa0b0" stroke-width="0.60" stroke-opacity="0.70"/>
<line x1="17.3" y1="290.4" x2="2.8" y2="266.3" stroke="#1a96e8" stroke-width="1.30"/>
<path d="M0.5,262.5 L4.5,265.3 L1.2,267.3 Z" fill="#1a96e8"/>
<line x1="18.5" y1="286.7" x2="34.7" y2="260.3" stroke="#1a96e8" stroke-width="1.30"/>
<path d="M37.0,256.5 L36.3,261.3 L33.0,259.3 Z" fill="#1a96e8"/>
<line x1="17.3" y1="290.4" x2="44.0" y2="290.9" stroke="#1a96e8" stroke-width="1.30"/>
<path d="M48.5,291.0 L44.0,292.8 L44.1,289.0 Z" fill="#1a96e8"/>
<text x="0.5" y="286.0" class="ab">b</text>
<text x="29.8" y="276.0" class="ab">c</text>
<text x="34.3" y="303.5" class="ab">a</text>
<text x="5" y="14.3" class="pl">a</text>
</g>
<g id="charts">
<clipPath id="clipb"><rect x="270.5" y="7.0" width="196.8" height="116.2"/></clipPath>
<g clip-path="url(#clipb)">
<path d="M270.5,83.6 271.5,80.4 272.5,74.3 273.5,69.7 274.5,64.9 275.5,61.8 276.5,62.0 277.6,60.6 278.6,59.7 279.6,59.1 280.6,58.7 281.6,58.4 282.6,56.8 283.6,55.5 284.6,54.9 285.6,53.7 286.6,55.3 287.6,52.6 288.6,52.3 289.6,52.3 290.6,49.7 291.7,51.5 292.7,50.7 293.7,49.4 294.7,43.4 295.7,47.8 296.7,43.3 297.7,44.8 298.7,44.2 299.7,44.9 300.7,44.2 301.7,44.2 302.7,41.7 303.7,41.3 304.8,39.6 305.8,40.0 306.8,32.7 307.8,39.1 308.8,37.8 309.8,34.5 310.8,35.9 311.8,35.0 312.8,35.1 313.8,35.2 314.8,31.0 315.8,33.1 316.8,34.8 317.8,22.6 318.9,32.6 319.9,31.8 320.9,33.0 321.9,31.6 322.9,31.5 323.9,30.2 324.9,32.1 325.9,29.0 326.9,28.9 327.9,29.0 328.9,29.4 329.9,28.6 330.9,27.0 331.9,30.4 333.0,26.8 334.0,26.0 335.0,27.0 336.0,26.0 337.0,26.3 338.0,23.3 339.0,25.4 340.0,24.1 341.0,25.5 342.0,25.2 343.0,25.3 344.0,24.2 345.0,25.7 346.1,22.9 347.1,25.0 348.1,23.3 349.1,24.8 350.1,23.4 351.1,25.1 352.1,20.3 353.1,24.1 354.1,22.5 355.1,22.9 356.1,24.8 357.1,24.1 358.1,23.0 359.1,23.6 360.2,24.0 361.2,20.8 362.2,22.3 363.2,21.9 364.2,22.0 365.2,21.4 366.2,15.5 367.2,20.9 368.2,22.0 369.2,22.1 370.2,21.4 371.2,21.9 372.2,19.8 373.3,18.6 374.3,21.7 375.3,20.8 376.3,21.0 377.3,17.4 378.3,21.0 379.3,20.7 380.3,19.3 381.3,18.4 382.3,18.5 383.3,19.9 384.3,19.6 385.3,18.5 386.3,19.7 387.4,20.3 388.4,19.3 389.4,19.0 390.4,19.9 391.4,20.4 392.4,20.2 393.4,18.4 394.4,18.6 395.4,18.8 396.4,18.4 397.4,18.0 398.4,18.7 399.4,17.9 400.4,19.0 401.5,18.4 402.5,19.0 403.5,17.2 404.5,18.1 405.5,18.6 406.5,18.2 407.5,18.1 408.5,17.0 409.5,19.1 410.5,18.6 411.5,17.2 412.5,15.6 413.5,16.6 414.6,17.6 415.6,16.0 416.6,15.8 417.6,16.3 418.6,17.6 419.6,16.3 420.6,16.8 421.6,16.4 422.6,17.5 423.6,14.5 424.6,15.7 425.6,16.5 426.6,15.6 427.6,18.5 428.7,16.3 429.7,15.2 430.7,16.4 431.7,11.5 432.7,16.9 433.7,17.0 434.7,14.6 435.7,17.0 436.7,16.7 437.7,16.0 438.7,16.6 439.7,13.4 440.7,15.2 441.8,15.9 442.8,15.2 443.8,13.7 444.8,16.0 445.8,17.4 446.8,16.6 447.8,16.8 448.8,13.7 449.8,15.7 450.8,17.3 451.8,15.4 452.8,16.8 453.8,15.3 454.8,12.3 455.9,15.7 L455.9,94.9 454.8,95.8 453.8,97.5 452.8,95.1 451.8,95.1 450.8,94.8 449.8,104.2 448.8,97.3 447.8,94.1 446.8,95.6 445.8,95.8 444.8,96.2 443.8,98.3 442.8,95.1 441.8,95.3 440.7,94.7 439.7,96.5 438.7,94.3 437.7,95.9 436.7,95.7 435.7,97.3 434.7,95.7 433.7,93.8 432.7,94.5 431.7,95.5 430.7,95.2 429.7,93.7 428.7,95.3 427.6,96.4 426.6,95.6 425.6,97.2 424.6,94.8 423.6,95.1 422.6,95.0 421.6,95.7 420.6,97.7 419.6,96.5 418.6,97.4 417.6,93.9 416.6,96.1 415.6,95.2 414.6,95.3 413.5,94.9 412.5,97.4 411.5,94.1 410.5,95.5 409.5,95.0 408.5,98.0 407.5,94.9 406.5,94.5 405.5,94.1 404.5,95.9 403.5,94.9 402.5,101.1 401.5,95.5 400.4,94.5 399.4,98.1 398.4,96.3 397.4,96.4 396.4,94.8 395.4,95.8 394.4,96.4 393.4,95.1 392.4,95.5 391.4,95.0 390.4,95.0 389.4,95.3 388.4,95.7 387.4,95.0 386.3,95.8 385.3,95.9 384.3,95.3 383.3,95.9 382.3,95.0 381.3,95.8 380.3,95.6 379.3,95.6 378.3,95.2 377.3,95.4 376.3,96.0 375.3,96.2 374.3,94.3 373.3,95.7 372.2,96.4 371.2,96.2 370.2,98.7 369.2,100.0 368.2,95.8 367.2,97.0 366.2,95.8 365.2,96.2 364.2,95.6 363.2,96.6 362.2,95.9 361.2,96.4 360.2,97.2 359.1,95.7 358.1,96.9 357.1,96.6 356.1,97.4 355.1,96.8 354.1,96.8 353.1,97.5 352.1,97.0 351.1,97.2 350.1,95.9 349.1,97.1 348.1,97.2 347.1,97.3 346.1,96.6 345.0,96.3 344.0,97.2 343.0,97.5 342.0,98.6 341.0,96.9 340.0,97.9 339.0,98.3 338.0,96.7 337.0,96.9 336.0,97.7 335.0,98.0 334.0,98.8 333.0,97.7 331.9,100.0 330.9,98.2 329.9,98.4 328.9,99.2 327.9,97.6 326.9,98.2 325.9,97.7 324.9,98.4 323.9,97.9 322.9,98.3 321.9,99.2 320.9,101.2 319.9,97.2 318.9,99.0 317.8,98.6 316.8,98.2 315.8,99.8 314.8,97.8 313.8,100.0 312.8,99.5 311.8,99.4 310.8,98.7 309.8,98.8 308.8,99.5 307.8,98.1 306.8,99.9 305.8,99.3 304.8,98.0 303.7,99.3 302.7,99.4 301.7,99.0 300.7,99.7 299.7,98.7 298.7,98.8 297.7,100.2 296.7,100.4 295.7,98.9 294.7,98.6 293.7,98.7 292.7,99.7 291.7,99.8 290.6,100.8 289.6,103.4 288.6,101.5 287.6,100.9 286.6,104.1 285.6,100.8 284.6,102.6 283.6,104.7 282.6,102.3 281.6,102.5 280.6,104.7 279.6,107.7 278.6,109.8 277.6,110.9 276.5,114.0 275.5,117.0 274.5,118.2 273.5,121.7 272.5,120.5 271.5,121.2 270.5,122.6Z" fill="#e0e2f5" fill-opacity="1.000"/>
<path d="M270.5,85.7 271.5,83.0 272.5,78.2 273.5,73.8 274.5,69.0 275.5,63.2 276.5,65.0 277.6,63.4 278.6,64.7 279.6,61.9 280.6,62.1 281.6,62.6 282.6,59.3 283.6,62.3 284.6,62.0 285.6,61.1 286.6,54.4 287.6,59.2 288.6,58.8 289.6,56.1 290.6,58.8 291.7,55.0 292.7,56.5 293.7,55.1 294.7,53.0 295.7,53.8 296.7,53.1 297.7,51.7 298.7,50.3 299.7,49.0 300.7,48.0 301.7,48.5 302.7,47.5 303.7,46.8 304.8,44.8 305.8,44.7 306.8,42.2 307.8,43.0 308.8,42.4 309.8,40.7 310.8,39.6 311.8,39.9 312.8,39.1 313.8,39.6 314.8,37.8 315.8,38.2 316.8,39.1 317.8,37.6 318.9,36.1 319.9,36.7 320.9,37.5 321.9,37.6 322.9,36.9 323.9,38.3 324.9,36.6 325.9,36.6 326.9,34.2 327.9,38.1 328.9,36.2 329.9,35.3 330.9,36.2 331.9,35.3 333.0,34.6 334.0,34.3 335.0,35.1 336.0,29.6 337.0,35.4 338.0,33.2 339.0,32.5 340.0,32.6 341.0,29.6 342.0,33.2 343.0,30.7 344.0,32.9 345.0,32.5 346.1,31.9 347.1,32.3 348.1,30.1 349.1,29.6 350.1,31.2 351.1,31.8 352.1,29.2 353.1,29.1 354.1,29.2 355.1,28.8 356.1,30.3 357.1,26.1 358.1,30.5 359.1,30.5 360.2,25.3 361.2,28.6 362.2,27.2 363.2,28.9 364.2,27.3 365.2,28.1 366.2,27.1 367.2,28.1 368.2,29.4 369.2,28.0 370.2,27.1 371.2,27.7 372.2,26.6 373.3,27.1 374.3,27.7 375.3,28.5 376.3,27.9 377.3,28.1 378.3,26.6 379.3,27.2 380.3,26.3 381.3,26.1 382.3,28.2 383.3,26.6 384.3,26.1 385.3,26.3 386.3,25.8 387.4,26.9 388.4,27.1 389.4,25.6 390.4,27.0 391.4,27.4 392.4,25.2 393.4,26.1 394.4,24.0 395.4,25.5 396.4,26.7 397.4,26.3 398.4,22.3 399.4,24.0 400.4,19.5 401.5,24.6 402.5,25.7 403.5,26.0 404.5,24.5 405.5,23.0 406.5,26.1 407.5,23.5 408.5,25.6 409.5,24.6 410.5,24.1 411.5,23.6 412.5,25.0 413.5,23.5 414.6,25.1 415.6,23.6 416.6,25.1 417.6,24.7 418.6,22.3 419.6,24.0 420.6,24.2 421.6,22.4 422.6,23.8 423.6,24.7 424.6,23.5 425.6,24.9 426.6,23.0 427.6,21.6 428.7,23.8 429.7,20.9 430.7,23.6 431.7,23.7 432.7,22.9 433.7,23.1 434.7,25.1 435.7,23.8 436.7,23.7 437.7,22.7 438.7,23.1 439.7,24.2 440.7,22.7 441.8,23.3 442.8,23.6 443.8,24.1 444.8,23.9 445.8,22.7 446.8,22.9 447.8,22.9 448.8,22.1 449.8,22.1 450.8,21.0 451.8,23.1 452.8,23.2 453.8,22.0 454.8,22.0 455.9,21.4 L455.9,82.3 454.8,83.9 453.8,85.4 452.8,84.0 451.8,82.9 450.8,82.6 449.8,82.6 448.8,82.9 447.8,83.7 446.8,83.3 445.8,83.5 444.8,83.6 443.8,83.7 442.8,83.1 441.8,82.5 440.7,82.8 439.7,83.8 438.7,83.9 437.7,83.5 436.7,82.6 435.7,84.1 434.7,81.8 433.7,84.3 432.7,83.5 431.7,84.1 430.7,84.1 429.7,83.7 428.7,84.4 427.6,85.4 426.6,83.4 425.6,84.4 424.6,84.0 423.6,83.8 422.6,86.1 421.6,84.5 420.6,82.8 419.6,86.4 418.6,84.5 417.6,83.4 416.6,84.1 415.6,85.9 414.6,86.6 413.5,84.7 412.5,85.9 411.5,84.1 410.5,86.9 409.5,83.8 408.5,84.2 407.5,84.5 406.5,83.5 405.5,85.1 404.5,84.7 403.5,83.9 402.5,84.8 401.5,84.3 400.4,84.6 399.4,91.6 398.4,84.1 397.4,84.3 396.4,83.8 395.4,84.5 394.4,84.1 393.4,85.2 392.4,84.5 391.4,84.9 390.4,87.8 389.4,85.0 388.4,84.0 387.4,84.4 386.3,86.5 385.3,84.7 384.3,84.6 383.3,86.9 382.3,86.4 381.3,86.0 380.3,87.4 379.3,85.7 378.3,84.7 377.3,85.6 376.3,86.3 375.3,86.0 374.3,87.0 373.3,86.7 372.2,86.8 371.2,86.3 370.2,87.9 369.2,87.2 368.2,88.0 367.2,88.7 366.2,88.7 365.2,88.2 364.2,88.9 363.2,89.0 362.2,87.7 361.2,88.7 360.2,89.3 359.1,87.7 358.1,88.6 357.1,89.9 356.1,88.3 355.1,89.3 354.1,88.5 353.1,90.9 352.1,89.2 351.1,89.8 350.1,90.1 349.1,89.8 348.1,92.9 347.1,90.8 346.1,90.0 345.0,91.6 344.0,91.5 343.0,92.3 342.0,90.4 341.0,90.8 340.0,92.8 339.0,89.7 338.0,94.7 337.0,92.2 336.0,91.2 335.0,91.6 334.0,90.9 333.0,91.3 331.9,91.7 330.9,92.2 329.9,92.0 328.9,92.2 327.9,92.5 326.9,93.0 325.9,92.8 324.9,92.5 323.9,92.4 322.9,92.0 321.9,92.5 320.9,92.6 319.9,93.2 318.9,91.2 317.8,92.7 316.8,92.9 315.8,98.2 314.8,93.1 313.8,95.5 312.8,94.5 311.8,93.0 310.8,93.2 309.8,94.8 308.8,92.8 307.8,92.4 306.8,93.2 305.8,94.0 304.8,93.8 303.7,93.1 302.7,95.7 301.7,95.2 300.7,94.0 299.7,94.3 298.7,94.7 297.7,98.3 296.7,96.2 295.7,96.6 294.7,96.2 293.7,95.5 292.7,95.8 291.7,95.5 290.6,96.4 289.6,96.5 288.6,99.4 287.6,96.8 286.6,96.3 285.6,98.2 284.6,97.3 283.6,99.3 282.6,98.5 281.6,98.7 280.6,100.8 279.6,103.2 278.6,105.3 277.6,107.1 276.5,110.2 275.5,115.5 274.5,118.4 273.5,119.0 272.5,119.6 271.5,118.7 270.5,119.4Z" fill="#cdd4ee" fill-opacity="1.000"/>
<path d="M270.5,88.5 271.5,86.1 272.5,80.3 273.5,77.4 274.5,71.6 275.5,68.5 276.5,67.8 277.6,68.7 278.6,66.2 279.6,66.6 280.6,66.4 281.6,64.1 282.6,64.6 283.6,64.3 284.6,63.1 285.6,62.2 286.6,62.9 287.6,62.1 288.6,60.7 289.6,60.1 290.6,59.0 291.7,59.5 292.7,57.2 293.7,56.3 294.7,54.9 295.7,56.0 296.7,52.3 297.7,52.0 298.7,53.4 299.7,50.9 300.7,45.0 301.7,51.0 302.7,50.9 303.7,49.6 304.8,49.3 305.8,49.0 306.8,49.9 307.8,49.2 308.8,47.6 309.8,49.0 310.8,48.0 311.8,47.5 312.8,46.8 313.8,48.3 314.8,49.0 315.8,45.3 316.8,47.4 317.8,46.6 318.9,45.8 319.9,46.1 320.9,45.0 321.9,44.6 322.9,45.1 323.9,43.9 324.9,43.7 325.9,40.7 326.9,37.4 327.9,42.1 328.9,41.4 329.9,40.8 330.9,38.6 331.9,40.5 333.0,40.2 334.0,38.9 335.0,39.5 336.0,39.5 337.0,39.6 338.0,39.2 339.0,38.2 340.0,37.7 341.0,36.9 342.0,36.5 343.0,33.7 344.0,36.7 345.0,27.9 346.1,37.6 347.1,36.9 348.1,35.3 349.1,34.5 350.1,35.1 351.1,32.8 352.1,34.8 353.1,34.7 354.1,34.3 355.1,33.5 356.1,33.8 357.1,33.7 358.1,33.9 359.1,33.2 360.2,33.2 361.2,33.0 362.2,31.9 363.2,31.5 364.2,32.8 365.2,31.7 366.2,30.0 367.2,32.4 368.2,31.8 369.2,30.6 370.2,32.3 371.2,33.2 372.2,30.8 373.3,32.4 374.3,30.8 375.3,31.7 376.3,31.7 377.3,31.1 378.3,30.1 379.3,30.5 380.3,29.4 381.3,30.6 382.3,30.2 383.3,30.3 384.3,27.9 385.3,30.5 386.3,30.0 387.4,30.6 388.4,30.5 389.4,30.3 390.4,29.9 391.4,30.7 392.4,30.7 393.4,29.7 394.4,29.9 395.4,30.6 396.4,29.0 397.4,31.8 398.4,30.5 399.4,29.5 400.4,31.0 401.5,28.1 402.5,31.5 403.5,28.8 404.5,28.5 405.5,28.0 406.5,29.7 407.5,29.3 408.5,29.8 409.5,26.6 410.5,30.1 411.5,29.5 412.5,28.6 413.5,30.0 414.6,29.4 415.6,29.0 416.6,30.0 417.6,28.3 418.6,28.8 419.6,29.0 420.6,28.9 421.6,28.0 422.6,29.2 423.6,28.5 424.6,29.1 425.6,24.1 426.6,29.0 427.6,27.9 428.7,28.5 429.7,27.8 430.7,28.7 431.7,28.6 432.7,28.8 433.7,25.5 434.7,27.5 435.7,26.7 436.7,27.2 437.7,27.8 438.7,28.1 439.7,27.6 440.7,27.9 441.8,26.8 442.8,27.1 443.8,28.2 444.8,28.1 445.8,26.7 446.8,27.4 447.8,27.7 448.8,26.7 449.8,27.8 450.8,27.7 451.8,27.8 452.8,28.7 453.8,26.8 454.8,28.2 455.9,27.4 L455.9,75.6 454.8,75.4 453.8,75.2 452.8,75.4 451.8,75.8 450.8,74.9 449.8,74.6 448.8,75.5 447.8,74.5 446.8,75.7 445.8,75.1 444.8,74.8 443.8,75.6 442.8,75.5 441.8,77.8 440.7,75.0 439.7,75.1 438.7,74.8 437.7,76.6 436.7,75.1 435.7,74.7 434.7,75.7 433.7,76.6 432.7,75.1 431.7,74.8 430.7,75.6 429.7,74.5 428.7,74.3 427.6,74.1 426.6,75.7 425.6,75.3 424.6,77.8 423.6,74.2 422.6,74.6 421.6,76.8 420.6,76.3 419.6,74.8 418.6,74.4 417.6,75.1 416.6,75.5 415.6,76.9 414.6,75.6 413.5,76.2 412.5,74.8 411.5,73.8 410.5,74.7 409.5,74.9 408.5,76.2 407.5,78.1 406.5,79.3 405.5,76.2 404.5,75.8 403.5,75.5 402.5,75.5 401.5,76.5 400.4,76.6 399.4,76.0 398.4,75.7 397.4,75.8 396.4,74.8 395.4,77.3 394.4,76.7 393.4,75.6 392.4,75.5 391.4,77.5 390.4,82.1 389.4,75.6 388.4,76.9 387.4,77.6 386.3,76.5 385.3,77.5 384.3,76.8 383.3,78.7 382.3,76.9 381.3,79.5 380.3,76.6 379.3,79.0 378.3,77.2 377.3,79.4 376.3,77.9 375.3,77.9 374.3,78.2 373.3,77.9 372.2,79.0 371.2,80.1 370.2,78.3 369.2,78.1 368.2,79.4 367.2,78.4 366.2,80.5 365.2,79.0 364.2,78.8 363.2,78.8 362.2,78.9 361.2,79.5 360.2,80.3 359.1,79.7 358.1,79.5 357.1,79.9 356.1,80.0 355.1,79.3 354.1,80.2 353.1,79.5 352.1,79.4 351.1,80.8 350.1,80.2 349.1,80.0 348.1,80.8 347.1,80.9 346.1,80.7 345.0,84.4 344.0,81.2 343.0,82.0 342.0,80.5 341.0,81.0 340.0,85.1 339.0,81.7 338.0,82.6 337.0,82.0 336.0,85.3 335.0,83.5 334.0,82.5 333.0,82.1 331.9,83.0 330.9,82.9 329.9,83.8 328.9,83.6 327.9,83.6 326.9,84.4 325.9,85.0 324.9,84.1 323.9,86.0 322.9,85.7 321.9,84.4 320.9,85.4 319.9,84.9 318.9,84.8 317.8,87.0 316.8,86.9 315.8,86.8 314.8,86.5 313.8,86.5 312.8,87.1 311.8,87.0 310.8,86.4 309.8,87.9 308.8,87.2 307.8,87.1 306.8,87.3 305.8,87.8 304.8,89.2 303.7,87.4 302.7,88.9 301.7,88.1 300.7,89.2 299.7,89.5 298.7,91.8 297.7,88.5 296.7,89.2 295.7,90.5 294.7,91.7 293.7,91.3 292.7,89.8 291.7,92.2 290.6,91.5 289.6,91.6 288.6,91.4 287.6,92.4 286.6,91.6 285.6,94.2 284.6,91.3 283.6,92.2 282.6,92.4 281.6,93.2 280.6,95.6 279.6,99.9 278.6,100.8 277.6,101.6 276.5,104.7 275.5,109.3 274.5,110.0 273.5,113.0 272.5,115.0 271.5,117.2 270.5,118.7Z" fill="#b4c7e9" fill-opacity="1.000"/>
<line x1="270.5" y1="104.0" x2="457.3" y2="104.0" class="g"/>
<line x1="270.5" y1="77.6" x2="457.3" y2="77.6" class="g"/>
<line x1="270.5" y1="51.1" x2="457.3" y2="51.1" class="g"/>
<line x1="270.5" y1="24.7" x2="457.3" y2="24.7" class="g"/>
<line x1="307.5" y1="10.0" x2="307.5" y2="123.2" class="g"/>
<line x1="344.4" y1="10.0" x2="344.4" y2="123.2" class="g"/>
<line x1="381.4" y1="10.0" x2="381.4" y2="123.2" class="g"/>
<line x1="418.3" y1="10.0" x2="418.3" y2="123.2" class="g"/>
<line x1="455.3" y1="10.0" x2="455.3" y2="123.2" class="g"/>
<polyline points="270.5,104.2 271.3,100.6 272.1,100.0 272.8,97.4 273.6,95.3 274.4,93.8 275.2,92.5 275.9,89.7 276.7,89.7 277.5,88.7 278.3,88.3 279.0,88.5 279.8,87.7 280.6,87.3 281.4,85.4 282.1,85.7 282.9,85.6 283.7,83.5 284.5,83.1 285.2,85.0 286.0,80.3 286.8,81.4 287.6,81.1 288.3,79.0 289.1,79.5 289.9,79.5 290.7,76.0 291.4,79.6 292.2,78.3 293.0,76.1 293.8,77.8 294.5,76.8 295.3,76.0 296.1,73.6 296.9,76.7 297.6,75.3 298.4,74.8 299.2,75.4 300.0,76.2 300.7,74.1 301.5,74.3 302.3,73.9 303.1,73.2 303.8,73.1 304.6,73.2 305.4,73.3 306.2,74.5 307.0,72.0 307.7,69.4 308.5,68.1 309.3,67.4 310.1,67.9 310.8,65.4 311.6,64.5 312.4,67.3 313.2,66.1 313.9,66.3 314.7,64.4 315.5,65.2 316.3,65.0 317.0,64.6 317.8,63.4 318.6,63.9 319.4,62.2 320.1,63.4 320.9,61.5 321.7,61.5 322.5,60.5 323.2,61.4 324.0,60.4 324.8,61.7 325.6,59.5 326.3,60.2 327.1,59.5 327.9,59.1 328.7,58.0 329.4,60.4 330.2,57.6 331.0,59.2 331.8,56.2 332.5,59.1 333.3,58.5 334.1,58.8 334.9,55.4 335.6,58.5 336.4,57.1 337.2,57.9 338.0,59.3 338.7,57.0 339.5,55.6 340.3,56.4 341.1,55.2 341.8,56.0 342.6,55.3 343.4,55.1 344.2,54.2 345.0,52.8 345.7,53.9 346.5,53.4 347.3,54.6 348.1,54.1 348.8,52.0 349.6,54.3 350.4,53.7 351.2,53.2 351.9,53.5 352.7,50.4 353.5,54.7 354.3,51.3 355.0,51.0 355.8,52.8 356.6,51.9 357.4,50.8 358.1,49.7 358.9,52.8 359.7,54.1 360.5,51.4 361.2,50.7 362.0,51.9 362.8,53.6 363.6,49.5 364.3,51.0 365.1,49.2 365.9,50.4 366.7,51.0 367.4,51.2 368.2,49.0 369.0,49.1 369.8,52.8 370.5,51.0 371.3,47.8 372.1,49.5 372.9,50.9 373.6,49.6 374.4,49.3 375.2,49.0 376.0,49.6 376.7,49.6 377.5,49.5 378.3,48.6 379.1,49.4 379.9,48.7 380.6,48.5 381.4,46.3 382.2,46.9 383.0,47.4 383.7,46.6 384.5,46.9 385.3,46.0 386.1,46.4 386.8,45.0 387.6,45.1 388.4,46.6 389.2,46.6 389.9,44.8 390.7,45.2 391.5,46.1 392.3,47.9 393.0,48.4 393.8,46.3 394.6,45.7 395.4,46.0 396.1,47.9 396.9,45.5 397.7,46.7 398.5,46.1 399.2,45.9 400.0,47.0 400.8,46.6 401.6,48.3 402.3,46.8 403.1,48.3 403.9,45.5 404.7,45.7 405.4,45.1 406.2,45.4 407.0,46.5 407.8,45.5 408.5,45.7 409.3,44.8 410.1,44.7 410.9,46.1 411.6,45.1 412.4,44.9 413.2,45.6 414.0,44.9 414.8,43.9 415.5,46.8 416.3,46.6 417.1,48.7 417.9,46.9 418.6,47.2 419.4,49.4 420.2,47.0 421.0,47.0 421.7,48.5 422.5,48.4 423.3,49.3 424.1,47.1 424.8,48.8 425.6,47.5 426.4,45.2 427.2,47.5 427.9,47.3 428.7,47.8 429.5,49.5 430.3,48.5 431.0,48.2 431.8,49.5 432.6,48.2 433.4,47.0 434.1,47.1 434.9,50.3 435.7,49.8 436.5,50.4 437.2,47.4 438.0,47.7 438.8,47.8 439.6,49.5 440.3,49.1 441.1,47.7 441.9,47.6 442.7,48.9 443.4,47.6 444.2,47.0 445.0,47.5 445.8,48.8 446.5,49.9 447.3,47.6 448.1,46.9 448.9,47.1 449.7,46.9 450.4,46.9 451.2,45.4 452.0,46.3 452.8,45.7 453.5,46.8 454.3,46.3 455.1,45.6 455.9,47.0" fill="none" stroke="#2468b0" stroke-width="1.30" stroke-linejoin="round"/>
<polyline points="270.5,102.4 271.3,101.9 272.1,99.4 272.8,97.7 273.6,95.1 274.4,93.7 275.2,94.7 275.9,90.2 276.7,91.1 277.5,90.7 278.3,87.8 279.0,87.9 279.8,88.5 280.6,89.3 281.4,87.0 282.1,85.7 282.9,85.3 283.7,85.8 284.5,84.9 285.2,85.1 286.0,83.1 286.8,81.7 287.6,81.0 288.3,82.8 289.1,81.4 289.9,80.5 290.7,81.5 291.4,80.9 292.2,78.1 293.0,80.3 293.8,79.3 294.5,80.6 295.3,79.9 296.1,81.4 296.9,79.2 297.6,77.1 298.4,75.5 299.2,76.0 300.0,76.2 300.7,77.0 301.5,77.0 302.3,76.4 303.1,75.6 303.8,76.4 304.6,74.3 305.4,75.9 306.2,76.0 307.0,75.2 307.7,75.9 308.5,75.6 309.3,73.2 310.1,74.5 310.8,74.0 311.6,72.9 312.4,72.1 313.2,73.4 313.9,71.3 314.7,71.9 315.5,72.2 316.3,71.7 317.0,73.8 317.8,73.1 318.6,72.3 319.4,71.1 320.1,71.8 320.9,71.7 321.7,70.2 322.5,69.8 323.2,70.4 324.0,69.9 324.8,71.6 325.6,71.5 326.3,70.4 327.1,70.9 327.9,71.1 328.7,68.5 329.4,70.1 330.2,70.8 331.0,69.2 331.8,67.7 332.5,69.2 333.3,67.6 334.1,69.3 334.9,69.6 335.6,69.8 336.4,69.3 337.2,67.3 338.0,70.8 338.7,67.8 339.5,70.3 340.3,69.4 341.1,68.2 341.8,68.3 342.6,68.2 343.4,70.1 344.2,67.7 345.0,69.3 345.7,64.8 346.5,67.4 347.3,66.6 348.1,68.1 348.8,67.3 349.6,68.0 350.4,65.1 351.2,66.4 351.9,65.3 352.7,66.7 353.5,66.8 354.3,64.7 355.0,67.1 355.8,68.0 356.6,65.4 357.4,67.2 358.1,65.7 358.9,63.9 359.7,65.6 360.5,63.8 361.2,64.9 362.0,62.9 362.8,62.9 363.6,64.6 364.3,64.0 365.1,64.4 365.9,62.9 366.7,62.0 367.4,64.0 368.2,61.4 369.0,63.8 369.8,63.2 370.5,63.7 371.3,59.2 372.1,61.4 372.9,61.6 373.6,62.2 374.4,60.0 375.2,63.1 376.0,60.9 376.7,58.4 377.5,61.3 378.3,60.5 379.1,60.0 379.9,61.9 380.6,61.2 381.4,60.0 382.2,61.4 383.0,61.2 383.7,62.4 384.5,61.5 385.3,61.9 386.1,60.4 386.8,61.7 387.6,62.6 388.4,64.7 389.2,61.1 389.9,61.1 390.7,62.7 391.5,64.0 392.3,63.2 393.0,60.8 393.8,63.0 394.6,62.2 395.4,62.0 396.1,61.4 396.9,63.1 397.7,63.0 398.5,63.5 399.2,61.1 400.0,61.7 400.8,62.4 401.6,63.2 402.3,62.1 403.1,60.2 403.9,61.6 404.7,60.3 405.4,60.8 406.2,60.5 407.0,60.2 407.8,60.2 408.5,61.6 409.3,61.1 410.1,57.5 410.9,61.0 411.6,60.6 412.4,59.3 413.2,60.5 414.0,61.3 414.8,61.9 415.5,59.8 416.3,59.0 417.1,58.6 417.9,59.1 418.6,57.7 419.4,59.5 420.2,57.5 421.0,58.7 421.7,58.0 422.5,57.3 423.3,57.3 424.1,59.4 424.8,57.1 425.6,59.3 426.4,59.8 427.2,58.6 427.9,59.8 428.7,57.8 429.5,57.8 430.3,58.3 431.0,57.4 431.8,58.1 432.6,58.0 433.4,59.4 434.1,57.7 434.9,58.6 435.7,57.7 436.5,56.7 437.2,56.3 438.0,57.9 438.8,57.9 439.6,56.5 440.3,55.2 441.1,55.1 441.9,54.6 442.7,53.5 443.4,53.8 444.2,54.1 445.0,55.0 445.8,55.0 446.5,54.4 447.3,53.7 448.1,54.2 448.9,54.8 449.7,55.1 450.4,54.4 451.2,55.0 452.0,55.0 452.8,55.3 453.5,56.2 454.3,56.9 455.1,55.2 455.9,55.2" fill="none" stroke="#3b55d0" stroke-width="1.30" stroke-linejoin="round"/>
<polyline points="270.5,104.2 271.3,101.1 272.1,101.1 272.8,97.9 273.6,97.7 274.4,95.2 275.2,93.9 275.9,91.1 276.7,91.0 277.5,90.2 278.3,88.1 279.0,88.1 279.8,87.2 280.6,85.9 281.4,85.7 282.1,85.1 282.9,83.7 283.7,84.4 284.5,83.5 285.2,81.9 286.0,81.9 286.8,82.9 287.6,83.4 288.3,81.8 289.1,80.9 289.9,78.7 290.7,80.2 291.4,80.0 292.2,78.6 293.0,79.4 293.8,78.6 294.5,76.5 295.3,76.4 296.1,77.0 296.9,76.7 297.6,78.4 298.4,76.7 299.2,77.3 300.0,76.9 300.7,77.6 301.5,76.8 302.3,76.4 303.1,75.3 303.8,73.6 304.6,74.2 305.4,76.1 306.2,74.9 307.0,74.9 307.7,74.0 308.5,71.6 309.3,71.3 310.1,72.1 310.8,70.9 311.6,72.2 312.4,72.9 313.2,72.7 313.9,72.4 314.7,69.6 315.5,72.8 316.3,69.9 317.0,69.6 317.8,70.6 318.6,70.3 319.4,70.7 320.1,70.3 320.9,68.7 321.7,69.0 322.5,67.4 323.2,67.6 324.0,68.0 324.8,67.6 325.6,67.5 326.3,66.8 327.1,68.1 327.9,66.3 328.7,65.8 329.4,66.9 330.2,63.5 331.0,66.7 331.8,66.6 332.5,64.9 333.3,66.8 334.1,65.4 334.9,65.7 335.6,65.0 336.4,63.9 337.2,62.8 338.0,61.9 338.7,62.4 339.5,61.4 340.3,62.0 341.1,62.7 341.8,60.6 342.6,62.5 343.4,62.5 344.2,59.6 345.0,60.4 345.7,61.0 346.5,60.0 347.3,59.9 348.1,61.8 348.8,59.9 349.6,60.5 350.4,58.8 351.2,59.4 351.9,57.1 352.7,57.6 353.5,58.3 354.3,56.9 355.0,58.0 355.8,56.0 356.6,55.0 357.4,54.5 358.1,56.4 358.9,54.4 359.7,53.2 360.5,52.9 361.2,51.7 362.0,53.9 362.8,51.8 363.6,52.3 364.3,50.4 365.1,49.9 365.9,49.4 366.7,50.9 367.4,49.5 368.2,51.1 369.0,51.6 369.8,50.1 370.5,51.0 371.3,52.3 372.1,50.9 372.9,50.2 373.6,48.3 374.4,48.8 375.2,49.3 376.0,51.6 376.7,49.9 377.5,49.4 378.3,49.3 379.1,49.3 379.9,49.6 380.6,47.5 381.4,47.8 382.2,49.3 383.0,50.0 383.7,46.9 384.5,49.6 385.3,47.5 386.1,46.1 386.8,49.4 387.6,48.4 388.4,49.3 389.2,48.0 389.9,48.3 390.7,46.7 391.5,48.5 392.3,48.3 393.0,47.0 393.8,48.5 394.6,48.8 395.4,45.7 396.1,48.9 396.9,48.6 397.7,48.5 398.5,49.9 399.2,51.1 400.0,48.0 400.8,50.4 401.6,50.4 402.3,50.2 403.1,50.8 403.9,50.5 404.7,49.1 405.4,46.7 406.2,48.0 407.0,48.3 407.8,50.8 408.5,49.2 409.3,50.5 410.1,48.2 410.9,49.1 411.6,49.2 412.4,49.0 413.2,49.1 414.0,50.3 414.8,48.4 415.5,50.9 416.3,50.9 417.1,49.5 417.9,49.8 418.6,49.1 419.4,48.3 420.2,49.1 421.0,48.8 421.7,49.0 422.5,48.3 423.3,51.6 424.1,49.2 424.8,50.2 425.6,50.2 426.4,49.1 427.2,49.4 427.9,48.1 428.7,47.2 429.5,50.6 430.3,48.2 431.0,46.1 431.8,46.7 432.6,45.8 433.4,47.4 434.1,48.9 434.9,48.4 435.7,46.8 436.5,46.7 437.2,48.4 438.0,48.3 438.8,47.4 439.6,49.4 440.3,47.9 441.1,45.4 441.9,44.4 442.7,46.7 443.4,44.4 444.2,47.1 445.0,47.4 445.8,48.4 446.5,44.8 447.3,46.4 448.1,43.7 448.9,45.7 449.7,45.7 450.4,47.6 451.2,43.9 452.0,46.2 452.8,45.5 453.5,47.4 454.3,44.0 455.1,43.8 455.9,45.5" fill="none" stroke="#14b4f0" stroke-width="1.30" stroke-linejoin="round"/>
</g>
<line x1="270.5" y1="10.0" x2="270.5" y2="123.7" class="sp"/>
<line x1="270.0" y1="123.2" x2="457.3" y2="123.2" class="sp"/>
<line x1="268.5" y1="104.0" x2="270.5" y2="104.0" class="tk"/>
<text x="266.9" y="107.1" class="tl" text-anchor="end">1.4</text>
<line x1="268.5" y1="77.6" x2="270.5" y2="77.6" class="tk"/>
<text x="266.9" y="80.7" class="tl" text-anchor="end">1.6</text>
<line x1="268.5" y1="51.1" x2="270.5" y2="51.1" class="tk"/>
<text x="266.9" y="54.2" class="tl" text-anchor="end">1.8</text>
<line x1="268.5" y1="24.7" x2="270.5" y2="24.7" class="tk"/>
<text x="266.9" y="27.8" class="tl" text-anchor="end">2.0</text>
<line x1="270.5" y1="123.2" x2="270.5" y2="125.2" class="tk"/>
<text x="270.5" y="132.9" class="tl" text-anchor="middle">0</text>
<line x1="307.5" y1="123.2" x2="307.5" y2="125.2" class="tk"/>
<text x="307.5" y="132.9" class="tl" text-anchor="middle">2</text>
<line x1="344.4" y1="123.2" x2="344.4" y2="125.2" class="tk"/>
<text x="344.4" y="132.9" class="tl" text-anchor="middle">4</text>
<line x1="381.4" y1="123.2" x2="381.4" y2="125.2" class="tk"/>
<text x="381.4" y="132.9" class="tl" text-anchor="middle">6</text>
<line x1="418.3" y1="123.2" x2="418.3" y2="125.2" class="tk"/>
<text x="418.3" y="132.9" class="tl" text-anchor="middle">8</text>
<line x1="455.3" y1="123.2" x2="455.3" y2="125.2" class="tk"/>
<text x="455.3" y="132.9" class="tl" text-anchor="middle">10</text>
<text x="363.7" y="142.8" class="al" text-anchor="middle">Time (<tspan font-style="italic">μ</tspan>s)</text>
<text transform="translate(248.4,66.6) rotate(-90)" class="al" text-anchor="middle">RMSD (Å)</text>
<text x="239.3" y="14.3" class="pl">b</text>
<text x="277.6" y="20.5" class="tt" fill="#1a9ffa">C36m</text>
<text x="277.0" y="117.0" class="rm" textLength="93.5" lengthAdjust="spacing">⟨<tspan font-style="italic">RMSD</tspan>⟩ = 1.81 ± 0.02 Å</text>
<rect x="397.7" y="87.4" width="55.9" height="32.3" rx="1.5" fill="#fff" fill-opacity="0.8" stroke="#dadada" stroke-width="0.7"/>
<line x1="400.0" y1="93.4" x2="414.5" y2="93.4" stroke="#2468b0" stroke-width="1.3"/>
<text x="419.5" y="96.1" class="lg">Replica 1</text>
<line x1="400.0" y1="103.4" x2="414.5" y2="103.4" stroke="#3b55d0" stroke-width="1.3"/>
<text x="419.5" y="106.1" class="lg">Replica 2</text>
<line x1="400.0" y1="113.4" x2="414.5" y2="113.4" stroke="#14b4f0" stroke-width="1.3"/>
<text x="419.5" y="116.1" class="lg">Replica 3</text>
<clipPath id="clipc"><rect x="495.5" y="7.0" width="196.5" height="116.2"/></clipPath>
<g clip-path="url(#clipc)">
<path d="M495.5,79.1 496.5,72.7 497.5,65.0 498.5,62.4 499.5,60.4 500.5,55.7 501.5,56.6 502.5,58.2 503.6,57.7 504.6,56.6 505.6,54.2 506.6,55.0 507.6,56.1 508.6,53.4 509.6,50.1 510.6,53.9 511.6,53.7 512.6,52.3 513.6,51.7 514.6,52.4 515.6,51.5 516.6,51.5 517.6,52.0 518.6,52.2 519.7,50.0 520.7,51.1 521.7,50.7 522.7,49.6 523.7,49.6 524.7,49.6 525.7,51.8 526.7,48.6 527.7,50.9 528.7,48.8 529.7,49.7 530.7,49.1 531.7,49.5 532.7,50.9 533.7,48.7 534.8,46.3 535.8,50.5 536.8,48.6 537.8,47.2 538.8,51.7 539.8,50.3 540.8,50.0 541.8,49.8 542.8,46.7 543.8,48.0 544.8,50.2 545.8,50.4 546.8,51.5 547.8,48.5 548.8,49.0 549.8,49.2 550.9,47.0 551.9,49.0 552.9,43.1 553.9,48.2 554.9,50.6 555.9,50.2 556.9,51.0 557.9,51.2 558.9,49.3 559.9,48.7 560.9,47.7 561.9,46.9 562.9,49.7 563.9,50.4 564.9,48.5 566.0,49.0 567.0,45.4 568.0,48.7 569.0,47.1 570.0,51.0 571.0,48.5 572.0,49.1 573.0,46.4 574.0,49.5 575.0,46.3 576.0,47.7 577.0,47.5 578.0,50.2 579.0,49.8 580.0,48.3 581.1,43.6 582.1,49.8 583.1,50.8 584.1,46.5 585.1,48.2 586.1,48.7 587.1,48.9 588.1,49.1 589.1,49.5 590.1,48.6 591.1,49.6 592.1,48.0 593.1,49.6 594.1,48.6 595.1,48.0 596.1,49.3 597.2,48.6 598.2,49.5 599.2,51.2 600.2,48.7 601.2,50.4 602.2,48.2 603.2,46.6 604.2,50.9 605.2,48.9 606.2,48.8 607.2,48.8 608.2,50.3 609.2,48.3 610.2,50.5 611.2,46.7 612.3,49.2 613.3,49.5 614.3,48.4 615.3,49.7 616.3,48.6 617.3,48.5 618.3,49.3 619.3,47.7 620.3,48.8 621.3,49.7 622.3,48.9 623.3,50.9 624.3,47.1 625.3,47.9 626.3,49.3 627.3,50.4 628.4,49.2 629.4,49.5 630.4,48.6 631.4,49.2 632.4,48.5 633.4,49.6 634.4,47.8 635.4,51.3 636.4,50.1 637.4,48.3 638.4,50.6 639.4,48.5 640.4,48.0 641.4,47.7 642.4,49.2 643.5,46.4 644.5,48.7 645.5,49.3 646.5,49.5 647.5,47.2 648.5,49.1 649.5,50.1 650.5,48.3 651.5,48.2 652.5,48.0 653.5,47.5 654.5,50.0 655.5,48.2 656.5,48.1 657.5,49.2 658.5,48.4 659.6,51.9 660.6,49.7 661.6,47.5 662.6,50.8 663.6,49.7 664.6,48.9 665.6,48.6 666.6,46.1 667.6,49.0 668.6,45.9 669.6,48.4 670.6,50.4 671.6,49.2 672.6,43.9 673.6,43.2 674.7,48.2 675.7,51.6 676.7,49.3 677.7,48.7 678.7,46.0 679.7,49.2 L679.7,91.1 678.7,85.4 677.7,84.9 676.7,84.2 675.7,86.8 674.7,87.3 673.6,85.4 672.6,83.9 671.6,85.6 670.6,84.4 669.6,84.9 668.6,89.5 667.6,85.5 666.6,86.7 665.6,84.9 664.6,85.8 663.6,85.7 662.6,85.5 661.6,85.1 660.6,84.2 659.6,86.9 658.5,89.0 657.5,86.1 656.5,85.5 655.5,84.3 654.5,85.6 653.5,85.0 652.5,85.0 651.5,85.0 650.5,86.8 649.5,86.2 648.5,85.2 647.5,84.1 646.5,86.1 645.5,85.8 644.5,86.9 643.5,85.5 642.4,85.4 641.4,88.7 640.4,84.9 639.4,88.5 638.4,84.8 637.4,84.4 636.4,85.3 635.4,84.8 634.4,86.6 633.4,85.2 632.4,86.3 631.4,85.3 630.4,87.3 629.4,84.9 628.4,83.9 627.3,86.1 626.3,85.7 625.3,91.6 624.3,85.2 623.3,85.3 622.3,87.3 621.3,84.5 620.3,85.1 619.3,86.1 618.3,86.0 617.3,85.9 616.3,87.7 615.3,87.8 614.3,84.6 613.3,87.4 612.3,88.5 611.2,86.5 610.2,84.6 609.2,85.0 608.2,87.2 607.2,85.3 606.2,84.7 605.2,84.4 604.2,85.8 603.2,85.5 602.2,83.0 601.2,85.7 600.2,87.7 599.2,88.0 598.2,86.0 597.2,84.9 596.1,86.6 595.1,84.8 594.1,84.5 593.1,85.8 592.1,85.3 591.1,85.7 590.1,86.6 589.1,84.3 588.1,86.2 587.1,85.1 586.1,84.1 585.1,84.3 584.1,87.3 583.1,84.6 582.1,84.6 581.1,85.9 580.0,85.0 579.0,85.5 578.0,86.6 577.0,88.3 576.0,89.5 575.0,85.3 574.0,85.7 573.0,83.8 572.0,84.8 571.0,85.2 570.0,85.2 569.0,86.0 568.0,85.2 567.0,86.1 566.0,84.9 564.9,87.1 563.9,87.1 562.9,86.5 561.9,88.4 560.9,87.1 559.9,88.3 558.9,88.4 557.9,86.6 556.9,87.8 555.9,87.4 554.9,87.0 553.9,87.1 552.9,88.3 551.9,88.6 550.9,88.0 549.8,88.2 548.8,86.4 547.8,88.6 546.8,89.3 545.8,88.1 544.8,89.3 543.8,90.6 542.8,90.3 541.8,92.4 540.8,89.0 539.8,91.3 538.8,92.9 537.8,90.4 536.8,91.7 535.8,90.3 534.8,94.2 533.7,92.3 532.7,92.0 531.7,92.4 530.7,93.6 529.7,95.0 528.7,93.7 527.7,95.6 526.7,94.9 525.7,93.6 524.7,94.9 523.7,95.6 522.7,94.9 521.7,95.0 520.7,98.7 519.7,98.5 518.6,96.1 517.6,98.8 516.6,97.3 515.6,97.4 514.6,99.9 513.6,103.8 512.6,100.1 511.6,101.7 510.6,103.8 509.6,101.3 508.6,102.9 507.6,103.5 506.6,105.4 505.6,105.3 504.6,109.4 503.6,106.1 502.5,106.1 501.5,107.3 500.5,106.9 499.5,108.9 498.5,112.7 497.5,111.0 496.5,109.4 495.5,110.6Z" fill="#fddcc6" fill-opacity="1.000"/>
<path d="M495.5,82.3 496.5,77.5 497.5,72.0 498.5,68.9 499.5,68.1 500.5,67.2 501.5,67.1 502.5,64.5 503.6,65.0 504.6,64.4 505.6,64.4 506.6,64.4 507.6,64.2 508.6,63.3 509.6,60.9 510.6,63.1 511.6,62.5 512.6,61.8 513.6,62.4 514.6,61.9 515.6,61.9 516.6,60.7 517.6,60.8 518.6,60.8 519.7,61.0 520.7,58.4 521.7,59.4 522.7,59.7 523.7,59.7 524.7,58.3 525.7,59.6 526.7,59.1 527.7,58.8 528.7,59.2 529.7,58.6 530.7,58.5 531.7,57.9 532.7,58.4 533.7,58.1 534.8,57.1 535.8,57.8 536.8,58.1 537.8,55.6 538.8,57.0 539.8,56.9 540.8,57.7 541.8,56.8 542.8,56.8 543.8,56.4 544.8,55.3 545.8,56.4 546.8,55.9 547.8,55.8 548.8,56.2 549.8,55.0 550.9,53.5 551.9,55.8 552.9,55.9 553.9,55.4 554.9,52.4 555.9,54.9 556.9,55.4 557.9,55.6 558.9,55.9 559.9,55.8 560.9,55.7 561.9,55.0 562.9,55.7 563.9,55.8 564.9,54.9 566.0,55.7 567.0,55.7 568.0,55.5 569.0,55.0 570.0,54.6 571.0,54.6 572.0,55.2 573.0,55.2 574.0,55.4 575.0,54.9 576.0,54.9 577.0,54.7 578.0,54.5 579.0,55.4 580.0,55.3 581.1,55.5 582.1,54.6 583.1,55.5 584.1,54.8 585.1,54.5 586.1,55.0 587.1,54.8 588.1,55.9 589.1,55.2 590.1,55.7 591.1,54.0 592.1,55.1 593.1,55.4 594.1,54.7 595.1,54.9 596.1,55.3 597.2,54.2 598.2,55.6 599.2,54.7 600.2,53.6 601.2,55.3 602.2,54.5 603.2,55.2 604.2,54.7 605.2,54.7 606.2,55.1 607.2,55.6 608.2,54.5 609.2,54.6 610.2,55.1 611.2,54.4 612.3,55.1 613.3,55.7 614.3,54.8 615.3,54.9 616.3,55.0 617.3,51.9 618.3,54.6 619.3,54.5 620.3,54.9 621.3,55.1 622.3,55.9 623.3,55.0 624.3,55.2 625.3,55.3 626.3,54.4 627.3,55.1 628.4,54.8 629.4,54.5 630.4,54.9 631.4,55.6 632.4,55.3 633.4,54.6 634.4,55.1 635.4,55.1 636.4,54.9 637.4,54.8 638.4,53.5 639.4,54.7 640.4,55.3 641.4,54.7 642.4,55.0 643.5,54.9 644.5,55.8 645.5,55.0 646.5,55.3 647.5,54.4 648.5,54.3 649.5,54.3 650.5,54.5 651.5,55.1 652.5,54.3 653.5,55.0 654.5,54.7 655.5,55.3 656.5,54.5 657.5,54.7 658.5,54.2 659.6,54.9 660.6,54.0 661.6,53.8 662.6,54.3 663.6,54.9 664.6,55.3 665.6,54.9 666.6,54.2 667.6,54.9 668.6,53.8 669.6,53.4 670.6,54.5 671.6,54.9 672.6,54.5 673.6,53.4 674.7,54.6 675.7,54.9 676.7,54.7 677.7,53.7 678.7,54.5 679.7,53.4 L679.7,78.2 678.7,78.6 677.7,79.0 676.7,78.6 675.7,78.0 674.7,78.6 673.6,78.4 672.6,78.9 671.6,78.8 670.6,77.8 669.6,78.2 668.6,77.8 667.6,79.3 666.6,78.5 665.6,78.2 664.6,78.1 663.6,79.0 662.6,78.4 661.6,78.2 660.6,77.9 659.6,77.9 658.5,77.9 657.5,78.4 656.5,78.5 655.5,80.6 654.5,78.2 653.5,78.3 652.5,78.3 651.5,78.5 650.5,77.8 649.5,79.0 648.5,78.1 647.5,79.1 646.5,79.0 645.5,78.2 644.5,78.7 643.5,78.4 642.4,78.3 641.4,78.0 640.4,80.9 639.4,77.6 638.4,78.3 637.4,78.1 636.4,81.4 635.4,78.1 634.4,78.7 633.4,78.0 632.4,78.4 631.4,78.4 630.4,79.0 629.4,77.9 628.4,78.9 627.3,79.4 626.3,78.1 625.3,78.7 624.3,78.7 623.3,78.6 622.3,78.6 621.3,78.4 620.3,81.1 619.3,77.8 618.3,79.0 617.3,79.1 616.3,78.7 615.3,78.2 614.3,78.6 613.3,79.0 612.3,78.4 611.2,77.9 610.2,79.1 609.2,78.2 608.2,79.1 607.2,78.7 606.2,78.9 605.2,79.2 604.2,80.3 603.2,82.8 602.2,79.0 601.2,78.8 600.2,78.7 599.2,81.1 598.2,78.6 597.2,78.2 596.1,79.4 595.1,78.9 594.1,78.9 593.1,79.2 592.1,80.8 591.1,79.1 590.1,78.4 589.1,78.4 588.1,78.5 587.1,79.0 586.1,79.0 585.1,78.9 584.1,78.7 583.1,80.4 582.1,78.9 581.1,79.1 580.0,79.1 579.0,79.7 578.0,79.5 577.0,78.7 576.0,79.3 575.0,79.1 574.0,78.3 573.0,78.9 572.0,79.5 571.0,79.5 570.0,79.1 569.0,79.0 568.0,80.1 567.0,80.8 566.0,79.7 564.9,80.4 563.9,79.4 562.9,80.0 561.9,80.0 560.9,79.5 559.9,80.3 558.9,80.6 557.9,81.1 556.9,80.5 555.9,80.4 554.9,80.4 553.9,83.1 552.9,82.7 551.9,81.1 550.9,80.8 549.8,85.2 548.8,81.4 547.8,81.1 546.8,81.8 545.8,81.7 544.8,82.7 543.8,81.9 542.8,84.6 541.8,83.9 540.8,83.1 539.8,85.6 538.8,83.3 537.8,83.7 536.8,84.7 535.8,85.3 534.8,84.4 533.7,84.8 532.7,84.9 531.7,86.3 530.7,86.3 529.7,85.8 528.7,85.8 527.7,85.8 526.7,85.8 525.7,88.4 524.7,87.4 523.7,87.1 522.7,86.8 521.7,87.0 520.7,88.4 519.7,87.9 518.6,89.7 517.6,88.5 516.6,88.5 515.6,88.9 514.6,88.9 513.6,91.6 512.6,90.5 511.6,91.9 510.6,91.6 509.6,91.3 508.6,91.3 507.6,91.0 506.6,91.3 505.6,92.2 504.6,93.0 503.6,92.8 502.5,93.5 501.5,94.7 500.5,94.6 499.5,94.4 498.5,95.4 497.5,97.2 496.5,100.6 495.5,101.0Z" fill="#fbc1a2" fill-opacity="1.000"/>
<line x1="495.5" y1="104.0" x2="682.0" y2="104.0" class="g"/>
<line x1="495.5" y1="77.6" x2="682.0" y2="77.6" class="g"/>
<line x1="495.5" y1="51.1" x2="682.0" y2="51.1" class="g"/>
<line x1="495.5" y1="24.7" x2="682.0" y2="24.7" class="g"/>
<line x1="547.9" y1="10.0" x2="547.9" y2="123.2" class="g"/>
<line x1="600.3" y1="10.0" x2="600.3" y2="123.2" class="g"/>
<line x1="652.7" y1="10.0" x2="652.7" y2="123.2" class="g"/>
<polyline points="495.5,90.3 496.3,88.4 497.0,84.0 497.8,80.9 498.6,79.7 499.4,79.0 500.1,77.2 500.9,75.8 501.7,75.3 502.5,73.3 503.2,73.8 504.0,73.0 504.8,71.1 505.6,72.1 506.3,72.1 507.1,72.1 507.9,71.5 508.7,70.5 509.4,71.9 510.2,69.4 511.0,68.9 511.8,69.3 512.5,71.2 513.3,72.5 514.1,71.2 514.8,70.8 515.6,70.0 516.4,70.8 517.2,70.6 517.9,68.6 518.7,70.6 519.5,69.1 520.3,68.7 521.0,70.7 521.8,69.4 522.6,70.2 523.4,70.4 524.1,71.5 524.9,71.1 525.7,69.2 526.5,70.6 527.2,69.5 528.0,70.8 528.8,70.2 529.6,70.4 530.3,71.6 531.1,71.7 531.9,69.2 532.6,69.6 533.4,70.8 534.2,70.0 535.0,69.5 535.7,68.1 536.5,70.7 537.3,69.4 538.1,67.9 538.8,70.0 539.6,68.1 540.4,71.7 541.2,67.4 541.9,69.2 542.7,70.7 543.5,67.8 544.3,67.6 545.0,67.4 545.8,67.4 546.6,68.7 547.4,69.5 548.1,69.1 548.9,68.9 549.7,68.3 550.4,69.9 551.2,69.7 552.0,68.9 552.8,69.4 553.5,67.6 554.3,67.8 555.1,71.0 555.9,69.8 556.6,70.4 557.4,70.3 558.2,68.3 559.0,69.7 559.7,69.4 560.5,69.2 561.3,68.2 562.1,69.2 562.8,69.1 563.6,67.9 564.4,68.5 565.2,68.6 565.9,67.7 566.7,69.9 567.5,69.0 568.2,69.9 569.0,68.1 569.8,68.4 570.6,70.0 571.3,67.7 572.1,69.9 572.9,67.4 573.7,68.7 574.4,69.7 575.2,70.3 576.0,70.2 576.8,69.6 577.5,70.4 578.3,68.7 579.1,70.6 579.9,69.1 580.6,68.7 581.4,70.1 582.2,68.3 582.9,69.7 583.7,71.3 584.5,69.4 585.3,68.5 586.0,67.4 586.8,68.7 587.6,66.5 588.4,66.6 589.1,66.8 589.9,66.5 590.7,68.1 591.5,69.2 592.2,68.2 593.0,68.1 593.8,69.1 594.6,69.5 595.3,71.0 596.1,68.7 596.9,69.1 597.7,70.8 598.4,69.1 599.2,68.3 600.0,69.3 600.7,67.9 601.5,67.8 602.3,70.3 603.1,69.0 603.8,68.1 604.6,67.7 605.4,67.4 606.2,71.0 606.9,69.0 607.7,67.8 608.5,67.6 609.3,67.0 610.0,69.8 610.8,68.6 611.6,69.6 612.4,67.9 613.1,70.1 613.9,67.3 614.7,67.6 615.5,68.2 616.2,71.2 617.0,69.6 617.8,67.9 618.5,70.3 619.3,69.0 620.1,69.0 620.9,67.8 621.6,68.4 622.4,68.4 623.2,69.5 624.0,69.0 624.7,68.7 625.5,67.7 626.3,68.4 627.1,67.1 627.8,70.0 628.6,66.8 629.4,68.0 630.2,66.7 630.9,67.7 631.7,66.9 632.5,66.3 633.3,68.3 634.0,67.3 634.8,67.7 635.6,67.5 636.3,69.6 637.1,68.3 637.9,68.3 638.7,68.9 639.4,68.8 640.2,70.2 641.0,67.6 641.8,68.0 642.5,66.2 643.3,69.1 644.1,69.4 644.9,67.7 645.6,69.8 646.4,67.3 647.2,68.8 648.0,68.5 648.7,67.9 649.5,67.8 650.3,65.9 651.1,67.5 651.8,69.5 652.6,67.1 653.4,69.5 654.1,67.9 654.9,69.1 655.7,68.4 656.5,65.6 657.2,67.3 658.0,67.3 658.8,67.3 659.6,67.2 660.3,65.7 661.1,68.6 661.9,69.0 662.7,67.4 663.4,69.9 664.2,68.5 665.0,67.2 665.8,68.1 666.5,68.3 667.3,68.7 668.1,68.7 668.9,68.4 669.6,67.6 670.4,66.3 671.2,66.9 671.9,68.6 672.7,68.7 673.5,67.3 674.3,69.8 675.0,68.7 675.8,68.6 676.6,69.7 677.4,69.6 678.1,68.3 678.9,70.4 679.7,69.6" fill="none" stroke="#d81e4e" stroke-width="1.30" stroke-linejoin="round"/>
<polyline points="495.5,89.3 496.3,85.5 497.0,77.9 497.8,79.0 498.6,77.6 499.4,77.5 500.1,74.6 500.9,75.8 501.7,74.1 502.5,75.0 503.2,73.1 504.0,73.2 504.8,71.1 505.6,72.3 506.3,72.4 507.1,70.4 507.9,72.2 508.7,71.7 509.4,69.7 510.2,72.5 511.0,69.1 511.8,70.3 512.5,71.0 513.3,69.9 514.1,69.1 514.8,69.9 515.6,69.3 516.4,68.6 517.2,68.9 517.9,69.4 518.7,69.8 519.5,69.6 520.3,69.5 521.0,68.0 521.8,68.0 522.6,67.8 523.4,67.2 524.1,68.7 524.9,69.2 525.7,69.2 526.5,67.0 527.2,70.7 528.0,68.1 528.8,67.7 529.6,68.2 530.3,65.6 531.1,66.8 531.9,67.1 532.6,69.1 533.4,68.1 534.2,68.9 535.0,68.6 535.7,68.9 536.5,69.7 537.3,68.8 538.1,67.8 538.8,68.2 539.6,69.1 540.4,71.3 541.2,68.0 541.9,67.7 542.7,68.8 543.5,69.0 544.3,67.9 545.0,69.2 545.8,67.6 546.6,69.5 547.4,69.4 548.1,68.2 548.9,69.7 549.7,68.2 550.4,67.6 551.2,69.5 552.0,67.1 552.8,68.4 553.5,67.7 554.3,67.5 555.1,68.6 555.9,68.9 556.6,69.9 557.4,68.9 558.2,69.1 559.0,66.4 559.7,67.2 560.5,69.2 561.3,66.7 562.1,66.7 562.8,67.4 563.6,67.1 564.4,66.8 565.2,68.6 565.9,68.4 566.7,68.1 567.5,70.0 568.2,69.1 569.0,68.9 569.8,69.5 570.6,69.9 571.3,68.6 572.1,68.0 572.9,68.3 573.7,69.2 574.4,67.8 575.2,68.3 576.0,67.2 576.8,66.6 577.5,68.6 578.3,67.9 579.1,68.5 579.9,68.3 580.6,65.4 581.4,66.7 582.2,69.9 582.9,68.0 583.7,69.3 584.5,67.2 585.3,68.4 586.0,68.9 586.8,68.6 587.6,67.4 588.4,67.4 589.1,67.5 589.9,67.7 590.7,67.3 591.5,69.1 592.2,67.9 593.0,68.0 593.8,68.3 594.6,66.8 595.3,68.9 596.1,67.7 596.9,67.6 597.7,66.5 598.4,68.3 599.2,67.7 600.0,67.3 600.7,68.9 601.5,66.9 602.3,68.0 603.1,67.3 603.8,66.7 604.6,65.9 605.4,65.8 606.2,65.1 606.9,66.6 607.7,67.6 608.5,67.8 609.3,66.6 610.0,65.7 610.8,67.0 611.6,68.0 612.4,67.2 613.1,66.9 613.9,66.9 614.7,68.3 615.5,70.1 616.2,68.1 617.0,66.2 617.8,67.5 618.5,70.3 619.3,67.8 620.1,69.0 620.9,65.3 621.6,67.3 622.4,68.7 623.2,66.5 624.0,67.8 624.7,66.8 625.5,67.4 626.3,68.8 627.1,66.7 627.8,68.6 628.6,66.0 629.4,66.8 630.2,67.9 630.9,68.7 631.7,65.0 632.5,65.1 633.3,68.3 634.0,65.1 634.8,66.6 635.6,66.5 636.3,66.9 637.1,67.4 637.9,65.9 638.7,66.8 639.4,68.7 640.2,65.2 641.0,66.4 641.8,67.8 642.5,67.2 643.3,67.9 644.1,67.0 644.9,66.8 645.6,66.7 646.4,67.7 647.2,67.8 648.0,66.2 648.7,67.5 649.5,65.2 650.3,68.1 651.1,66.8 651.8,67.6 652.6,68.5 653.4,65.8 654.1,66.5 654.9,67.6 655.7,67.3 656.5,65.6 657.2,67.6 658.0,65.0 658.8,65.9 659.6,66.6 660.3,65.1 661.1,64.4 661.9,65.8 662.7,66.1 663.4,64.4 664.2,65.1 665.0,67.7 665.8,67.0 666.5,67.1 667.3,67.6 668.1,68.7 668.9,66.7 669.6,67.5 670.4,67.6 671.2,66.2 671.9,68.3 672.7,67.7 673.5,67.6 674.3,68.5 675.0,67.9 675.8,67.1 676.6,68.0 677.4,66.8 678.1,68.7 678.9,67.9 679.7,69.1" fill="none" stroke="#f2501a" stroke-width="1.30" stroke-linejoin="round"/>
<polyline points="495.5,89.2 496.3,83.4 497.0,79.8 497.8,77.4 498.6,78.6 499.4,74.7 500.1,73.8 500.9,73.2 501.7,73.0 502.5,73.0 503.2,73.2 504.0,70.7 504.8,69.8 505.6,71.9 506.3,69.5 507.1,69.8 507.9,68.7 508.7,69.3 509.4,68.2 510.2,68.1 511.0,68.3 511.8,70.5 512.5,68.1 513.3,69.1 514.1,69.9 514.8,67.5 515.6,69.7 516.4,67.2 517.2,66.3 517.9,68.6 518.7,66.7 519.5,67.1 520.3,66.9 521.0,68.9 521.8,66.9 522.6,67.6 523.4,67.5 524.1,68.4 524.9,67.2 525.7,68.2 526.5,67.7 527.2,66.6 528.0,67.8 528.8,66.3 529.6,66.8 530.3,66.5 531.1,67.4 531.9,65.9 532.6,65.6 533.4,66.9 534.2,66.1 535.0,66.7 535.7,68.7 536.5,67.4 537.3,66.4 538.1,68.5 538.8,69.9 539.6,67.9 540.4,68.9 541.2,65.8 541.9,67.5 542.7,67.5 543.5,68.1 544.3,67.1 545.0,67.7 545.8,67.9 546.6,67.6 547.4,68.5 548.1,66.7 548.9,69.0 549.7,67.9 550.4,68.5 551.2,69.3 552.0,65.7 552.8,69.8 553.5,65.7 554.3,68.6 555.1,67.1 555.9,64.9 556.6,69.8 557.4,68.9 558.2,66.1 559.0,67.5 559.7,68.5 560.5,68.1 561.3,69.1 562.1,67.5 562.8,66.2 563.6,67.7 564.4,66.8 565.2,65.8 565.9,64.7 566.7,67.1 567.5,65.9 568.2,67.2 569.0,67.8 569.8,67.7 570.6,67.9 571.3,69.3 572.1,69.7 572.9,69.0 573.7,68.2 574.4,66.8 575.2,68.7 576.0,68.1 576.8,66.9 577.5,66.9 578.3,67.6 579.1,67.3 579.9,65.6 580.6,67.9 581.4,68.0 582.2,69.2 582.9,66.8 583.7,67.4 584.5,65.4 585.3,67.3 586.0,65.8 586.8,66.0 587.6,65.7 588.4,69.1 589.1,65.9 589.9,67.4 590.7,67.7 591.5,68.3 592.2,68.4 593.0,68.2 593.8,70.3 594.6,67.5 595.3,67.9 596.1,69.3 596.9,68.0 597.7,65.5 598.4,67.2 599.2,68.2 600.0,65.9 600.7,68.7 601.5,67.5 602.3,68.2 603.1,67.6 603.8,66.7 604.6,66.8 605.4,68.2 606.2,67.0 606.9,67.0 607.7,67.4 608.5,67.3 609.3,67.7 610.0,67.5 610.8,66.6 611.6,68.1 612.4,66.2 613.1,67.0 613.9,67.7 614.7,67.7 615.5,67.7 616.2,67.6 617.0,67.4 617.8,67.6 618.5,68.1 619.3,65.6 620.1,65.6 620.9,66.8 621.6,65.7 622.4,66.3 623.2,67.0 624.0,67.0 624.7,64.3 625.5,66.0 626.3,65.3 627.1,66.9 627.8,65.7 628.6,63.8 629.4,65.1 630.2,64.3 630.9,64.3 631.7,65.1 632.5,64.1 633.3,65.5 634.0,65.5 634.8,66.8 635.6,63.8 636.3,66.3 637.1,66.5 637.9,65.3 638.7,67.3 639.4,67.0 640.2,67.8 641.0,66.8 641.8,67.1 642.5,66.1 643.3,66.7 644.1,67.2 644.9,66.2 645.6,66.2 646.4,66.4 647.2,64.5 648.0,65.0 648.7,65.5 649.5,66.9 650.3,65.3 651.1,67.1 651.8,66.0 652.6,66.2 653.4,66.6 654.1,67.1 654.9,66.6 655.7,63.9 656.5,65.8 657.2,65.3 658.0,64.4 658.8,65.2 659.6,64.6 660.3,67.1 661.1,67.1 661.9,62.9 662.7,66.7 663.4,67.1 664.2,66.8 665.0,65.6 665.8,67.6 666.5,66.2 667.3,66.7 668.1,66.1 668.9,66.3 669.6,67.2 670.4,67.7 671.2,69.6 671.9,66.1 672.7,69.1 673.5,67.9 674.3,65.6 675.0,67.9 675.8,66.7 676.6,67.4 677.4,66.7 678.1,67.2 678.9,67.6 679.7,65.9" fill="none" stroke="#ff9a1a" stroke-width="1.30" stroke-linejoin="round"/>
</g>
<line x1="495.5" y1="10.0" x2="495.5" y2="123.7" class="sp"/>
<line x1="495.0" y1="123.2" x2="682.0" y2="123.2" class="sp"/>
<line x1="493.5" y1="104.0" x2="495.5" y2="104.0" class="tk"/>
<text x="491.9" y="107.1" class="tl" text-anchor="end">1.4</text>
<line x1="493.5" y1="77.6" x2="495.5" y2="77.6" class="tk"/>
<text x="491.9" y="80.7" class="tl" text-anchor="end">1.6</text>
<line x1="493.5" y1="51.1" x2="495.5" y2="51.1" class="tk"/>
<text x="491.9" y="54.2" class="tl" text-anchor="end">1.8</text>
<line x1="493.5" y1="24.7" x2="495.5" y2="24.7" class="tk"/>
<text x="491.9" y="27.8" class="tl" text-anchor="end">2.0</text>
<line x1="495.5" y1="123.2" x2="495.5" y2="125.2" class="tk"/>
<text x="495.5" y="132.9" class="tl" text-anchor="middle">0</text>
<line x1="547.9" y1="123.2" x2="547.9" y2="125.2" class="tk"/>
<text x="547.9" y="132.9" class="tl" text-anchor="middle">2</text>
<line x1="600.3" y1="123.2" x2="600.3" y2="125.2" class="tk"/>
<text x="600.3" y="132.9" class="tl" text-anchor="middle">4</text>
<line x1="652.7" y1="123.2" x2="652.7" y2="125.2" class="tk"/>
<text x="652.7" y="132.9" class="tl" text-anchor="middle">6</text>
<text x="588.2" y="142.8" class="al" text-anchor="middle">Time (<tspan font-style="italic">μ</tspan>s)</text>
<text transform="translate(475.8,66.6) rotate(-90)" class="al" text-anchor="middle">RMSD (Å)</text>
<text x="468.0" y="14.3" class="pl">c</text>
<text x="507.2" y="20.6" class="tt" fill="#ee5e38">ff14SB</text>
<text x="503.4" y="118.0" class="rm" textLength="103.8" lengthAdjust="spacing">⟨<tspan font-style="italic">RMSD</tspan>⟩ = 1.676 ± 0.003 Å</text>
<rect x="622.4" y="87.1" width="56.5" height="32.6" rx="1.5" fill="#fff" fill-opacity="0.8" stroke="#dadada" stroke-width="0.7"/>
<line x1="624.7" y1="93.1" x2="639.2" y2="93.1" stroke="#d81e4e" stroke-width="1.3"/>
<text x="644.2" y="95.8" class="lg">Replica 1</text>
<line x1="624.7" y1="103.1" x2="639.2" y2="103.1" stroke="#f2501a" stroke-width="1.3"/>
<text x="644.2" y="105.8" class="lg">Replica 2</text>
<line x1="624.7" y1="113.1" x2="639.2" y2="113.1" stroke="#ff9a1a" stroke-width="1.3"/>
<text x="644.2" y="115.8" class="lg">Replica 3</text>
<clipPath id="clipd"><rect x="273.8" y="167.0" width="196.2" height="115.6"/></clipPath>
<g clip-path="url(#clipd)">
<path d="M273.8,219.0 274.8,216.2 275.8,212.3 276.8,210.2 277.8,204.5 278.8,204.8 279.8,194.9 280.8,193.6 281.9,196.5 282.9,196.4 283.9,192.4 284.9,194.5 285.9,194.2 286.9,190.7 287.9,192.0 288.9,197.1 289.9,191.5 290.9,193.6 291.9,191.4 292.9,190.5 293.9,192.4 294.9,193.6 296.0,191.2 297.0,191.1 298.0,188.7 299.0,188.6 300.0,190.5 301.0,190.5 302.0,187.5 303.0,189.9 304.0,185.7 305.0,186.2 306.0,186.6 307.0,188.4 308.0,187.4 309.0,188.1 310.1,186.7 311.1,187.4 312.1,187.6 313.1,186.6 314.1,186.8 315.1,183.0 316.1,187.0 317.1,186.9 318.1,184.2 319.1,184.2 320.1,187.1 321.1,186.6 322.1,183.1 323.1,183.7 324.2,184.8 325.2,186.1 326.2,185.5 327.2,185.1 328.2,184.9 329.2,185.9 330.2,186.7 331.2,188.6 332.2,184.0 333.2,182.2 334.2,183.2 335.2,184.6 336.2,183.1 337.2,184.6 338.3,184.4 339.3,186.4 340.3,183.7 341.3,184.9 342.3,174.9 343.3,181.8 344.3,184.5 345.3,183.3 346.3,183.3 347.3,184.6 348.3,185.7 349.3,184.4 350.3,185.3 351.3,178.6 352.4,183.5 353.4,181.8 354.4,183.5 355.4,178.2 356.4,184.4 357.4,179.7 358.4,185.3 359.4,181.1 360.4,180.0 361.4,184.0 362.4,185.1 363.4,182.1 364.4,183.8 365.4,176.6 366.5,180.7 367.5,182.8 368.5,182.8 369.5,180.8 370.5,182.2 371.5,182.6 372.5,182.4 373.5,181.9 374.5,182.3 375.5,182.3 376.5,181.3 377.5,182.6 378.5,183.7 379.5,176.9 380.6,179.8 381.6,183.2 382.6,178.2 383.6,181.7 384.6,181.6 385.6,182.0 386.6,178.3 387.6,183.1 388.6,183.4 389.6,178.5 390.6,180.6 391.6,184.7 392.6,181.6 393.6,180.8 394.7,183.5 395.7,181.0 396.7,182.5 397.7,178.9 398.7,182.2 399.7,182.3 400.7,182.4 401.7,178.8 402.7,181.7 403.7,182.6 404.7,176.2 405.7,179.4 406.7,179.3 407.7,181.8 408.8,181.0 409.8,181.3 410.8,181.1 411.8,181.6 412.8,181.4 413.8,170.8 414.8,176.5 415.8,181.8 416.8,181.1 417.8,180.3 418.8,180.5 419.8,179.8 420.8,179.3 421.8,180.5 422.9,181.1 423.9,181.2 424.9,179.4 425.9,183.3 426.9,180.3 427.9,180.4 428.9,182.4 429.9,180.7 430.9,171.6 431.9,181.0 432.9,179.7 433.9,180.7 434.9,180.7 435.9,181.5 437.0,178.3 438.0,178.5 439.0,178.9 440.0,168.6 441.0,178.8 442.0,180.2 443.0,180.3 444.0,178.6 445.0,181.1 446.0,178.6 447.0,177.4 448.0,182.2 449.0,177.8 450.0,181.7 451.1,179.7 452.1,179.9 453.1,177.9 454.1,172.9 455.1,179.6 L455.1,226.1 454.1,232.7 453.1,227.0 452.1,227.6 451.1,226.8 450.0,227.4 449.0,226.7 448.0,227.1 447.0,227.9 446.0,228.2 445.0,228.3 444.0,226.8 443.0,228.7 442.0,225.4 441.0,227.2 440.0,227.5 439.0,227.4 438.0,227.6 437.0,226.6 435.9,226.8 434.9,226.8 433.9,225.7 432.9,225.4 431.9,227.7 430.9,228.5 429.9,227.1 428.9,227.1 427.9,226.8 426.9,228.0 425.9,227.5 424.9,227.7 423.9,228.3 422.9,229.6 421.8,232.1 420.8,228.1 419.8,229.1 418.8,229.3 417.8,229.3 416.8,227.2 415.8,228.3 414.8,229.9 413.8,227.3 412.8,228.2 411.8,229.1 410.8,228.1 409.8,227.7 408.8,233.3 407.7,228.5 406.7,232.8 405.7,228.7 404.7,228.4 403.7,230.1 402.7,231.2 401.7,228.3 400.7,228.6 399.7,230.0 398.7,229.1 397.7,228.5 396.7,228.7 395.7,229.6 394.7,230.3 393.6,231.0 392.6,228.2 391.6,228.2 390.6,229.9 389.6,230.3 388.6,230.3 387.6,229.0 386.6,229.7 385.6,229.6 384.6,227.9 383.6,227.7 382.6,229.7 381.6,229.7 380.6,230.5 379.5,229.8 378.5,230.0 377.5,229.4 376.5,229.6 375.5,229.1 374.5,231.5 373.5,230.7 372.5,229.5 371.5,232.7 370.5,231.4 369.5,230.0 368.5,230.4 367.5,229.7 366.5,230.2 365.4,229.6 364.4,230.7 363.4,232.6 362.4,229.9 361.4,231.9 360.4,232.2 359.4,230.6 358.4,230.7 357.4,230.3 356.4,230.5 355.4,230.0 354.4,230.7 353.4,232.2 352.4,229.2 351.3,230.3 350.3,230.4 349.3,230.5 348.3,230.4 347.3,231.2 346.3,231.1 345.3,231.4 344.3,231.4 343.3,235.0 342.3,235.1 341.3,232.1 340.3,230.7 339.3,231.2 338.3,234.2 337.2,230.4 336.2,236.5 335.2,230.7 334.2,231.7 333.2,232.0 332.2,231.8 331.2,232.7 330.2,231.1 329.2,231.2 328.2,233.3 327.2,232.1 326.2,231.9 325.2,233.1 324.2,232.4 323.1,233.5 322.1,232.8 321.1,233.4 320.1,234.6 319.1,231.8 318.1,231.9 317.1,231.8 316.1,232.1 315.1,233.5 314.1,233.8 313.1,232.7 312.1,231.4 311.1,232.7 310.1,232.7 309.0,233.0 308.0,232.7 307.0,233.1 306.0,235.1 305.0,234.2 304.0,234.7 303.0,234.1 302.0,235.1 301.0,235.0 300.0,234.6 299.0,236.4 298.0,236.0 297.0,238.6 296.0,238.9 294.9,236.1 293.9,236.4 292.9,237.0 291.9,237.9 290.9,236.2 289.9,236.5 288.9,235.7 287.9,235.7 286.9,238.0 285.9,238.7 284.9,240.2 283.9,240.3 282.9,237.5 281.9,242.8 280.8,239.8 279.8,240.8 278.8,239.4 277.8,241.1 276.8,239.8 275.8,247.6 274.8,241.0 273.8,243.3Z" fill="#e4f4e1" fill-opacity="1.000"/>
<path d="M273.8,223.8 274.8,220.5 275.8,213.1 276.8,213.2 277.8,207.1 278.8,206.1 279.8,205.8 280.8,204.9 281.9,202.7 282.9,201.7 283.9,200.5 284.9,201.7 285.9,200.9 286.9,201.0 287.9,202.1 288.9,198.5 289.9,200.5 290.9,199.8 291.9,200.3 292.9,199.0 293.9,198.9 294.9,200.2 296.0,199.7 297.0,199.3 298.0,198.5 299.0,197.3 300.0,199.8 301.0,198.5 302.0,199.1 303.0,199.0 304.0,195.5 305.0,197.9 306.0,198.9 307.0,195.5 308.0,198.1 309.0,198.2 310.1,198.8 311.1,197.2 312.1,197.2 313.1,197.3 314.1,197.3 315.1,197.3 316.1,196.9 317.1,197.8 318.1,195.9 319.1,197.4 320.1,196.7 321.1,196.9 322.1,197.6 323.1,196.5 324.2,195.1 325.2,196.3 326.2,196.2 327.2,196.9 328.2,195.9 329.2,196.5 330.2,194.4 331.2,197.0 332.2,196.4 333.2,195.7 334.2,195.8 335.2,196.8 336.2,194.3 337.2,196.1 338.3,196.3 339.3,194.9 340.3,196.1 341.3,196.0 342.3,195.9 343.3,195.5 344.3,195.7 345.3,196.3 346.3,191.8 347.3,194.2 348.3,194.5 349.3,194.5 350.3,194.2 351.3,193.1 352.4,193.7 353.4,195.1 354.4,195.5 355.4,194.7 356.4,194.8 357.4,195.0 358.4,194.7 359.4,194.8 360.4,191.9 361.4,194.3 362.4,194.5 363.4,194.8 364.4,193.9 365.4,194.7 366.5,194.7 367.5,193.2 368.5,194.0 369.5,193.2 370.5,194.4 371.5,195.3 372.5,193.8 373.5,193.5 374.5,194.2 375.5,193.2 376.5,193.1 377.5,194.4 378.5,193.2 379.5,192.5 380.6,193.6 381.6,193.4 382.6,193.4 383.6,194.3 384.6,193.9 385.6,192.5 386.6,192.4 387.6,193.3 388.6,194.0 389.6,193.1 390.6,192.7 391.6,191.2 392.6,191.4 393.6,192.8 394.7,192.4 395.7,191.9 396.7,192.5 397.7,192.2 398.7,192.3 399.7,192.3 400.7,191.9 401.7,189.5 402.7,190.0 403.7,191.3 404.7,191.3 405.7,192.2 406.7,190.5 407.7,190.4 408.8,191.6 409.8,191.3 410.8,191.6 411.8,190.9 412.8,190.6 413.8,187.8 414.8,191.1 415.8,189.0 416.8,190.8 417.8,190.3 418.8,189.8 419.8,189.9 420.8,189.9 421.8,190.2 422.9,190.0 423.9,187.1 424.9,189.2 425.9,187.7 426.9,186.8 427.9,189.1 428.9,188.6 429.9,189.8 430.9,186.7 431.9,188.0 432.9,188.4 433.9,189.7 434.9,188.1 435.9,183.2 437.0,188.4 438.0,187.8 439.0,186.1 440.0,188.1 441.0,188.6 442.0,189.5 443.0,189.4 444.0,188.2 445.0,187.8 446.0,187.4 447.0,188.0 448.0,187.9 449.0,187.7 450.0,187.2 451.1,187.7 452.1,188.2 453.1,186.4 454.1,187.2 455.1,187.1 L455.1,224.3 454.1,222.4 453.1,222.7 452.1,222.3 451.1,222.9 450.0,223.3 449.0,222.9 448.0,223.4 447.0,222.8 446.0,222.6 445.0,222.3 444.0,224.5 443.0,223.5 442.0,224.3 441.0,222.8 440.0,224.1 439.0,224.2 438.0,223.5 437.0,224.0 435.9,223.6 434.9,224.1 433.9,223.5 432.9,223.4 431.9,223.6 430.9,223.1 429.9,225.3 428.9,223.9 427.9,224.2 426.9,224.0 425.9,222.8 424.9,224.0 423.9,224.7 422.9,224.3 421.8,223.5 420.8,225.2 419.8,225.7 418.8,224.7 417.8,223.8 416.8,224.3 415.8,226.9 414.8,224.9 413.8,225.0 412.8,224.5 411.8,224.8 410.8,225.1 409.8,224.3 408.8,223.4 407.7,224.0 406.7,225.2 405.7,224.0 404.7,224.6 403.7,225.6 402.7,225.0 401.7,225.3 400.7,224.8 399.7,225.8 398.7,225.1 397.7,225.1 396.7,224.6 395.7,225.6 394.7,224.5 393.6,224.4 392.6,225.0 391.6,225.9 390.6,225.9 389.6,226.0 388.6,224.6 387.6,226.2 386.6,226.1 385.6,226.0 384.6,224.7 383.6,225.3 382.6,227.1 381.6,225.8 380.6,225.9 379.5,226.3 378.5,226.1 377.5,224.3 376.5,224.9 375.5,225.8 374.5,225.6 373.5,226.5 372.5,225.6 371.5,226.5 370.5,225.9 369.5,225.8 368.5,224.9 367.5,225.9 366.5,226.8 365.4,226.9 364.4,225.9 363.4,225.3 362.4,226.2 361.4,226.7 360.4,226.9 359.4,226.6 358.4,226.6 357.4,225.5 356.4,226.0 355.4,226.3 354.4,226.2 353.4,225.9 352.4,226.8 351.3,226.4 350.3,227.0 349.3,226.7 348.3,226.5 347.3,226.5 346.3,226.8 345.3,226.7 344.3,226.1 343.3,225.8 342.3,227.4 341.3,227.2 340.3,226.9 339.3,226.7 338.3,227.4 337.2,231.2 336.2,229.5 335.2,227.8 334.2,226.6 333.2,228.4 332.2,226.5 331.2,228.6 330.2,227.9 329.2,229.3 328.2,227.8 327.2,227.9 326.2,228.8 325.2,228.8 324.2,228.1 323.1,228.5 322.1,228.3 321.1,228.7 320.1,228.4 319.1,228.6 318.1,228.3 317.1,230.7 316.1,231.0 315.1,227.9 314.1,229.0 313.1,228.6 312.1,232.2 311.1,229.9 310.1,228.4 309.0,228.7 308.0,229.8 307.0,229.5 306.0,230.6 305.0,228.7 304.0,230.1 303.0,230.3 302.0,230.1 301.0,231.5 300.0,230.6 299.0,231.0 298.0,230.7 297.0,230.4 296.0,230.8 294.9,231.0 293.9,231.2 292.9,230.7 291.9,232.3 290.9,231.5 289.9,232.0 288.9,232.5 287.9,232.3 286.9,232.1 285.9,232.9 284.9,232.7 283.9,233.0 282.9,234.0 281.9,234.0 280.8,237.1 279.8,234.2 278.8,234.4 277.8,236.4 276.8,236.8 275.8,236.3 274.8,238.8 273.8,236.6Z" fill="#c9e7c4" fill-opacity="1.000"/>
<line x1="273.8" y1="263.2" x2="460.0" y2="263.2" class="g"/>
<line x1="273.8" y1="237.0" x2="460.0" y2="237.0" class="g"/>
<line x1="273.8" y1="210.9" x2="460.0" y2="210.9" class="g"/>
<line x1="273.8" y1="184.7" x2="460.0" y2="184.7" class="g"/>
<line x1="318.4" y1="170.0" x2="318.4" y2="282.6" class="g"/>
<line x1="363.1" y1="170.0" x2="363.1" y2="282.6" class="g"/>
<line x1="407.8" y1="170.0" x2="407.8" y2="282.6" class="g"/>
<line x1="452.4" y1="170.0" x2="452.4" y2="282.6" class="g"/>
<polyline points="273.8,227.8 274.6,227.1 275.3,226.0 276.1,223.0 276.9,222.6 277.7,217.9 278.4,219.5 279.2,218.4 280.0,217.7 280.8,215.0 281.5,217.9 282.3,215.4 283.1,215.9 283.9,215.8 284.6,217.6 285.4,214.6 286.2,216.1 287.0,215.1 287.7,214.2 288.5,214.0 289.3,212.9 290.1,214.9 290.8,213.9 291.6,213.3 292.4,213.7 293.2,213.2 293.9,214.1 294.7,212.5 295.5,215.0 296.3,215.3 297.0,213.7 297.8,212.6 298.6,214.3 299.4,214.3 300.1,213.8 300.9,212.7 301.7,213.4 302.5,213.1 303.2,215.0 304.0,211.3 304.8,212.3 305.6,213.9 306.3,211.3 307.1,212.4 307.9,211.0 308.7,214.0 309.4,210.9 310.2,212.5 311.0,214.5 311.8,211.4 312.5,211.9 313.3,213.1 314.1,211.9 314.9,213.7 315.6,211.0 316.4,212.0 317.2,211.9 318.0,210.4 318.7,211.7 319.5,212.4 320.3,212.7 321.1,211.6 321.8,210.3 322.6,212.2 323.4,212.4 324.2,210.1 324.9,210.7 325.7,210.8 326.5,208.2 327.3,211.8 328.0,210.1 328.8,212.2 329.6,210.7 330.4,210.3 331.1,209.2 331.9,212.2 332.7,210.0 333.5,209.9 334.2,210.8 335.0,207.6 335.8,209.5 336.6,210.6 337.3,208.9 338.1,211.1 338.9,207.8 339.6,208.3 340.4,210.1 341.2,209.4 342.0,209.5 342.7,208.3 343.5,211.0 344.3,211.2 345.1,212.2 345.8,210.3 346.6,211.3 347.4,209.7 348.2,208.9 348.9,210.2 349.7,210.8 350.5,207.8 351.3,209.5 352.0,209.3 352.8,208.7 353.6,211.0 354.4,210.3 355.1,206.7 355.9,210.0 356.7,210.4 357.5,209.5 358.2,209.7 359.0,210.1 359.8,209.2 360.6,208.8 361.3,208.4 362.1,208.3 362.9,210.6 363.7,210.0 364.4,207.6 365.2,208.9 366.0,207.0 366.8,208.4 367.5,210.0 368.3,208.0 369.1,209.6 369.9,208.3 370.6,207.2 371.4,206.3 372.2,208.3 373.0,207.4 373.7,207.6 374.5,207.2 375.3,210.9 376.1,208.4 376.8,207.6 377.6,207.4 378.4,209.1 379.2,207.9 379.9,207.7 380.7,208.6 381.5,208.9 382.3,208.9 383.0,208.0 383.8,206.7 384.6,205.8 385.4,207.6 386.1,208.2 386.9,207.7 387.7,206.1 388.5,207.3 389.2,207.0 390.0,206.9 390.8,207.1 391.6,207.8 392.3,209.1 393.1,208.3 393.9,206.8 394.7,206.2 395.4,207.0 396.2,207.3 397.0,204.9 397.8,207.0 398.5,206.3 399.3,207.2 400.1,208.2 400.9,208.9 401.6,207.7 402.4,208.2 403.2,205.9 403.9,208.0 404.7,207.3 405.5,206.3 406.3,207.1 407.0,206.3 407.8,205.7 408.6,208.4 409.4,207.1 410.1,207.8 410.9,204.9 411.7,206.3 412.5,205.6 413.2,204.2 414.0,207.0 414.8,206.7 415.6,206.2 416.3,207.1 417.1,205.9 417.9,206.6 418.7,206.4 419.4,207.0 420.2,207.5 421.0,207.0 421.8,207.5 422.5,208.6 423.3,206.4 424.1,206.1 424.9,207.1 425.6,207.7 426.4,207.5 427.2,207.3 428.0,207.1 428.7,205.6 429.5,208.3 430.3,207.0 431.1,206.7 431.8,207.3 432.6,207.1 433.4,208.4 434.2,207.9 434.9,206.6 435.7,206.0 436.5,208.2 437.3,207.0 438.0,207.3 438.8,206.5 439.6,207.0 440.4,207.0 441.1,206.4 441.9,208.7 442.7,207.7 443.5,209.6 444.2,209.3 445.0,208.0 445.8,208.8 446.6,206.0 447.3,204.8 448.1,205.9 448.9,205.3 449.7,205.5 450.4,205.8 451.2,205.4 452.0,205.6 452.8,206.5 453.5,206.8 454.3,206.7 455.1,205.1" fill="none" stroke="#3ccfcf" stroke-width="1.30" stroke-linejoin="round"/>
<polyline points="273.8,230.5 274.6,226.3 275.3,225.1 276.1,222.2 276.9,221.9 277.7,220.4 278.4,220.4 279.2,220.5 280.0,218.3 280.8,218.1 281.5,216.0 282.3,216.1 283.1,216.7 283.9,216.0 284.6,217.6 285.4,215.6 286.2,212.7 287.0,212.2 287.7,212.7 288.5,213.1 289.3,212.6 290.1,212.7 290.8,215.1 291.6,213.9 292.4,212.4 293.2,212.1 293.9,212.7 294.7,213.1 295.5,213.1 296.3,212.8 297.0,213.2 297.8,213.6 298.6,211.8 299.4,212.5 300.1,212.1 300.9,209.9 301.7,211.0 302.5,212.6 303.2,211.7 304.0,213.7 304.8,211.0 305.6,211.5 306.3,211.4 307.1,210.0 307.9,208.6 308.7,209.8 309.4,210.2 310.2,206.9 311.0,208.7 311.8,207.7 312.5,210.3 313.3,209.2 314.1,210.2 314.9,208.9 315.6,209.5 316.4,210.3 317.2,207.9 318.0,209.0 318.7,211.2 319.5,209.8 320.3,210.4 321.1,211.0 321.8,210.0 322.6,209.5 323.4,208.9 324.2,209.6 324.9,210.5 325.7,208.8 326.5,207.2 327.3,209.9 328.0,208.0 328.8,208.0 329.6,209.0 330.4,207.8 331.1,209.3 331.9,208.8 332.7,209.0 333.5,207.4 334.2,206.4 335.0,208.5 335.8,206.9 336.6,209.8 337.3,208.6 338.1,208.6 338.9,205.6 339.6,208.1 340.4,206.6 341.2,209.3 342.0,207.3 342.7,206.4 343.5,207.4 344.3,209.7 345.1,206.2 345.8,205.0 346.6,204.3 347.4,205.4 348.2,207.6 348.9,205.6 349.7,204.4 350.5,206.3 351.3,205.0 352.0,205.7 352.8,204.8 353.6,203.5 354.4,205.1 355.1,201.2 355.9,203.6 356.7,203.4 357.5,204.4 358.2,202.8 359.0,203.4 359.8,204.1 360.6,204.2 361.3,202.5 362.1,202.6 362.9,205.3 363.7,205.2 364.4,203.1 365.2,203.0 366.0,202.3 366.8,204.5 367.5,202.7 368.3,203.4 369.1,203.5 369.9,203.2 370.6,202.2 371.4,202.9 372.2,202.3 373.0,203.7 373.7,203.5 374.5,204.4 375.3,203.9 376.1,203.4 376.8,203.6 377.6,202.4 378.4,203.2 379.2,202.8 379.9,203.6 380.7,202.7 381.5,204.0 382.3,202.9 383.0,203.7 383.8,203.4 384.6,204.4 385.4,205.6 386.1,205.3 386.9,201.6 387.7,203.2 388.5,202.8 389.2,203.3 390.0,203.4 390.8,199.9 391.6,204.2 392.3,203.0 393.1,203.0 393.9,203.8 394.7,203.9 395.4,203.2 396.2,203.1 397.0,203.4 397.8,201.9 398.5,203.9 399.3,202.4 400.1,201.1 400.9,201.9 401.6,204.2 402.4,205.7 403.2,201.8 403.9,201.8 404.7,203.0 405.5,201.1 406.3,202.5 407.0,201.5 407.8,202.8 408.6,201.4 409.4,202.3 410.1,202.1 410.9,200.3 411.7,201.0 412.5,202.8 413.2,200.4 414.0,200.3 414.8,202.5 415.6,201.8 416.3,200.9 417.1,201.2 417.9,201.0 418.7,200.4 419.4,201.2 420.2,198.0 421.0,201.2 421.8,201.4 422.5,198.9 423.3,198.3 424.1,200.7 424.9,200.9 425.6,201.9 426.4,199.6 427.2,200.4 428.0,201.3 428.7,199.6 429.5,198.3 430.3,199.0 431.1,197.4 431.8,198.4 432.6,198.9 433.4,199.4 434.2,199.0 434.9,198.4 435.7,198.5 436.5,198.0 437.3,198.9 438.0,198.3 438.8,197.3 439.6,198.5 440.4,199.3 441.1,196.3 441.9,197.5 442.7,198.5 443.5,198.0 444.2,198.8 445.0,200.4 445.8,199.0 446.6,200.3 447.3,198.5 448.1,198.7 448.9,197.6 449.7,198.9 450.4,198.7 451.2,199.7 452.0,199.8 452.8,201.2 453.5,198.9 454.3,199.7 455.1,200.2" fill="none" stroke="#8ef08e" stroke-width="1.50" stroke-linejoin="round"/>
<polyline points="273.8,229.5 274.6,225.7 275.3,224.6 276.1,222.7 276.9,220.5 277.7,219.4 278.4,219.2 279.2,219.3 280.0,218.5 280.8,218.8 281.5,217.4 282.3,216.6 283.1,214.7 283.9,214.7 284.6,216.0 285.4,215.3 286.2,215.9 287.0,212.5 287.7,213.6 288.5,212.4 289.3,214.6 290.1,214.0 290.8,213.0 291.6,213.5 292.4,213.9 293.2,215.2 293.9,213.3 294.7,213.6 295.5,213.0 296.3,214.5 297.0,215.8 297.8,213.0 298.6,212.0 299.4,213.9 300.1,213.8 300.9,212.6 301.7,212.2 302.5,213.5 303.2,209.9 304.0,211.1 304.8,212.7 305.6,213.3 306.3,211.3 307.1,209.2 307.9,210.8 308.7,210.5 309.4,212.9 310.2,211.5 311.0,213.8 311.8,210.0 312.5,211.8 313.3,214.8 314.1,214.1 314.9,211.3 315.6,211.9 316.4,212.5 317.2,211.5 318.0,209.7 318.7,211.3 319.5,213.8 320.3,212.2 321.1,213.0 321.8,212.4 322.6,211.2 323.4,211.6 324.2,212.4 324.9,211.6 325.7,212.3 326.5,211.2 327.3,211.5 328.0,210.8 328.8,211.8 329.6,210.5 330.4,210.9 331.1,210.7 331.9,210.9 332.7,210.3 333.5,212.3 334.2,208.0 335.0,211.6 335.8,210.7 336.6,211.2 337.3,211.0 338.1,210.2 338.9,211.4 339.6,210.8 340.4,211.7 341.2,211.3 342.0,211.5 342.7,208.5 343.5,211.9 344.3,211.3 345.1,210.3 345.8,209.2 346.6,212.5 347.4,212.4 348.2,210.9 348.9,210.6 349.7,212.3 350.5,212.3 351.3,211.1 352.0,209.1 352.8,209.7 353.6,208.9 354.4,210.0 355.1,210.0 355.9,209.5 356.7,210.8 357.5,210.2 358.2,211.8 359.0,211.2 359.8,209.6 360.6,210.2 361.3,210.0 362.1,208.1 362.9,208.5 363.7,208.3 364.4,209.2 365.2,207.7 366.0,206.0 366.8,210.0 367.5,210.6 368.3,209.5 369.1,210.2 369.9,210.2 370.6,209.3 371.4,207.0 372.2,206.7 373.0,205.9 373.7,206.5 374.5,207.6 375.3,206.2 376.1,208.5 376.8,207.9 377.6,208.6 378.4,206.6 379.2,207.5 379.9,209.1 380.7,209.0 381.5,208.4 382.3,208.4 383.0,207.5 383.8,207.7 384.6,206.9 385.4,208.5 386.1,207.1 386.9,209.0 387.7,205.3 388.5,205.9 389.2,207.0 390.0,206.4 390.8,205.6 391.6,206.6 392.3,208.9 393.1,207.5 393.9,209.9 394.7,207.9 395.4,208.6 396.2,207.2 397.0,206.5 397.8,207.7 398.5,207.3 399.3,207.0 400.1,207.4 400.9,207.3 401.6,209.9 402.4,208.1 403.2,207.2 403.9,207.4 404.7,209.0 405.5,207.9 406.3,207.1 407.0,208.4 407.8,206.3 408.6,207.9 409.4,206.8 410.1,206.7 410.9,203.9 411.7,206.5 412.5,206.4 413.2,205.1 414.0,205.9 414.8,206.0 415.6,208.1 416.3,205.3 417.1,205.9 417.9,207.4 418.7,204.9 419.4,206.4 420.2,205.9 421.0,206.9 421.8,207.3 422.5,205.9 423.3,207.0 424.1,204.3 424.9,203.9 425.6,205.3 426.4,206.6 427.2,205.4 428.0,206.1 428.7,204.1 429.5,204.2 430.3,204.7 431.1,203.9 431.8,202.9 432.6,202.0 433.4,204.4 434.2,203.1 434.9,204.3 435.7,205.1 436.5,202.7 437.3,203.9 438.0,203.8 438.8,203.4 439.6,204.2 440.4,205.4 441.1,202.6 441.9,204.1 442.7,204.3 443.5,203.9 444.2,203.2 445.0,204.6 445.8,203.1 446.6,203.7 447.3,201.7 448.1,202.6 448.9,199.5 449.7,203.0 450.4,202.1 451.2,202.3 452.0,203.3 452.8,202.5 453.5,203.6 454.3,204.0 455.1,203.3" fill="none" stroke="#1b8a24" stroke-width="1.80" stroke-linejoin="round"/>
</g>
<line x1="273.8" y1="170.0" x2="273.8" y2="283.1" class="sp"/>
<line x1="273.3" y1="282.6" x2="460.0" y2="282.6" class="sp"/>
<line x1="271.8" y1="263.2" x2="273.8" y2="263.2" class="tk"/>
<text x="270.2" y="266.3" class="tl" text-anchor="end">1.4</text>
<line x1="271.8" y1="237.0" x2="273.8" y2="237.0" class="tk"/>
<text x="270.2" y="240.1" class="tl" text-anchor="end">1.6</text>
<line x1="271.8" y1="210.9" x2="273.8" y2="210.9" class="tk"/>
<text x="270.2" y="214.0" class="tl" text-anchor="end">1.8</text>
<line x1="271.8" y1="184.7" x2="273.8" y2="184.7" class="tk"/>
<text x="270.2" y="187.8" class="tl" text-anchor="end">2.0</text>
<line x1="273.8" y1="282.6" x2="273.8" y2="284.6" class="tk"/>
<text x="273.8" y="292.3" class="tl" text-anchor="middle">0.0</text>
<line x1="318.4" y1="282.6" x2="318.4" y2="284.6" class="tk"/>
<text x="318.4" y="292.3" class="tl" text-anchor="middle">0.5</text>
<line x1="363.1" y1="282.6" x2="363.1" y2="284.6" class="tk"/>
<text x="363.1" y="292.3" class="tl" text-anchor="middle">1.0</text>
<line x1="407.8" y1="282.6" x2="407.8" y2="284.6" class="tk"/>
<text x="407.8" y="292.3" class="tl" text-anchor="middle">1.5</text>
<line x1="452.4" y1="282.6" x2="452.4" y2="284.6" class="tk"/>
<text x="452.4" y="292.3" class="tl" text-anchor="middle">2.0</text>
<text x="367.2" y="302.2" class="al" text-anchor="middle">Time (<tspan font-style="italic">μ</tspan>s)</text>
<text transform="translate(253.8,226.3) rotate(-90)" class="al" text-anchor="middle">RMSD (Å)</text>
<text x="239.3" y="173.3" class="pl">d</text>
<text x="278.7" y="180.4" class="tt" fill="#24872c">ff94</text>
<text x="276.0" y="275.4" class="rm" textLength="94.2" lengthAdjust="spacing">⟨<tspan font-style="italic">RMSD</tspan>⟩ = 1.84 ± 0.01 Å</text>
<rect x="402.6" y="246.7" width="54.8" height="32.5" rx="1.5" fill="#fff" fill-opacity="0.8" stroke="#dadada" stroke-width="0.7"/>
<line x1="404.9" y1="252.7" x2="419.4" y2="252.7" stroke="#3ccfcf" stroke-width="1.3"/>
<text x="424.4" y="255.4" class="lg">Replica 1</text>
<line x1="404.9" y1="262.7" x2="419.4" y2="262.7" stroke="#8ef08e" stroke-width="1.3"/>
<text x="424.4" y="265.4" class="lg">Replica 2</text>
<line x1="404.9" y1="272.7" x2="419.4" y2="272.7" stroke="#1b8a24" stroke-width="1.3"/>
<text x="424.4" y="275.4" class="lg">Replica 3</text>
<clipPath id="clipe"><rect x="496.5" y="167.0" width="203.5" height="115.6"/></clipPath>
<g clip-path="url(#clipe)">
<path d="M496.5,212.0 497.5,208.5 498.5,204.8 499.5,199.1 500.5,201.9 501.5,200.0 502.6,199.9 503.6,196.0 504.6,195.4 505.6,195.8 506.6,195.8 507.6,192.1 508.6,192.5 509.6,195.6 510.6,188.3 511.6,192.4 512.6,195.1 513.6,193.1 514.7,192.3 515.7,192.4 516.7,190.9 517.7,190.6 518.7,188.8 519.7,186.4 520.7,186.1 521.7,190.6 522.7,184.1 523.7,190.6 524.7,188.5 525.7,188.5 526.8,186.9 527.8,187.1 528.8,187.8 529.8,185.8 530.8,189.8 531.8,190.8 532.8,188.7 533.8,189.4 534.8,188.4 535.8,184.6 536.8,185.5 537.9,188.2 538.9,184.0 539.9,189.0 540.9,189.6 541.9,188.3 542.9,188.0 543.9,187.6 544.9,187.5 545.9,187.7 546.9,187.8 547.9,185.0 548.9,188.9 550.0,187.6 551.0,188.9 552.0,187.8 553.0,183.7 554.0,187.7 555.0,189.1 556.0,187.3 557.0,186.9 558.0,183.4 559.0,189.3 560.0,185.5 561.1,180.4 562.1,189.5 563.1,184.8 564.1,189.7 565.1,188.5 566.1,188.8 567.1,185.9 568.1,186.4 569.1,182.1 570.1,186.2 571.1,179.2 572.1,186.9 573.2,187.0 574.2,189.6 575.2,188.1 576.2,188.0 577.2,188.2 578.2,186.8 579.2,188.5 580.2,185.2 581.2,184.9 582.2,185.9 583.2,186.4 584.2,186.3 585.3,187.5 586.3,184.9 587.3,183.3 588.3,186.8 589.3,187.4 590.3,187.7 591.3,187.0 592.3,188.4 593.3,186.3 594.3,186.4 595.3,187.3 596.4,184.4 597.4,188.8 598.4,189.8 599.4,186.5 600.4,187.7 601.4,184.1 602.4,187.7 603.4,185.9 604.4,186.2 605.4,182.3 606.4,183.9 607.4,185.5 608.5,187.4 609.5,188.3 610.5,188.1 611.5,188.1 612.5,185.2 613.5,186.6 614.5,187.2 615.5,186.9 616.5,186.9 617.5,186.0 618.5,186.9 619.5,185.9 620.6,185.6 621.6,188.9 622.6,186.4 623.6,184.9 624.6,187.6 625.6,186.9 626.6,186.3 627.6,185.1 628.6,182.4 629.6,186.7 630.6,185.8 631.7,185.0 632.7,184.8 633.7,183.9 634.7,185.7 635.7,187.6 636.7,186.3 637.7,186.4 638.7,186.4 639.7,185.3 640.7,185.4 641.7,181.1 642.7,184.9 643.8,184.0 644.8,186.5 645.8,181.8 646.8,185.0 647.8,184.8 648.8,184.3 649.8,185.4 650.8,181.1 651.8,183.4 652.8,181.2 653.8,187.6 654.9,186.3 655.9,184.8 656.9,184.6 657.9,185.5 658.9,184.6 659.9,184.3 660.9,185.6 661.9,183.7 662.9,184.8 663.9,183.9 664.9,184.1 665.9,183.4 667.0,185.7 668.0,183.7 669.0,182.7 670.0,184.4 671.0,182.0 672.0,185.1 673.0,177.2 674.0,183.9 675.0,178.1 676.0,183.8 677.0,184.8 L677.0,243.5 676.0,241.8 675.0,243.2 674.0,241.2 673.0,241.1 672.0,242.3 671.0,240.7 670.0,240.4 669.0,241.8 668.0,242.5 667.0,242.7 665.9,242.1 664.9,240.7 663.9,242.9 662.9,247.7 661.9,241.8 660.9,241.1 659.9,242.2 658.9,241.9 657.9,244.7 656.9,242.2 655.9,241.6 654.9,241.3 653.8,241.6 652.8,241.8 651.8,242.7 650.8,241.0 649.8,242.2 648.8,243.9 647.8,240.5 646.8,242.1 645.8,243.1 644.8,243.5 643.8,243.5 642.7,243.5 641.7,243.5 640.7,242.2 639.7,243.4 638.7,242.6 637.7,246.2 636.7,243.2 635.7,243.4 634.7,243.9 633.7,241.9 632.7,242.2 631.7,242.7 630.6,245.9 629.6,242.0 628.6,243.2 627.6,243.5 626.6,244.0 625.6,243.9 624.6,243.0 623.6,244.0 622.6,243.0 621.6,247.4 620.6,242.7 619.5,245.0 618.5,244.6 617.5,245.7 616.5,243.3 615.5,243.8 614.5,244.5 613.5,244.9 612.5,243.6 611.5,243.8 610.5,243.9 609.5,245.0 608.5,244.2 607.4,243.9 606.4,244.2 605.4,244.5 604.4,244.0 603.4,246.2 602.4,247.3 601.4,243.5 600.4,245.7 599.4,244.1 598.4,245.5 597.4,244.2 596.4,250.3 595.3,244.1 594.3,244.8 593.3,243.9 592.3,244.8 591.3,246.5 590.3,244.7 589.3,243.9 588.3,245.5 587.3,245.4 586.3,246.2 585.3,245.9 584.2,247.4 583.2,246.5 582.2,245.7 581.2,246.7 580.2,246.9 579.2,245.3 578.2,245.2 577.2,247.7 576.2,247.8 575.2,244.7 574.2,246.0 573.2,246.2 572.1,244.7 571.1,246.4 570.1,247.7 569.1,246.8 568.1,244.7 567.1,248.7 566.1,247.7 565.1,250.5 564.1,247.1 563.1,246.0 562.1,247.8 561.1,247.1 560.0,247.0 559.0,247.0 558.0,248.2 557.0,249.6 556.0,248.0 555.0,247.2 554.0,246.3 553.0,247.8 552.0,248.0 551.0,247.6 550.0,246.6 548.9,247.3 547.9,248.3 546.9,248.7 545.9,250.6 544.9,248.1 543.9,247.6 542.9,248.2 541.9,247.4 540.9,248.5 539.9,250.3 538.9,248.5 537.9,248.6 536.8,249.4 535.8,253.3 534.8,252.5 533.8,249.2 532.8,252.7 531.8,249.5 530.8,249.0 529.8,248.8 528.8,253.2 527.8,252.6 526.8,249.3 525.7,252.6 524.7,251.5 523.7,251.5 522.7,251.6 521.7,251.3 520.7,254.2 519.7,253.2 518.7,252.3 517.7,253.8 516.7,254.2 515.7,254.4 514.7,253.6 513.6,254.5 512.6,253.6 511.6,255.2 510.6,255.4 509.6,253.7 508.6,256.7 507.6,255.0 506.6,258.2 505.6,258.7 504.6,258.6 503.6,258.1 502.6,257.6 501.5,260.8 500.5,259.6 499.5,258.9 498.5,260.5 497.5,262.9 496.5,263.3Z" fill="#f4d8f1" fill-opacity="1.000"/>
<path d="M496.5,214.2 497.5,212.6 498.5,209.5 499.5,208.6 500.5,208.0 501.5,205.8 502.6,206.0 503.6,206.3 504.6,203.7 505.6,203.5 506.6,204.4 507.6,202.6 508.6,202.5 509.6,201.5 510.6,201.9 511.6,201.0 512.6,200.6 513.6,199.6 514.7,198.8 515.7,199.6 516.7,199.6 517.7,198.0 518.7,198.5 519.7,198.6 520.7,198.4 521.7,198.0 522.7,197.8 523.7,198.3 524.7,197.9 525.7,196.1 526.8,196.8 527.8,197.3 528.8,197.2 529.8,197.3 530.8,196.6 531.8,197.2 532.8,196.8 533.8,196.5 534.8,196.9 535.8,196.4 536.8,193.4 537.9,196.4 538.9,196.0 539.9,195.9 540.9,196.0 541.9,196.1 542.9,195.8 543.9,193.8 544.9,193.5 545.9,195.5 546.9,195.7 547.9,195.6 548.9,194.6 550.0,195.0 551.0,194.2 552.0,195.4 553.0,195.7 554.0,194.9 555.0,196.2 556.0,195.3 557.0,195.9 558.0,195.5 559.0,194.2 560.0,194.3 561.1,195.6 562.1,195.6 563.1,193.7 564.1,196.0 565.1,195.5 566.1,194.7 567.1,195.5 568.1,194.6 569.1,195.0 570.1,193.5 571.1,188.6 572.1,194.5 573.2,193.1 574.2,193.6 575.2,194.2 576.2,194.8 577.2,193.3 578.2,195.0 579.2,195.4 580.2,193.5 581.2,194.0 582.2,195.4 583.2,194.5 584.2,195.4 585.3,191.0 586.3,194.7 587.3,192.5 588.3,194.0 589.3,194.6 590.3,194.7 591.3,194.1 592.3,194.7 593.3,193.7 594.3,193.0 595.3,193.5 596.4,194.1 597.4,194.0 598.4,194.9 599.4,193.4 600.4,194.4 601.4,193.5 602.4,194.6 603.4,191.6 604.4,194.4 605.4,191.4 606.4,194.5 607.4,194.1 608.5,195.0 609.5,193.5 610.5,191.7 611.5,194.3 612.5,189.9 613.5,192.9 614.5,194.7 615.5,193.2 616.5,193.3 617.5,192.8 618.5,192.6 619.5,193.9 620.6,189.7 621.6,194.1 622.6,193.7 623.6,195.0 624.6,193.5 625.6,194.6 626.6,194.1 627.6,195.4 628.6,191.9 629.6,193.6 630.6,193.8 631.7,193.3 632.7,193.7 633.7,193.9 634.7,191.2 635.7,194.1 636.7,193.6 637.7,191.0 638.7,194.0 639.7,193.5 640.7,193.7 641.7,193.8 642.7,191.1 643.8,194.0 644.8,192.9 645.8,193.2 646.8,194.7 647.8,193.5 648.8,193.1 649.8,193.2 650.8,194.0 651.8,193.4 652.8,194.1 653.8,194.0 654.9,192.3 655.9,193.4 656.9,192.6 657.9,193.2 658.9,192.8 659.9,193.5 660.9,193.0 661.9,193.5 662.9,192.4 663.9,193.4 664.9,194.0 665.9,193.2 667.0,192.3 668.0,194.0 669.0,192.9 670.0,192.9 671.0,192.3 672.0,191.6 673.0,192.9 674.0,191.1 675.0,193.1 676.0,192.9 677.0,192.3 L677.0,237.7 676.0,239.5 675.0,238.6 674.0,238.5 673.0,238.4 672.0,238.5 671.0,239.1 670.0,239.4 669.0,240.6 668.0,238.4 667.0,239.0 665.9,239.4 664.9,238.9 663.9,238.7 662.9,238.6 661.9,243.6 660.9,239.5 659.9,239.9 658.9,239.3 657.9,239.8 656.9,241.1 655.9,239.6 654.9,240.8 653.8,240.5 652.8,239.8 651.8,240.3 650.8,239.7 649.8,239.5 648.8,238.7 647.8,240.0 646.8,239.7 645.8,239.6 644.8,240.3 643.8,240.0 642.7,239.7 641.7,240.8 640.7,241.4 639.7,241.6 638.7,240.1 637.7,240.0 636.7,240.7 635.7,239.7 634.7,240.6 633.7,239.6 632.7,241.3 631.7,240.0 630.6,241.7 629.6,242.4 628.6,242.0 627.6,239.6 626.6,241.0 625.6,240.7 624.6,241.2 623.6,241.1 622.6,241.1 621.6,241.5 620.6,241.3 619.5,241.3 618.5,242.2 617.5,240.9 616.5,241.8 615.5,242.2 614.5,243.2 613.5,241.3 612.5,241.7 611.5,241.1 610.5,241.9 609.5,241.2 608.5,241.1 607.4,242.2 606.4,242.5 605.4,241.7 604.4,242.1 603.4,242.4 602.4,241.9 601.4,240.9 600.4,241.5 599.4,241.7 598.4,242.0 597.4,243.3 596.4,242.2 595.3,242.4 594.3,243.6 593.3,242.4 592.3,243.1 591.3,242.6 590.3,243.2 589.3,242.4 588.3,242.8 587.3,243.0 586.3,242.7 585.3,243.5 584.2,244.8 583.2,244.3 582.2,243.8 581.2,243.3 580.2,244.8 579.2,243.3 578.2,243.1 577.2,244.8 576.2,244.6 575.2,243.5 574.2,244.0 573.2,243.3 572.1,244.0 571.1,243.9 570.1,244.1 569.1,244.2 568.1,244.7 567.1,244.7 566.1,244.2 565.1,244.0 564.1,246.2 563.1,245.4 562.1,244.5 561.1,244.1 560.0,243.3 559.0,244.8 558.0,246.3 557.0,244.3 556.0,245.2 555.0,244.5 554.0,244.8 553.0,245.4 552.0,248.4 551.0,245.4 550.0,244.8 548.9,245.1 547.9,246.1 546.9,245.4 545.9,247.4 544.9,244.4 543.9,245.5 542.9,245.7 541.9,245.9 540.9,246.3 539.9,246.9 538.9,246.4 537.9,246.6 536.8,248.6 535.8,246.6 534.8,246.7 533.8,247.1 532.8,246.3 531.8,247.3 530.8,250.2 529.8,246.6 528.8,247.7 527.8,248.1 526.8,247.9 525.7,248.4 524.7,248.6 523.7,248.9 522.7,249.1 521.7,248.6 520.7,249.4 519.7,249.6 518.7,251.1 517.7,255.4 516.7,250.7 515.7,251.5 514.7,250.9 513.6,251.3 512.6,251.5 511.6,253.2 510.6,253.4 509.6,252.7 508.6,253.9 507.6,254.5 506.6,255.0 505.6,255.8 504.6,255.9 503.6,256.6 502.6,257.2 501.5,260.3 500.5,257.6 499.5,257.3 498.5,258.7 497.5,259.9 496.5,260.2Z" fill="#e6b6e4" fill-opacity="1.000"/>
<line x1="496.5" y1="263.2" x2="690.0" y2="263.2" class="g"/>
<line x1="496.5" y1="237.0" x2="690.0" y2="237.0" class="g"/>
<line x1="496.5" y1="210.9" x2="690.0" y2="210.9" class="g"/>
<line x1="496.5" y1="184.7" x2="690.0" y2="184.7" class="g"/>
<line x1="548.8" y1="170.0" x2="548.8" y2="282.6" class="g"/>
<line x1="601.1" y1="170.0" x2="601.1" y2="282.6" class="g"/>
<line x1="653.4" y1="170.0" x2="653.4" y2="282.6" class="g"/>
<polyline points="496.5,238.6 497.3,240.0 498.0,238.2 498.8,234.6 499.6,235.6 500.4,235.8 501.1,238.0 501.9,235.5 502.7,233.1 503.5,232.5 504.2,231.1 505.0,230.2 505.8,231.0 506.6,229.8 507.3,232.4 508.1,227.9 508.9,230.2 509.7,230.2 510.4,227.5 511.2,227.9 512.0,227.4 512.8,228.7 513.5,227.3 514.3,226.7 515.1,228.7 515.9,227.7 516.6,227.2 517.4,226.6 518.2,226.6 519.0,227.0 519.7,224.8 520.5,224.6 521.3,223.3 522.1,224.9 522.8,225.7 523.6,226.7 524.4,225.3 525.2,225.7 525.9,223.1 526.7,222.8 527.5,222.9 528.3,224.8 529.0,224.7 529.8,223.1 530.6,223.4 531.4,220.7 532.1,221.9 532.9,222.0 533.7,221.6 534.5,220.3 535.2,222.2 536.0,221.2 536.8,223.3 537.6,222.2 538.3,222.7 539.1,221.6 539.9,221.7 540.7,220.4 541.4,220.7 542.2,221.9 543.0,222.1 543.8,221.6 544.5,221.4 545.3,220.8 546.1,221.4 546.9,219.1 547.6,218.9 548.4,219.8 549.2,219.6 550.0,219.1 550.7,218.9 551.5,218.8 552.3,220.3 553.1,219.6 553.8,221.5 554.6,219.4 555.4,218.8 556.2,220.4 556.9,219.2 557.7,219.9 558.5,219.6 559.3,216.7 560.0,218.3 560.8,218.3 561.6,219.0 562.4,218.1 563.1,218.7 563.9,217.8 564.7,219.3 565.5,218.4 566.2,218.9 567.0,220.0 567.8,217.2 568.6,218.1 569.3,219.6 570.1,220.1 570.9,218.8 571.7,219.2 572.4,218.7 573.2,218.8 574.0,217.6 574.8,217.0 575.5,216.7 576.3,219.2 577.1,216.8 577.9,217.8 578.6,218.4 579.4,217.9 580.2,218.1 581.0,216.2 581.7,216.1 582.5,217.0 583.3,217.2 584.1,214.6 584.8,214.5 585.6,216.0 586.4,216.7 587.2,215.4 587.9,215.1 588.7,217.0 589.5,214.2 590.3,216.4 591.0,214.6 591.8,216.4 592.6,215.4 593.4,215.3 594.1,214.6 594.9,213.6 595.7,215.1 596.5,214.9 597.2,214.0 598.0,215.8 598.8,213.2 599.6,217.0 600.3,212.7 601.1,216.0 601.9,214.3 602.7,213.3 603.4,213.9 604.2,215.9 605.0,214.5 605.8,214.1 606.5,213.6 607.3,212.6 608.1,212.7 608.9,212.6 609.6,215.2 610.4,213.0 611.2,215.8 612.0,213.5 612.7,215.5 613.5,216.1 614.3,213.2 615.1,213.9 615.8,212.8 616.6,215.4 617.4,215.5 618.2,213.6 618.9,213.7 619.7,213.3 620.5,214.0 621.3,213.8 622.0,214.7 622.8,212.1 623.6,213.8 624.3,215.0 625.1,212.6 625.9,213.1 626.7,213.3 627.4,213.2 628.2,213.7 629.0,213.6 629.8,215.7 630.5,214.8 631.3,214.2 632.1,212.5 632.9,211.6 633.6,213.0 634.4,212.9 635.2,211.5 636.0,213.2 636.7,212.7 637.5,213.0 638.3,214.6 639.1,213.4 639.8,213.4 640.6,214.8 641.4,214.6 642.2,214.3 642.9,211.4 643.7,210.5 644.5,211.6 645.3,210.7 646.0,213.4 646.8,211.0 647.6,210.3 648.4,210.8 649.1,213.7 649.9,211.3 650.7,212.4 651.5,211.5 652.2,213.0 653.0,212.1 653.8,212.7 654.6,211.4 655.3,212.6 656.1,211.5 656.9,211.4 657.7,211.6 658.4,212.2 659.2,212.0 660.0,211.5 660.8,210.0 661.5,210.5 662.3,210.3 663.1,210.8 663.9,210.9 664.6,212.1 665.4,213.1 666.2,210.8 667.0,210.9 667.7,212.8 668.5,209.6 669.3,213.2 670.1,210.2 670.8,211.3 671.6,211.3 672.4,210.6 673.2,210.7 673.9,211.3 674.7,211.9 675.5,212.3 676.3,211.0 677.0,209.4" fill="none" stroke="#f29af0" stroke-width="1.30" stroke-linejoin="round"/>
<polyline points="496.5,240.8 497.3,240.2 498.0,239.3 498.8,238.7 499.6,238.7 500.4,236.1 501.1,235.7 501.9,235.5 502.7,233.1 503.5,234.8 504.2,232.9 505.0,230.9 505.8,230.8 506.6,232.0 507.3,231.1 508.1,230.2 508.9,230.8 509.7,231.5 510.4,229.4 511.2,229.1 512.0,228.6 512.8,227.2 513.5,227.6 514.3,227.9 515.1,226.5 515.9,225.0 516.6,227.7 517.4,227.4 518.2,227.7 519.0,226.4 519.7,227.7 520.5,225.7 521.3,224.8 522.1,226.0 522.8,225.6 523.6,226.2 524.4,224.2 525.2,225.6 525.9,224.9 526.7,224.3 527.5,224.6 528.3,222.8 529.0,221.4 529.8,225.0 530.6,223.3 531.4,222.0 532.1,223.7 532.9,223.3 533.7,222.7 534.5,221.3 535.2,221.4 536.0,223.2 536.8,222.8 537.6,222.9 538.3,222.5 539.1,223.1 539.9,224.0 540.7,222.7 541.4,220.8 542.2,220.9 543.0,223.7 543.8,221.5 544.5,222.3 545.3,221.0 546.1,222.1 546.9,220.2 547.6,221.1 548.4,220.4 549.2,220.6 550.0,222.8 550.7,221.2 551.5,219.2 552.3,220.4 553.1,219.3 553.8,219.6 554.6,220.0 555.4,219.2 556.2,218.2 556.9,217.9 557.7,217.9 558.5,220.7 559.3,218.7 560.0,221.0 560.8,219.9 561.6,219.6 562.4,218.8 563.1,219.0 563.9,217.5 564.7,219.4 565.5,217.8 566.2,218.3 567.0,219.1 567.8,220.6 568.6,218.7 569.3,219.4 570.1,219.1 570.9,220.0 571.7,220.4 572.4,219.7 573.2,219.8 574.0,219.6 574.8,218.0 575.5,220.3 576.3,217.3 577.1,222.5 577.9,218.1 578.6,219.8 579.4,216.9 580.2,220.1 581.0,218.5 581.7,220.8 582.5,220.9 583.3,218.8 584.1,218.7 584.8,220.2 585.6,217.2 586.4,219.9 587.2,218.4 587.9,221.3 588.7,221.4 589.5,220.0 590.3,221.3 591.0,219.2 591.8,221.7 592.6,219.0 593.4,219.7 594.1,220.4 594.9,219.0 595.7,219.6 596.5,220.3 597.2,218.9 598.0,219.4 598.8,219.3 599.6,218.7 600.3,220.4 601.1,219.8 601.9,221.2 602.7,220.1 603.4,219.9 604.2,221.1 605.0,221.7 605.8,221.1 606.5,220.3 607.3,218.5 608.1,219.6 608.9,220.0 609.6,219.4 610.4,219.2 611.2,218.9 612.0,220.9 612.7,219.7 613.5,219.4 614.3,221.1 615.1,220.2 615.8,221.3 616.6,220.3 617.4,219.6 618.2,222.5 618.9,222.0 619.7,221.7 620.5,220.3 621.3,221.1 622.0,220.0 622.8,221.2 623.6,220.6 624.3,219.0 625.1,219.1 625.9,218.9 626.7,219.2 627.4,217.9 628.2,217.5 629.0,219.0 629.8,219.1 630.5,219.4 631.3,216.5 632.1,218.8 632.9,219.5 633.6,217.7 634.4,216.7 635.2,219.3 636.0,218.3 636.7,219.4 637.5,218.8 638.3,216.2 639.1,217.9 639.8,218.4 640.6,217.6 641.4,216.8 642.2,217.1 642.9,217.9 643.7,217.7 644.5,214.2 645.3,217.0 646.0,215.3 646.8,217.3 647.6,215.5 648.4,216.3 649.1,217.4 649.9,214.9 650.7,218.0 651.5,217.0 652.2,217.8 653.0,217.4 653.8,217.0 654.6,217.4 655.3,216.9 656.1,214.9 656.9,218.0 657.7,217.4 658.4,217.3 659.2,216.5 660.0,215.0 660.8,214.9 661.5,215.1 662.3,215.6 663.1,213.4 663.9,217.0 664.6,217.1 665.4,216.0 666.2,215.9 667.0,216.0 667.7,216.8 668.5,217.3 669.3,216.1 670.1,216.7 670.8,216.1 671.6,216.6 672.4,214.6 673.2,215.5 673.9,214.2 674.7,216.5 675.5,215.6 676.3,216.2 677.0,216.2" fill="none" stroke="#f000f0" stroke-width="1.50" stroke-linejoin="round"/>
<polyline points="496.5,239.9 497.3,239.4 498.0,237.8 498.8,236.9 499.6,236.0 500.4,234.7 501.1,234.0 501.9,234.8 502.7,234.5 503.5,234.3 504.2,232.1 505.0,231.3 505.8,230.9 506.6,232.1 507.3,231.5 508.1,230.5 508.9,229.1 509.7,229.6 510.4,230.0 511.2,230.5 512.0,228.7 512.8,228.2 513.5,229.4 514.3,226.6 515.1,229.2 515.9,227.0 516.6,228.3 517.4,227.6 518.2,228.5 519.0,228.2 519.7,226.3 520.5,227.0 521.3,226.9 522.1,224.9 522.8,224.6 523.6,225.1 524.4,224.2 525.2,222.2 525.9,223.5 526.7,222.3 527.5,222.6 528.3,224.5 529.0,224.9 529.8,222.7 530.6,222.3 531.4,223.2 532.1,224.0 532.9,224.0 533.7,222.3 534.5,222.9 535.2,224.4 536.0,221.4 536.8,221.8 537.6,221.8 538.3,220.8 539.1,220.3 539.9,221.4 540.7,222.0 541.4,224.3 542.2,221.7 543.0,221.8 543.8,220.3 544.5,220.5 545.3,221.0 546.1,219.9 546.9,221.0 547.6,220.8 548.4,221.7 549.2,220.5 550.0,219.6 550.7,218.7 551.5,220.2 552.3,218.7 553.1,217.0 553.8,220.4 554.6,219.5 555.4,219.2 556.2,218.5 556.9,217.4 557.7,218.1 558.5,219.3 559.3,220.3 560.0,219.5 560.8,219.9 561.6,219.3 562.4,220.4 563.1,218.1 563.9,220.3 564.7,219.1 565.5,219.5 566.2,220.5 567.0,219.1 567.8,219.2 568.6,219.3 569.3,218.0 570.1,218.9 570.9,215.5 571.7,216.9 572.4,219.1 573.2,220.4 574.0,216.3 574.8,217.2 575.5,217.2 576.3,218.4 577.1,218.6 577.9,218.9 578.6,214.5 579.4,215.4 580.2,217.8 581.0,215.2 581.7,219.1 582.5,216.8 583.3,217.3 584.1,218.8 584.8,218.4 585.6,218.8 586.4,217.5 587.2,215.9 587.9,215.7 588.7,215.7 589.5,215.1 590.3,217.8 591.0,214.1 591.8,216.3 592.6,217.5 593.4,216.7 594.1,216.6 594.9,215.9 595.7,215.7 596.5,218.0 597.2,214.4 598.0,214.1 598.8,216.9 599.6,214.8 600.3,214.4 601.1,214.7 601.9,214.3 602.7,216.8 603.4,214.8 604.2,216.6 605.0,212.6 605.8,216.3 606.5,216.5 607.3,213.7 608.1,214.6 608.9,214.8 609.6,214.6 610.4,213.9 611.2,212.8 612.0,215.2 612.7,215.1 613.5,214.8 614.3,214.3 615.1,214.5 615.8,215.7 616.6,213.9 617.4,215.5 618.2,214.4 618.9,214.7 619.7,214.2 620.5,212.2 621.3,212.2 622.0,213.2 622.8,212.5 623.6,214.6 624.3,212.4 625.1,214.4 625.9,214.0 626.7,213.8 627.4,214.9 628.2,214.2 629.0,213.8 629.8,213.5 630.5,213.7 631.3,214.5 632.1,214.9 632.9,213.6 633.6,214.9 634.4,215.2 635.2,214.0 636.0,214.0 636.7,215.2 637.5,216.0 638.3,213.6 639.1,212.5 639.8,213.4 640.6,212.9 641.4,214.6 642.2,211.0 642.9,213.3 643.7,211.7 644.5,213.6 645.3,213.0 646.0,213.0 646.8,215.0 647.6,209.9 648.4,214.1 649.1,212.4 649.9,213.4 650.7,212.7 651.5,210.9 652.2,214.2 653.0,212.6 653.8,212.0 654.6,212.6 655.3,212.3 656.1,213.5 656.9,214.4 657.7,213.8 658.4,213.0 659.2,211.7 660.0,212.2 660.8,210.4 661.5,212.0 662.3,212.2 663.1,212.6 663.9,214.3 664.6,211.6 665.4,213.4 666.2,212.5 667.0,209.6 667.7,213.0 668.5,211.0 669.3,211.1 670.1,211.6 670.8,211.9 671.6,212.7 672.4,209.9 673.2,213.9 673.9,213.0 674.7,210.2 675.5,210.8 676.3,212.0 677.0,212.1" fill="none" stroke="#dc6ed0" stroke-width="1.30" stroke-linejoin="round"/>
</g>
<line x1="496.5" y1="170.0" x2="496.5" y2="283.1" class="sp"/>
<line x1="496.0" y1="282.6" x2="690.0" y2="282.6" class="sp"/>
<line x1="494.5" y1="263.2" x2="496.5" y2="263.2" class="tk"/>
<text x="492.9" y="266.3" class="tl" text-anchor="end">1.4</text>
<line x1="494.5" y1="237.0" x2="496.5" y2="237.0" class="tk"/>
<text x="492.9" y="240.1" class="tl" text-anchor="end">1.6</text>
<line x1="494.5" y1="210.9" x2="496.5" y2="210.9" class="tk"/>
<text x="492.9" y="214.0" class="tl" text-anchor="end">1.8</text>
<line x1="494.5" y1="184.7" x2="496.5" y2="184.7" class="tk"/>
<text x="492.9" y="187.8" class="tl" text-anchor="end">2.0</text>
<line x1="496.5" y1="282.6" x2="496.5" y2="284.6" class="tk"/>
<text x="496.5" y="292.3" class="tl" text-anchor="middle">0.0</text>
<line x1="548.8" y1="282.6" x2="548.8" y2="284.6" class="tk"/>
<text x="548.8" y="292.3" class="tl" text-anchor="middle">0.5</text>
<line x1="601.1" y1="282.6" x2="601.1" y2="284.6" class="tk"/>
<text x="601.1" y="292.3" class="tl" text-anchor="middle">1.0</text>
<line x1="653.4" y1="282.6" x2="653.4" y2="284.6" class="tk"/>
<text x="653.4" y="292.3" class="tl" text-anchor="middle">1.5</text>
<text x="590.0" y="302.2" class="al" text-anchor="middle">Time (<tspan font-style="italic">μ</tspan>s)</text>
<text transform="translate(477.1,226.3) rotate(-90)" class="al" text-anchor="middle">RMSD (Å)</text>
<text x="468.0" y="173.3" class="pl">e</text>
<text x="504.8" y="180.2" class="tt" fill="#b02f80">ff14SB (crowders)</text>
<text x="503.4" y="275.4" class="rm" textLength="94.2" lengthAdjust="spacing">⟨<tspan font-style="italic">RMSD</tspan>⟩ = 1.76 ± 0.01 Å</text>
<rect x="625.4" y="247.1" width="55.9" height="32.1" rx="1.5" fill="#fff" fill-opacity="0.8" stroke="#dadada" stroke-width="0.7"/>
<line x1="627.7" y1="253.1" x2="642.2" y2="253.1" stroke="#f29af0" stroke-width="1.3"/>
<text x="647.2" y="255.8" class="lg">Replica 1</text>
<line x1="627.7" y1="263.1" x2="642.2" y2="263.1" stroke="#f000f0" stroke-width="1.3"/>
<text x="647.2" y="265.8" class="lg">Replica 2</text>
<line x1="627.7" y1="273.1" x2="642.2" y2="273.1" stroke="#dc6ed0" stroke-width="1.3"/>
<text x="647.2" y="275.8" class="lg">Replica 3</text>
</g>
</svg>
</body></html>
